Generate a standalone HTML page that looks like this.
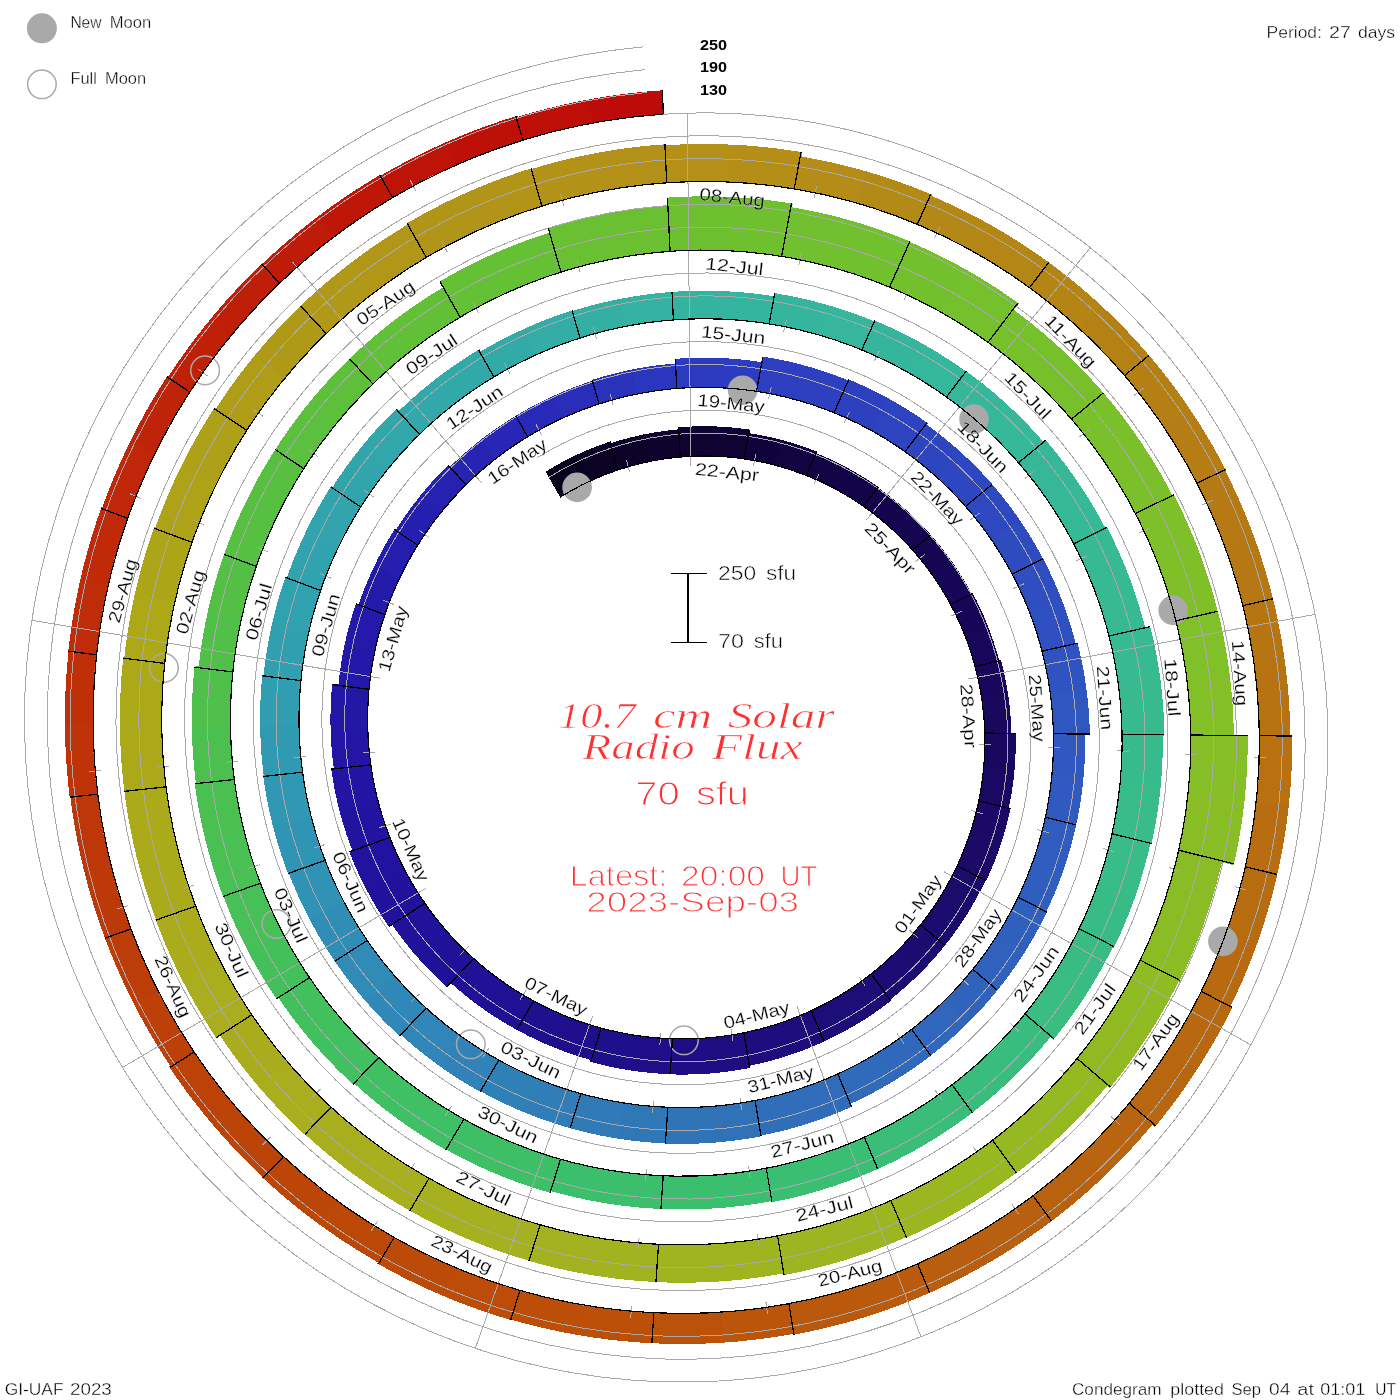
<!DOCTYPE html>
<html lang="en"><head><meta charset="utf-8"><title>10.7 cm Solar Radio Flux Condegram</title>
<style>html,body{margin:0;padding:0;background:#fff}body{width:1400px;height:1400px;overflow:hidden}svg{display:block}</style>
</head><body>
<svg width="1400" height="1400" viewBox="0 0 1400 1400" role="img" aria-label="10.7 cm Solar Radio Flux condegram">
<rect width="1400" height="1400" fill="#fff"/>
<g shape-rendering="crispEdges" stroke="none">
<path fill="#09031e" d="M560.26 497.5 L565.83 494.1 L571.48 490.84 L577.21 487.71 L583.03 484.72 L588.92 481.87 L577.42 454.52 L570.87 457.66 L564.4 460.95 L558.02 464.4 L551.73 468 L545.54 471.75 Z"/>
<path fill="#0a0323" d="M588.35 482.13 L594.31 479.41 L600.34 476.83 L606.44 474.39 L612.59 472.11 L618.81 469.96 L610.64 441.45 L603.73 443.79 L596.89 446.31 L590.12 448.98 L583.41 451.82 L576.79 454.81 Z"/>
<path fill="#0c0328" d="M618.22 470.16 L624.34 468.2 L630.52 466.38 L636.75 464.71 L643.02 463.19 L649.34 461.81 L644.81 434.23 L637.84 435.72 L630.92 437.38 L624.05 439.19 L617.22 441.17 L610.45 443.31 Z"/>
<path fill="#0d032c" d="M648.71 461.94 L655.06 460.7 L661.44 459.61 L667.85 458.67 L674.28 457.88 L680.74 457.24 L679.45 429.32 L672.33 430 L665.23 430.84 L658.16 431.85 L651.12 433.03 L644.12 434.37 Z"/>
<path fill="#0e0331" d="M680.11 457.3 L686.59 456.8 L693.08 456.46 L699.59 456.27 L706.1 456.23 L712.62 456.35 L714.72 426.41 L707.49 426.25 L700.26 426.26 L693.04 426.45 L685.84 426.8 L678.65 427.32 Z"/>
<path fill="#0f0336" d="M711.98 456.33 L718.5 456.59 L725.02 457.01 L731.53 457.58 L738.04 458.3 L744.53 459.18 L750.09 429.69 L742.9 428.69 L735.69 427.86 L728.47 427.2 L721.24 426.71 L714.01 426.39 Z"/>
<path fill="#10033b" d="M743.89 459.09 L750.37 460.11 L756.82 461.29 L763.26 462.62 L769.66 464.1 L776.04 465.74 L783.9 440.55 L776.93 438.74 L769.92 437.09 L762.88 435.61 L755.81 434.29 L748.72 433.15 Z"/>
<path fill="#110440" d="M775.41 465.57 L781.76 467.35 L788.06 469.28 L794.32 471.35 L800.54 473.58 L806.71 475.96 L817.45 451.86 L810.7 449.23 L803.9 446.77 L797.06 444.47 L790.16 442.34 L783.22 440.37 Z"/>
<path fill="#120445" d="M806.11 475.72 L812.23 478.23 L818.29 480.89 L824.3 483.7 L830.24 486.65 L836.12 489.74 L848.71 468.52 L842.32 465.14 L835.86 461.91 L829.34 458.83 L822.75 455.92 L816.09 453.16 Z"/>
<path fill="#13044a" d="M835.54 489.43 L841.36 492.65 L847.1 496.02 L852.76 499.52 L858.35 503.15 L863.85 506.93 L878.82 487.31 L872.85 483.19 L866.78 479.21 L860.63 475.39 L854.4 471.71 L848.08 468.19 Z"/>
<path fill="#14044e" d="M863.32 506.55 L868.74 510.44 L874.07 514.47 L879.32 518.62 L884.46 522.9 L889.51 527.31 L906.18 510.06 L900.72 505.26 L895.15 500.6 L889.47 496.08 L883.69 491.69 L877.82 487.45 Z"/>
<path fill="#150551" d="M889.02 526.87 L893.98 531.39 L898.83 536.03 L903.58 540.79 L908.21 545.66 L912.74 550.64 L931.29 535.45 L926.4 530.02 L921.39 524.72 L916.26 519.55 L911.01 514.5 L905.65 509.58 Z"/>
<path fill="#150553" d="M912.3 550.15 L916.72 555.24 L921.02 560.43 L925.2 565.73 L929.25 571.13 L933.18 576.64 L953.37 563.7 L949.13 557.72 L944.75 551.85 L940.24 546.09 L935.59 540.44 L930.82 534.91 Z"/>
<path fill="#160655" d="M932.8 576.09 L936.62 581.68 L940.3 587.37 L943.85 593.14 L947.26 599.01 L950.54 604.96 L972.1 594.45 L968.57 587.99 L964.88 581.62 L961.06 575.35 L957.08 569.18 L952.96 563.11 Z"/>
<path fill="#170657" d="M950.23 604.37 L953.38 610.39 L956.39 616.49 L959.26 622.67 L961.98 628.92 L964.55 635.23 L988.27 626.92 L985.49 620.04 L982.55 613.24 L979.45 606.51 L976.2 599.87 L972.79 593.31 Z"/>
<path fill="#17075a" d="M964.31 634.61 L966.75 640.99 L969.04 647.43 L971.18 653.92 L973.17 660.48 L975 667.08 L999.52 661.57 L997.55 654.39 L995.41 647.26 L993.1 640.19 L990.64 633.18 L988 626.24 Z"/>
<path fill="#18075c" d="M974.82 666.43 L976.52 673.07 L978.05 679.77 L979.43 686.5 L980.64 693.26 L981.7 700.06 L1008.51 697.25 L1007.38 689.82 L1006.07 682.41 L1004.59 675.05 L1002.94 667.73 L1001.12 660.46 Z"/>
<path fill="#18085e" d="M981.6 699.4 L982.51 706.22 L983.26 713.08 L983.85 719.95 L984.27 726.85 L984.53 733.75 L1011.49 734.07 L1011.23 726.53 L1010.79 718.99 L1010.17 711.48 L1009.38 703.99 L1008.41 696.52 Z"/>
<path fill="#190860" d="M984.51 733.08 L984.62 739.99 L984.57 746.92 L984.35 753.84 L983.97 760.77 L983.42 767.69 L1014.36 771.68 L1014.99 764.02 L1015.44 756.36 L1015.71 748.69 L1015.8 741.03 L1015.7 733.37 Z"/>
<path fill="#1a0963" d="M983.48 767.01 L982.79 773.93 L981.92 780.83 L980.9 787.71 L979.71 794.58 L978.35 801.42 L1008.62 808.97 L1010.14 801.41 L1011.49 793.82 L1012.65 786.21 L1013.63 778.58 L1014.43 770.93 Z"/>
<path fill="#1a0966" d="M978.49 800.75 L976.99 807.56 L975.33 814.34 L973.5 821.09 L971.51 827.8 L969.36 834.46 L1000.22 846.11 L1002.64 838.71 L1004.88 831.26 L1006.94 823.77 L1008.82 816.23 L1010.51 808.66 Z"/>
<path fill="#1b0a68" d="M969.58 833.81 L967.28 840.44 L964.83 847.01 L962.22 853.52 L959.45 859.98 L956.53 866.38 L985.83 881.53 L989.1 874.44 L992.2 867.27 L995.13 860.04 L997.89 852.74 L1000.46 845.39 Z"/>
<path fill="#1b0b6b" d="M956.82 865.76 L953.76 872.09 L950.55 878.36 L947.18 884.56 L943.67 890.68 L940.01 896.72 L966.75 914.77 L970.83 908.09 L974.75 901.32 L978.5 894.46 L982.09 887.52 L985.51 880.51 Z"/>
<path fill="#1c0b6e" d="M940.37 896.13 L936.58 902.1 L932.64 907.97 L928.56 913.76 L924.34 919.45 L919.98 925.05 L944.45 946.08 L949.3 939.9 L954 933.6 L958.54 927.21 L962.93 920.71 L967.15 914.11 Z"/>
<path fill="#1c0c70" d="M920.42 924.51 L915.94 930.01 L911.32 935.42 L906.58 940.71 L901.7 945.9 L896.7 950.97 L918.56 974.7 L924.12 969.1 L929.54 963.38 L934.81 957.53 L939.95 951.56 L944.93 945.48 Z"/>
<path fill="#1c0c73" d="M897.2 950.48 L892.09 955.45 L886.85 960.3 L881.5 965.03 L876.04 969.64 L870.46 974.11 L889.41 1000.22 L895.61 995.28 L901.68 990.21 L907.62 984.99 L913.43 979.64 L919.11 974.16 Z"/>
<path fill="#1d0d76" d="M871.01 973.68 L865.33 978.04 L859.54 982.27 L853.65 986.36 L847.66 990.31 L841.58 994.13 L858.08 1023.52 L864.86 1019.31 L871.54 1014.93 L878.1 1010.41 L884.55 1005.73 L890.88 1000.91 Z"/>
<path fill="#1d0d79" d="M842.18 993.76 L836.01 997.45 L829.74 1000.99 L823.39 1004.38 L816.95 1007.63 L810.44 1010.72 L823.42 1041.83 L830.67 1038.42 L837.83 1034.84 L844.91 1031.09 L851.88 1027.18 L858.75 1023.11 Z"/>
<path fill="#1d0d7c" d="M811.08 1010.42 L804.49 1013.38 L797.83 1016.18 L791.1 1018.82 L784.3 1021.31 L777.44 1023.63 L786.73 1056.08 L794.36 1053.52 L801.92 1050.79 L809.41 1047.88 L816.82 1044.79 L824.15 1041.54 Z"/>
<path fill="#1d0d7f" d="M778.12 1023.41 L771.2 1025.59 L764.23 1027.61 L757.21 1029.46 L750.14 1031.14 L743.02 1032.66 L748.49 1065.96 L756.39 1064.31 L764.25 1062.46 L772.05 1060.44 L779.8 1058.22 L787.49 1055.83 Z"/>
<path fill="#1e0e82" d="M743.72 1032.52 L736.57 1033.88 L729.39 1035.08 L722.17 1036.11 L714.92 1036.96 L707.65 1037.65 L709.31 1073.53 L717.43 1072.8 L725.53 1071.87 L733.6 1070.76 L741.63 1069.45 L749.62 1067.95 Z"/>
<path fill="#1e0e85" d="M708.36 1037.59 L701.07 1038.12 L693.76 1038.47 L686.44 1038.65 L679.11 1038.66 L671.78 1038.49 L669.27 1074.32 L677.45 1074.54 L685.63 1074.56 L693.8 1074.39 L701.96 1074.03 L710.11 1073.47 Z"/>
<path fill="#1e0e87" d="M672.5 1038.51 L665.17 1038.19 L657.84 1037.69 L650.51 1037.02 L643.2 1036.17 L635.91 1035.15 L629.29 1070.26 L637.42 1071.43 L645.57 1072.4 L653.73 1073.18 L661.9 1073.77 L670.08 1074.16 Z"/>
<path fill="#1e0f8a" d="M636.63 1035.25 L629.35 1034.07 L622.1 1032.72 L614.88 1031.19 L607.68 1029.5 L600.53 1027.62 L589.88 1061.73 L597.84 1063.84 L605.85 1065.77 L613.9 1067.5 L621.98 1069.04 L630.09 1070.38 Z"/>
<path fill="#1f0f8d" d="M601.23 1027.82 L594.11 1025.79 L587.04 1023.59 L580.01 1021.23 L573.04 1018.69 L566.12 1015.99 L552.37 1046.86 L560.03 1049.87 L567.74 1052.71 L575.52 1055.36 L583.35 1057.82 L591.23 1060.09 Z"/>
<path fill="#1f1090" d="M566.8 1016.27 L559.94 1013.41 L553.14 1010.4 L546.41 1007.22 L539.75 1003.88 L533.17 1000.38 L515.93 1029.44 L523.21 1033.34 L530.57 1037.06 L538.01 1040.61 L545.53 1043.98 L553.12 1047.16 Z"/>
<path fill="#201093" d="M533.81 1000.73 L527.3 997.09 L520.87 993.29 L514.53 989.33 L508.28 985.22 L502.13 980.96 L481.63 1007.82 L488.43 1012.56 L495.33 1017.13 L502.34 1021.53 L509.44 1025.77 L516.64 1029.83 Z"/>
<path fill="#201196" d="M502.73 981.39 L496.66 976.99 L490.69 972.45 L484.83 967.77 L479.08 962.94 L473.44 957.98 L449.96 982.27 L456.19 987.79 L462.54 993.15 L469.01 998.36 L475.59 1003.41 L482.29 1008.29 Z"/>
<path fill="#201199" d="M473.98 958.47 L468.45 953.38 L463.03 948.16 L457.73 942.8 L452.55 937.32 L447.51 931.71 L416.95 956.74 L422.59 963.07 L428.39 969.26 L434.32 975.3 L440.39 981.2 L446.6 986.95 Z"/>
<path fill="#21129c" d="M448 932.26 L443.07 926.54 L438.27 920.7 L433.62 914.74 L429.1 908.67 L424.72 902.48 L391.46 923.8 L396.35 930.77 L401.4 937.61 L406.61 944.33 L411.98 950.91 L417.49 957.37 Z"/>
<path fill="#21129e" d="M425.14 903.09 L420.9 896.81 L416.8 890.43 L412.85 883.94 L409.05 877.36 L405.4 870.68 L366.46 889.67 L370.57 897.26 L374.85 904.75 L379.3 912.13 L383.93 919.4 L388.72 926.55 Z"/>
<path fill="#2113a0" d="M405.75 871.34 L402.25 864.58 L398.91 857.74 L395.73 850.81 L392.71 843.8 L389.85 836.72 L348.97 851.05 L352.18 859.1 L355.57 867.07 L359.15 874.94 L362.91 882.73 L366.86 890.42 Z"/>
<path fill="#2214a1" d="M390.13 837.42 L387.42 830.27 L384.89 823.06 L382.52 815.78 L380.33 808.44 L378.31 801.04 L339.24 809.81 L341.48 818.13 L343.92 826.39 L346.54 834.58 L349.36 842.71 L352.37 850.75 Z"/>
<path fill="#2215a3" d="M378.5 801.77 L376.64 794.33 L374.95 786.83 L373.45 779.3 L372.12 771.73 L370.96 764.12 L331.14 768.29 L332.4 776.85 L333.87 785.36 L335.53 793.83 L337.39 802.26 L339.45 810.63 Z"/>
<path fill="#2316a4" d="M371.07 764.86 L370.08 757.22 L369.27 749.56 L368.65 741.87 L368.21 734.16 L367.95 726.44 L330.5 726 L330.76 734.61 L331.23 743.2 L331.89 751.78 L332.76 760.33 L333.84 768.86 Z"/>
<path fill="#2317a6" d="M367.97 727.2 L367.87 719.47 L367.96 711.73 L368.24 703.99 L368.69 696.25 L369.34 688.52 L332.2 683.73 L331.45 692.35 L330.91 700.97 L330.58 709.59 L330.44 718.22 L330.52 726.84 Z"/>
<path fill="#2318a7" d="M369.26 689.28 L370.07 681.56 L371.07 673.85 L372.24 666.17 L373.6 658.51 L375.14 650.87 L344.92 643.33 L343.2 651.68 L341.69 660.07 L340.38 668.48 L339.27 676.91 L338.36 685.37 Z"/>
<path fill="#2419a9" d="M374.98 651.62 L376.69 644.02 L378.58 636.45 L380.65 628.92 L382.9 621.44 L385.33 614.01 L356.18 603.01 L353.5 611.14 L351.01 619.32 L348.72 627.55 L346.63 635.83 L344.74 644.15 Z"/>
<path fill="#241aaa" d="M385.08 614.74 L387.67 607.36 L390.44 600.03 L393.38 592.77 L396.49 585.58 L399.78 578.45 L374.58 565.42 L370.99 573.15 L367.59 580.95 L364.37 588.83 L361.35 596.77 L358.52 604.78 Z"/>
<path fill="#251dad" d="M399.45 579.15 L402.89 572.09 L406.51 565.11 L410.29 558.21 L414.23 551.4 L418.34 544.68 L394.82 528.81 L390.35 536.09 L386.04 543.48 L381.92 550.95 L377.98 558.52 L374.22 566.17 Z"/>
<path fill="#251faf" d="M417.93 545.33 L422.19 538.7 L426.6 532.16 L431.18 525.73 L435.9 519.4 L440.79 513.17 L420.37 495.63 L415.08 502.34 L409.95 509.17 L404.99 516.11 L400.2 523.17 L395.58 530.33 Z"/>
<path fill="#2621b1" d="M440.3 513.78 L445.32 507.66 L450.48 501.66 L455.79 495.77 L461.25 490.01 L466.84 484.38 L448.6 464.58 L442.54 470.65 L436.63 476.86 L430.88 483.21 L425.28 489.68 L419.84 496.28 Z"/>
<path fill="#2724b4" d="M466.29 484.93 L472 479.41 L477.85 474.03 L483.83 468.78 L489.94 463.68 L496.17 458.71 L481.86 439 L475.16 444.31 L468.6 449.77 L462.17 455.38 L455.88 461.14 L449.73 467.05 Z"/>
<path fill="#2726b6" d="M495.56 459.19 L501.9 454.36 L508.36 449.68 L514.94 445.14 L521.62 440.77 L528.41 436.54 L516.48 415.3 L509.19 419.81 L502.01 424.49 L494.95 429.34 L488.01 434.34 L481.19 439.51 Z"/>
<path fill="#2829b8" d="M527.74 436.95 L534.63 432.87 L541.62 428.96 L548.7 425.21 L555.88 421.62 L563.14 418.2 L553.76 395.72 L545.96 399.36 L538.26 403.19 L530.66 407.2 L523.16 411.38 L515.76 415.73 Z"/>
<path fill="#292dba" d="M562.43 418.53 L569.77 415.27 L577.19 412.18 L584.69 409.27 L592.26 406.53 L599.91 403.97 L593.2 380.55 L585 383.27 L576.88 386.19 L568.83 389.29 L560.87 392.59 L552.99 396.07 Z"/>
<path fill="#2a32bc" d="M599.15 404.21 L606.85 401.82 L614.61 399.6 L622.43 397.57 L630.3 395.73 L638.22 394.07 L634.12 369.12 L625.62 370.88 L617.16 372.85 L608.76 375.01 L600.41 377.37 L592.13 379.93 Z"/>
<path fill="#2b36be" d="M637.44 394.22 L645.39 392.73 L653.39 391.43 L661.42 390.32 L669.48 389.4 L677.57 388.67 L676.4 363.41 L667.71 364.18 L659.05 365.15 L650.43 366.32 L641.84 367.7 L633.29 369.28 Z"/>
<path fill="#2c3ac0" d="M676.77 388.73 L684.88 388.17 L693 387.81 L701.13 387.63 L709.28 387.65 L717.42 387.87 L719.52 358.01 L710.66 357.75 L701.81 357.71 L692.96 357.87 L684.13 358.25 L675.32 358.83 Z"/>
<path fill="#2c3cc0" d="M716.62 387.84 L724.77 388.23 L732.91 388.81 L741.04 389.59 L749.15 390.56 L757.25 391.72 L762.8 362.31 L754 361.02 L745.18 359.94 L736.35 359.08 L727.5 358.42 L718.65 357.97 Z"/>
<path fill="#2d3ec0" d="M756.46 391.6 L764.53 392.94 L772.58 394.47 L780.59 396.19 L788.57 398.11 L796.5 400.21 L807.12 366.22 L798.38 363.87 L789.59 361.73 L780.75 359.8 L771.88 358.09 L762.98 356.59 Z"/>
<path fill="#2d40c0" d="M795.73 400 L803.62 402.27 L811.46 404.74 L819.25 407.39 L826.98 410.23 L834.64 413.25 L849.14 380.72 L840.7 377.36 L832.19 374.2 L823.61 371.25 L814.97 368.51 L806.27 365.98 Z"/>
<path fill="#2d41c0" d="M833.9 412.95 L841.5 416.14 L849.03 419.51 L856.48 423.06 L863.86 426.79 L871.15 430.7 L889.84 399.18 L881.8 394.84 L873.67 390.69 L865.44 386.74 L857.13 382.99 L848.73 379.44 Z"/>
<path fill="#2d43c0" d="M870.43 430.31 L877.64 434.38 L884.76 438.61 L891.77 443.03 L898.69 447.6 L905.5 452.35 L927.73 423.22 L920.22 417.95 L912.6 412.87 L904.86 407.97 L897.01 403.27 L889.06 398.75 Z"/>
<path fill="#2e45c0" d="M904.83 451.88 L911.54 456.77 L918.14 461.83 L924.62 467.04 L930.98 472.41 L937.21 477.94 L961.48 452.82 L954.65 446.72 L947.67 440.8 L940.56 435.04 L933.32 429.46 L925.96 424.06 Z"/>
<path fill="#2e47c0" d="M936.61 477.39 L942.73 483.05 L948.71 488.86 L954.56 494.81 L960.28 500.91 L965.85 507.14 L992.87 485.01 L986.77 478.14 L980.51 471.42 L974.09 464.86 L967.53 458.46 L960.82 452.21 Z"/>
<path fill="#2e48c0" d="M965.31 506.53 L970.74 512.88 L976.03 519.37 L981.17 525.99 L986.16 532.73 L990.98 539.6 L1020.33 520.79 L1015.05 513.24 L1009.59 505.81 L1003.97 498.53 L998.17 491.38 L992.22 484.38 Z"/>
<path fill="#2e4bc0" d="M990.51 538.92 L995.19 545.89 L999.71 552.97 L1004.06 560.17 L1008.24 567.47 L1012.25 574.88 L1043.58 559.6 L1039.2 551.46 L1034.63 543.43 L1029.87 535.51 L1024.94 527.72 L1019.82 520.04 Z"/>
<path fill="#2f4ec0" d="M1011.87 574.15 L1015.72 581.64 L1019.39 589.23 L1022.89 596.91 L1026.21 604.67 L1029.34 612.52 L1062.23 600.99 L1058.81 592.36 L1055.2 583.83 L1051.38 575.39 L1047.37 567.04 L1043.16 558.8 Z"/>
<path fill="#2f50c0" d="M1029.04 611.75 L1032 619.67 L1034.78 627.66 L1037.37 635.72 L1039.77 643.85 L1041.98 652.04 L1075.99 644.4 L1073.59 635.41 L1070.98 626.48 L1068.16 617.63 L1065.14 608.84 L1061.9 600.14 Z"/>
<path fill="#2f53c0" d="M1041.77 651.23 L1043.8 659.47 L1045.64 667.77 L1047.28 676.1 L1048.73 684.48 L1049.97 692.9 L1086.46 689.08 L1085.11 679.79 L1083.55 670.55 L1081.76 661.35 L1079.76 652.21 L1077.55 643.12 Z"/>
<path fill="#3056c0" d="M1049.86 692.08 L1050.92 700.53 L1051.79 709.01 L1052.45 717.51 L1052.92 726.03 L1053.17 734.57 L1089.86 735 L1089.6 725.6 L1089.11 716.2 L1088.41 706.83 L1087.48 697.48 L1086.34 688.17 Z"/>
<path fill="#3058c0" d="M1053.16 733.73 L1053.23 742.28 L1053.11 750.83 L1052.78 759.38 L1052.24 767.93 L1051.51 776.47 L1083.24 780.56 L1084.06 771.27 L1084.67 761.96 L1085.05 752.65 L1085.21 743.34 L1085.15 734.04 Z"/>
<path fill="#305abf" d="M1051.59 775.63 L1050.67 784.16 L1049.54 792.67 L1048.22 801.15 L1046.69 809.61 L1044.96 818.04 L1076 825.79 L1077.91 816.62 L1079.59 807.42 L1081.06 798.19 L1082.3 788.93 L1083.33 779.65 Z"/>
<path fill="#305cbf" d="M1045.14 817.21 L1043.23 825.61 L1041.11 833.96 L1038.8 842.26 L1036.29 850.51 L1033.59 858.71 L1063.52 870.01 L1066.48 861.1 L1069.24 852.12 L1071.77 843.1 L1074.09 834.02 L1076.2 824.89 Z"/>
<path fill="#305ebe" d="M1033.86 857.91 L1030.98 866.05 L1027.9 874.12 L1024.63 882.13 L1021.16 890.06 L1017.51 897.92 L1045.93 912.61 L1049.92 904.08 L1053.71 895.46 L1057.29 886.76 L1060.66 877.98 L1063.82 869.13 Z"/>
<path fill="#3060bd" d="M1017.87 897.15 L1014.05 904.93 L1010.04 912.62 L1005.85 920.22 L1001.47 927.72 L996.91 935.12 L1024 953.4 L1028.98 945.35 L1033.77 937.19 L1038.36 928.93 L1042.75 920.56 L1046.94 912.09 Z"/>
<path fill="#3062bd" d="M997.37 934.4 L992.65 941.71 L987.75 948.9 L982.69 955.99 L977.45 962.95 L972.04 969.8 L996.83 991.1 L1002.73 983.66 L1008.45 976.09 L1013.99 968.39 L1019.34 960.56 L1024.5 952.62 Z"/>
<path fill="#3064bc" d="M972.58 969.13 L967.03 975.87 L961.31 982.47 L955.44 988.94 L949.4 995.27 L943.22 1001.46 L965.36 1025.5 L972.11 1018.77 L978.69 1011.9 L985.11 1004.87 L991.35 997.69 L997.41 990.38 Z"/>
<path fill="#3066bb" d="M943.83 1000.86 L937.51 1006.93 L931.04 1012.84 L924.43 1018.6 L917.68 1024.21 L910.8 1029.66 L930 1056.1 L937.51 1050.19 L944.87 1044.1 L952.08 1037.85 L959.13 1031.43 L966.03 1024.85 Z"/>
<path fill="#3068bb" d="M911.48 1029.13 L904.47 1034.44 L897.33 1039.58 L890.07 1044.55 L882.69 1049.35 L875.19 1053.98 L891.23 1082.54 L899.41 1077.53 L907.45 1072.32 L915.37 1066.93 L923.15 1061.35 L930.79 1055.59 Z"/>
<path fill="#306aba" d="M875.93 1053.54 L868.33 1058.01 L860.62 1062.3 L852.81 1066.41 L844.89 1070.33 L836.88 1074.07 L849.49 1104.3 L858.22 1100.26 L866.84 1096 L875.36 1091.55 L883.76 1086.9 L892.04 1082.06 Z"/>
<path fill="#306cb9" d="M837.67 1073.72 L829.57 1077.28 L821.39 1080.66 L813.12 1083.85 L804.77 1086.84 L796.35 1089.63 L806.23 1124.12 L815.47 1121.09 L824.63 1117.83 L833.7 1114.37 L842.68 1110.69 L851.56 1106.8 Z"/>
<path fill="#306eb9" d="M797.18 1089.36 L788.69 1091.98 L780.14 1094.39 L771.53 1096.6 L762.86 1098.6 L754.14 1100.4 L759.95 1135.81 L769.51 1133.87 L779.01 1131.69 L788.46 1129.29 L797.83 1126.67 L807.14 1123.84 Z"/>
<path fill="#3071b8" d="M755 1100.24 L746.24 1101.85 L737.43 1103.26 L728.59 1104.46 L719.72 1105.44 L710.82 1106.22 L712.52 1142.79 L722.29 1141.96 L732.02 1140.9 L741.73 1139.61 L751.39 1138.09 L761.01 1136.35 Z"/>
<path fill="#3074b8" d="M711.7 1106.16 L702.78 1106.74 L693.84 1107.12 L684.89 1107.28 L675.93 1107.23 L666.97 1106.97 L664.41 1143.49 L674.24 1143.8 L684.07 1143.88 L693.88 1143.73 L703.69 1143.34 L713.48 1142.72 Z"/>
<path fill="#3077b8" d="M667.85 1107.01 L658.9 1106.55 L649.95 1105.89 L641.01 1105.01 L632.09 1103.91 L623.19 1102.61 L616.43 1138.43 L626.18 1139.89 L635.96 1141.11 L645.76 1142.1 L655.57 1142.86 L665.39 1143.38 Z"/>
<path fill="#307ab8" d="M624.06 1102.74 L615.19 1101.25 L606.34 1099.54 L597.54 1097.62 L588.78 1095.49 L580.06 1093.15 L569.19 1127.95 L578.74 1130.54 L588.33 1132.89 L597.98 1135.02 L607.67 1136.92 L617.39 1138.58 Z"/>
<path fill="#307db8" d="M580.91 1093.39 L572.25 1090.86 L563.63 1088.13 L555.08 1085.19 L546.6 1082.05 L538.19 1078.7 L523.35 1112 L532.56 1115.69 L541.85 1119.16 L551.21 1122.4 L560.63 1125.42 L570.13 1128.21 Z"/>
<path fill="#3080b8" d="M539.01 1079.04 L530.66 1075.51 L522.4 1071.78 L514.22 1067.86 L506.13 1063.74 L498.14 1059.42 L479.54 1090.77 L488.28 1095.52 L497.13 1100.06 L506.08 1104.38 L515.12 1108.49 L524.25 1112.37 Z"/>
<path fill="#3082b8" d="M498.92 1059.85 L491.02 1055.36 L483.22 1050.69 L475.52 1045.82 L467.94 1040.77 L460.48 1035.54 L438 1065 L446.16 1070.76 L454.46 1076.32 L462.88 1081.68 L471.43 1086.83 L480.08 1091.77 Z"/>
<path fill="#3086b8" d="M461.21 1036.06 L453.85 1030.66 L446.63 1025.09 L439.53 1019.35 L432.56 1013.43 L425.74 1007.35 L399.98 1034 L407.45 1040.69 L415.07 1047.2 L422.83 1053.51 L430.74 1059.64 L438.79 1065.58 Z"/>
<path fill="#3088b8" d="M426.4 1007.95 L419.7 1001.72 L413.15 995.32 L406.74 988.77 L400.49 982.06 L394.4 975.21 L364.37 999.8 L371.05 1007.37 L377.91 1014.77 L384.94 1022 L392.14 1029.05 L399.49 1035.93 Z"/>
<path fill="#308cb7" d="M394.99 975.89 L389.04 968.89 L383.26 961.76 L377.64 954.48 L372.19 947.07 L366.92 939.52 L334.23 960.47 L340.01 968.78 L345.99 976.95 L352.15 984.98 L358.49 992.84 L365.02 1000.55 Z"/>
<path fill="#308eb6" d="M367.43 940.27 L362.32 932.61 L357.38 924.82 L352.63 916.92 L348.07 908.9 L343.69 900.76 L308.77 917.79 L313.55 926.75 L318.55 935.58 L323.75 944.29 L329.16 952.87 L334.76 961.31 Z"/>
<path fill="#3092b5" d="M344.12 901.57 L339.91 893.34 L335.91 885 L332.09 876.57 L328.48 868.05 L325.07 859.43 L288.4 872.29 L292.13 881.77 L296.08 891.16 L300.24 900.44 L304.63 909.61 L309.23 918.67 Z"/>
<path fill="#3094b4" d="M325.4 860.28 L322.17 851.59 L319.15 842.82 L316.33 833.98 L313.72 825.06 L311.33 816.08 L272.56 824.78 L275.17 834.68 L278.02 844.51 L281.09 854.26 L284.4 863.93 L287.93 873.52 Z"/>
<path fill="#3098b3" d="M311.55 816.96 L309.35 807.93 L307.36 798.83 L305.59 789.69 L304.03 780.5 L302.69 771.28 L263.17 775.42 L264.62 785.59 L266.31 795.71 L268.24 805.78 L270.4 815.8 L272.8 825.76 Z"/>
<path fill="#309ab2" d="M302.81 772.18 L301.67 762.92 L300.75 753.63 L300.04 744.31 L299.56 734.98 L299.3 725.63 L260.1 725.16 L260.36 735.44 L260.87 745.71 L261.61 755.96 L262.6 766.18 L263.83 776.36 Z"/>
<path fill="#309eb1" d="M299.32 726.54 L299.26 717.18 L299.42 707.82 L299.81 698.45 L300.42 689.09 L301.25 679.74 L262.37 674.73 L261.43 685 L260.74 695.29 L260.28 705.58 L260.08 715.88 L260.12 726.17 Z"/>
<path fill="#30a0b0" d="M301.16 680.66 L302.19 671.32 L303.44 662.01 L304.92 652.72 L306.62 643.47 L308.54 634.25 L271.76 625.07 L269.63 635.17 L267.75 645.3 L266.11 655.47 L264.71 665.67 L263.55 675.9 Z"/>
<path fill="#30a1af" d="M308.34 635.15 L310.46 625.97 L312.79 616.84 L315.34 607.76 L318.11 598.73 L321.1 589.77 L285.64 576.39 L282.34 586.19 L279.29 596.07 L276.47 606.01 L273.88 616.01 L271.54 626.06 Z"/>
<path fill="#31a3ae" d="M320.8 590.65 L323.98 581.75 L327.37 572.92 L330.97 564.17 L334.78 555.5 L338.8 546.92 L306.56 530.24 L302.15 539.59 L297.97 549.04 L294.02 558.58 L290.3 568.2 L286.8 577.91 Z"/>
<path fill="#31a4ad" d="M338.4 547.75 L342.6 539.25 L347.01 530.85 L351.62 522.55 L356.43 514.36 L361.44 506.28 L331.34 485.97 L325.87 494.77 L320.6 503.7 L315.55 512.74 L310.72 521.89 L306.12 531.15 Z"/>
<path fill="#31a5ac" d="M360.94 507.07 L366.12 499.09 L371.49 491.23 L377.05 483.5 L382.8 475.9 L388.72 468.43 L362.38 445.78 L355.92 453.88 L349.66 462.13 L343.6 470.52 L337.74 479.04 L332.1 487.7 Z"/>
<path fill="#31a6ab" d="M388.14 469.15 L394.23 461.81 L400.49 454.6 L406.94 447.55 L413.55 440.64 L420.32 433.89 L396.79 408.34 L389.41 415.66 L382.21 423.14 L375.2 430.79 L368.37 438.6 L361.74 446.57 Z"/>
<path fill="#32a8aa" d="M419.65 434.55 L426.58 427.94 L433.66 421.49 L440.9 415.21 L448.3 409.1 L455.84 403.16 L437.37 377.74 L429.23 384.12 L421.25 390.69 L413.44 397.45 L405.79 404.38 L398.31 411.49 Z"/>
<path fill="#32a9a9" d="M455.09 403.74 L462.76 397.96 L470.57 392.36 L478.52 386.95 L486.59 381.72 L494.8 376.69 L479.41 349.29 L470.56 354.7 L461.85 360.32 L453.27 366.13 L444.84 372.15 L436.57 378.36 Z"/>
<path fill="#32aaa8" d="M493.99 377.17 L502.3 372.31 L510.74 367.65 L519.28 363.18 L527.94 358.91 L536.7 354.85 L525.57 328.18 L516.18 332.51 L506.9 337.06 L497.73 341.83 L488.69 346.81 L479.77 352.01 Z"/>
<path fill="#33ada6" d="M535.84 355.24 L544.69 351.36 L553.64 347.7 L562.67 344.24 L571.8 341 L581 337.97 L573.04 310.19 L563.18 313.41 L553.4 316.87 L543.72 320.55 L534.13 324.46 L524.64 328.59 Z"/>
<path fill="#33afa4" d="M580.09 338.26 L589.36 335.43 L598.7 332.82 L608.11 330.43 L617.58 328.27 L627.1 326.32 L622.52 298.4 L612.33 300.46 L602.21 302.76 L592.15 305.3 L582.15 308.07 L572.24 311.08 Z"/>
<path fill="#34b2a2" d="M626.16 326.5 L635.73 324.77 L645.34 323.25 L654.99 321.97 L664.67 320.91 L674.39 320.09 L673.08 291.83 L662.69 292.69 L652.34 293.8 L642.02 295.15 L631.75 296.75 L621.52 298.59 Z"/>
<path fill="#34b4a0" d="M673.43 320.16 L683.17 319.54 L692.92 319.16 L702.68 319 L712.45 319.08 L722.23 319.39 L724.21 291.16 L713.76 290.81 L703.32 290.71 L692.89 290.86 L682.46 291.26 L672.06 291.9 Z"/>
<path fill="#34b59f" d="M721.27 319.35 L731.04 319.87 L740.8 320.62 L750.55 321.6 L760.27 322.82 L769.97 324.26 L775.22 296.46 L764.85 294.9 L754.46 293.58 L744.05 292.51 L733.62 291.69 L723.18 291.12 Z"/>
<path fill="#35b59e" d="M769.02 324.11 L778.7 325.77 L788.33 327.65 L797.93 329.77 L807.48 332.11 L816.97 334.68 L826.35 304.66 L816.14 301.87 L805.87 299.33 L795.55 297.03 L785.19 294.98 L774.78 293.18 Z"/>
<path fill="#35b69d" d="M816.04 334.42 L825.49 337.2 L834.87 340.2 L844.18 343.43 L853.42 346.87 L862.58 350.54 L875.38 321.81 L865.54 317.84 L855.61 314.11 L845.59 310.63 L835.51 307.38 L825.35 304.37 Z"/>
<path fill="#35b69c" d="M861.69 350.17 L870.77 354.04 L879.77 358.12 L888.67 362.42 L897.47 366.94 L906.17 371.66 L922.71 343.78 L913.35 338.68 L903.87 333.79 L894.28 329.14 L884.59 324.72 L874.81 320.54 Z"/>
<path fill="#35b79b" d="M905.32 371.19 L913.93 376.1 L922.41 381.21 L930.78 386.53 L939.03 392.06 L947.14 397.77 L966.8 372.01 L958.07 365.83 L949.2 359.86 L940.19 354.11 L931.06 348.58 L921.8 343.27 Z"/>
<path fill="#36b79a" d="M946.35 397.21 L954.35 403.1 L962.21 409.19 L969.92 415.46 L977.49 421.92 L984.91 428.57 L1007.7 404.98 L999.71 397.8 L991.56 390.82 L983.26 384.04 L974.8 377.46 L966.18 371.09 Z"/>
<path fill="#36b899" d="M984.19 427.91 L991.47 434.71 L998.59 441.69 L1005.55 448.84 L1012.34 456.16 L1018.95 463.64 L1044.32 442.86 L1037.21 434.78 L1029.9 426.88 L1022.42 419.16 L1014.76 411.62 L1006.92 404.27 Z"/>
<path fill="#36b898" d="M1018.31 462.9 L1024.77 470.53 L1031.05 478.31 L1037.15 486.25 L1043.06 494.33 L1048.78 502.56 L1078.77 483.34 L1072.58 474.41 L1066.19 465.63 L1059.6 457.01 L1052.8 448.56 L1045.81 440.27 Z"/>
<path fill="#36b996" d="M1048.23 501.74 L1053.77 510.09 L1059.12 518.58 L1064.27 527.19 L1069.22 535.93 L1073.96 544.8 L1105.98 529.19 L1100.86 519.57 L1095.51 510.09 L1089.95 500.73 L1084.17 491.52 L1078.17 482.46 Z"/>
<path fill="#37b994" d="M1073.5 543.92 L1078.06 552.89 L1082.4 561.96 L1086.52 571.15 L1090.43 580.43 L1094.12 589.81 L1129.42 577.43 L1125.43 567.22 L1121.2 557.11 L1116.73 547.11 L1112.03 537.22 L1107.09 527.45 Z"/>
<path fill="#37ba92" d="M1093.77 588.89 L1097.26 598.35 L1100.53 607.9 L1103.57 617.52 L1106.38 627.23 L1108.96 637 L1145.46 628.81 L1142.68 618.17 L1139.64 607.61 L1136.35 597.12 L1132.82 586.73 L1129.04 576.43 Z"/>
<path fill="#37ba90" d="M1108.72 636.04 L1111.09 645.87 L1113.24 655.77 L1115.14 665.71 L1116.81 675.71 L1118.25 685.74 L1160.61 681.3 L1159.06 670.26 L1157.25 659.26 L1155.18 648.32 L1152.85 637.43 L1150.26 626.61 Z"/>
<path fill="#37bb8e" d="M1118.12 684.76 L1119.34 694.83 L1120.32 704.93 L1121.06 715.06 L1121.56 725.22 L1121.82 735.38 L1164.41 735.89 L1164.15 724.71 L1163.63 713.55 L1162.84 702.41 L1161.79 691.29 L1160.47 680.22 Z"/>
<path fill="#38bb8c" d="M1121.8 734.38 L1121.85 744.56 L1121.65 754.74 L1121.2 764.92 L1120.52 775.09 L1119.59 785.25 L1160.25 790.49 L1161.29 779.36 L1162.06 768.22 L1162.57 757.08 L1162.82 745.92 L1162.8 734.78 Z"/>
<path fill="#38bc8a" d="M1119.7 784.25 L1118.55 794.39 L1117.17 804.51 L1115.54 814.6 L1113.67 824.65 L1111.57 834.66 L1151.34 844.59 L1153.67 833.63 L1155.74 822.63 L1157.55 811.58 L1159.09 800.5 L1160.36 789.4 Z"/>
<path fill="#38bc88" d="M1111.78 833.68 L1109.46 843.65 L1106.9 853.57 L1104.11 863.43 L1101.08 873.22 L1097.81 882.95 L1135.1 897.02 L1138.68 886.41 L1142.02 875.71 L1145.09 864.95 L1147.91 854.13 L1150.47 843.24 Z"/>
<path fill="#38bc85" d="M1098.14 882 L1094.67 891.66 L1090.96 901.24 L1087.03 910.74 L1082.87 920.14 L1078.49 929.45 L1113.88 947.76 L1118.69 937.6 L1123.26 927.34 L1127.57 916.98 L1131.64 906.53 L1135.46 895.99 Z"/>
<path fill="#38bc83" d="M1078.93 928.54 L1074.34 937.76 L1069.53 946.87 L1064.51 955.88 L1059.27 964.76 L1053.82 973.52 L1085.8 995.11 L1091.76 985.58 L1097.49 975.92 L1102.98 966.13 L1108.23 956.22 L1113.25 946.19 Z"/>
<path fill="#39bd80" d="M1054.36 972.67 L1048.72 981.32 L1042.87 989.83 L1036.81 998.21 L1030.56 1006.45 L1024.11 1014.55 L1053.37 1039.7 L1060.41 1030.91 L1067.24 1021.95 L1073.85 1012.84 L1080.24 1003.58 L1086.4 994.18 Z"/>
<path fill="#39bd7e" d="M1024.75 1013.76 L1018.12 1021.72 L1011.3 1029.52 L1004.29 1037.16 L997.1 1044.64 L989.73 1051.95 L1013.24 1077.48 L1021.21 1069.6 L1028.99 1061.54 L1036.57 1053.31 L1043.95 1044.9 L1051.12 1036.32 Z"/>
<path fill="#39bd7c" d="M990.46 1051.24 L982.93 1058.4 L975.23 1065.38 L967.36 1072.17 L959.33 1078.79 L951.13 1085.21 L971.52 1113.29 L980.38 1106.37 L989.06 1099.25 L997.57 1091.93 L1005.89 1084.42 L1014.03 1076.71 Z"/>
<path fill="#39bd79" d="M951.94 1084.59 L943.61 1090.84 L935.13 1096.89 L926.49 1102.75 L917.72 1108.4 L908.81 1113.84 L925.8 1144.1 L935.43 1138.24 L944.9 1132.16 L954.23 1125.86 L963.4 1119.35 L972.4 1112.62 Z"/>
<path fill="#39bd77" d="M909.69 1113.31 L900.66 1118.57 L891.5 1123.61 L882.23 1128.44 L872.83 1133.04 L863.32 1137.43 L876.68 1169.45 L886.95 1164.74 L897.1 1159.79 L907.11 1154.6 L917 1149.18 L926.75 1143.53 Z"/>
<path fill="#3abe74" d="M864.26 1137.01 L854.65 1141.19 L844.94 1145.14 L835.14 1148.87 L825.24 1152.36 L815.26 1155.62 L824.82 1189.02 L835.6 1185.52 L846.28 1181.77 L856.86 1177.77 L867.34 1173.53 L877.71 1169.03 Z"/>
<path fill="#3abe72" d="M816.24 1155.31 L806.18 1158.36 L796.05 1161.17 L785.85 1163.74 L775.58 1166.06 L765.26 1168.15 L770.89 1202.43 L782.02 1200.2 L793.1 1197.71 L804.1 1194.96 L815.03 1191.95 L825.88 1188.69 Z"/>
<path fill="#3abe70" d="M766.27 1167.95 L755.9 1169.82 L745.48 1171.43 L735.02 1172.8 L724.53 1173.93 L714 1174.8 L715.56 1208.32 L726.88 1207.4 L738.17 1206.21 L749.42 1204.76 L760.63 1203.04 L771.79 1201.06 Z"/>
<path fill="#3bbe6e" d="M715.04 1174.72 L704.49 1175.37 L693.92 1175.77 L683.34 1175.92 L672.76 1175.81 L662.17 1175.45 L659.82 1208.93 L671.2 1209.33 L682.59 1209.46 L693.96 1209.33 L705.32 1208.92 L716.67 1208.24 Z"/>
<path fill="#3cbf6c" d="M663.21 1175.5 L652.63 1174.92 L642.06 1174.08 L631.5 1172.99 L620.97 1171.66 L610.47 1170.07 L604.25 1203.04 L615.54 1204.77 L626.85 1206.23 L638.2 1207.42 L649.56 1208.33 L660.94 1208.98 Z"/>
<path fill="#3cbf6a" d="M611.5 1170.23 L601.02 1168.42 L590.59 1166.36 L580.21 1164.04 L569.87 1161.49 L559.59 1158.68 L549.59 1190.71 L560.63 1193.74 L571.73 1196.51 L582.89 1199.02 L594.1 1201.26 L605.35 1203.22 Z"/>
<path fill="#3dbf68" d="M560.6 1158.97 L550.38 1155.94 L540.23 1152.67 L530.15 1149.16 L520.16 1145.4 L510.25 1141.41 L495.82 1173.81 L506.5 1178.13 L517.28 1182.2 L528.14 1186.01 L539.08 1189.56 L550.1 1192.84 Z"/>
<path fill="#3ebf66" d="M511.22 1141.81 L501.39 1137.61 L491.66 1133.17 L482.04 1128.49 L472.52 1123.59 L463.11 1118.46 L445.02 1148.96 L455.15 1154.51 L465.41 1159.82 L475.78 1164.88 L486.27 1169.69 L496.86 1174.24 Z"/>
<path fill="#3fc064" d="M464.03 1118.97 L454.73 1113.64 L445.56 1108.09 L436.52 1102.31 L427.61 1096.32 L418.84 1090.11 L397.07 1118.64 L406.52 1125.35 L416.13 1131.84 L425.88 1138.09 L435.77 1144.1 L445.79 1149.88 Z"/>
<path fill="#3fc062" d="M419.69 1090.73 L411.05 1084.34 L402.56 1077.73 L394.23 1070.93 L386.05 1063.92 L378.04 1056.72 L353.1 1082.53 L361.74 1090.31 L370.55 1097.89 L379.53 1105.25 L388.68 1112.39 L397.99 1119.31 Z"/>
<path fill="#40c060" d="M378.82 1057.43 L370.96 1050.06 L363.27 1042.49 L355.76 1034.74 L348.43 1026.81 L341.29 1018.71 L312.38 1042.39 L320.09 1051.17 L328.01 1059.77 L336.12 1068.17 L344.42 1076.37 L352.91 1084.37 Z"/>
<path fill="#42c05d" d="M341.98 1019.51 L335.01 1011.25 L328.24 1002.82 L321.66 994.22 L315.29 985.47 L309.12 976.57 L277.66 996.73 L284.31 1006.38 L291.19 1015.86 L298.29 1025.17 L305.6 1034.3 L313.13 1043.26 Z"/>
<path fill="#44c05a" d="M309.72 977.44 L303.74 968.4 L297.97 959.22 L292.42 949.89 L287.09 940.43 L281.99 930.84 L246.4 948.19 L251.93 958.62 L257.7 968.91 L263.71 979.05 L269.96 989.04 L276.44 998.88 Z"/>
<path fill="#46c057" d="M282.48 931.79 L277.57 922.09 L272.9 912.27 L268.46 902.33 L264.25 892.29 L260.29 882.15 L222.93 895.24 L227.22 906.27 L231.77 917.19 L236.57 927.99 L241.63 938.67 L246.94 949.22 Z"/>
<path fill="#48c054" d="M260.66 883.15 L256.91 872.91 L253.4 862.59 L250.14 852.18 L247.12 841.68 L244.35 831.12 L205.35 839.87 L208.34 851.36 L211.6 862.77 L215.13 874.09 L218.92 885.32 L222.98 896.46 Z"/>
<path fill="#4ac051" d="M244.61 832.16 L242.06 821.53 L239.77 810.83 L237.73 800.08 L235.94 789.28 L234.41 778.44 L194.67 782.6 L196.31 794.39 L198.22 806.13 L200.42 817.82 L202.89 829.45 L205.63 841 Z"/>
<path fill="#4cc04e" d="M234.55 779.5 L233.26 768.62 L232.22 757.7 L231.44 746.76 L230.92 735.79 L230.66 724.81 L191.84 724.35 L192.1 736.25 L192.64 748.14 L193.46 760 L194.57 771.84 L195.95 783.64 Z"/>
<path fill="#4ec04b" d="M230.67 725.89 L230.65 714.9 L230.88 703.9 L231.38 692.91 L232.14 681.93 L233.16 670.96 L194.66 666 L193.53 677.88 L192.69 689.78 L192.13 701.69 L191.85 713.61 L191.85 725.52 Z"/>
<path fill="#50c048" d="M233.05 672.04 L234.31 661.09 L235.82 650.17 L237.6 639.28 L239.64 628.43 L241.93 617.63 L208.3 609.23 L205.81 620.84 L203.61 632.49 L201.68 644.19 L200.03 655.92 L198.66 667.69 Z"/>
<path fill="#53c045" d="M241.69 618.68 L244.22 607.93 L247 597.23 L250.04 586.59 L253.33 576.02 L256.87 565.53 L224.44 553.29 L220.62 564.55 L217.07 575.9 L213.78 587.32 L210.78 598.82 L208.04 610.37 Z"/>
<path fill="#56c042" d="M256.52 566.55 L260.28 556.13 L264.3 545.8 L268.57 535.56 L273.07 525.42 L277.83 515.38 L247.04 499.46 L241.92 510.23 L237.06 521.12 L232.46 532.11 L228.12 543.2 L224.06 554.39 Z"/>
<path fill="#58c040" d="M277.35 516.36 L282.32 506.42 L287.52 496.6 L292.96 486.9 L298.63 477.32 L304.53 467.88 L275.8 448.49 L269.45 458.62 L263.34 468.89 L257.48 479.3 L251.87 489.84 L246.52 500.51 Z"/>
<path fill="#5bc03d" d="M303.94 468.8 L310.05 459.48 L316.38 450.3 L322.92 441.27 L329.69 432.4 L336.66 423.68 L310.43 401.13 L302.93 410.48 L295.65 420 L288.61 429.68 L281.8 439.52 L275.23 449.52 Z"/>
<path fill="#5ec03a" d="M335.97 424.53 L343.13 415.96 L350.5 407.55 L358.08 399.32 L365.85 391.27 L373.81 383.4 L350.38 357.96 L341.81 366.4 L333.46 375.03 L325.32 383.85 L317.39 392.85 L309.69 402.04 Z"/>
<path fill="#60c038" d="M373.02 384.16 L381.15 376.46 L389.47 368.95 L397.97 361.64 L406.65 354.53 L415.5 347.62 L395.17 319.63 L385.67 327.03 L376.35 334.65 L367.21 342.49 L358.27 350.53 L349.53 358.78 Z"/>
<path fill="#62c036" d="M414.62 348.28 L423.62 341.56 L432.78 335.05 L442.1 328.76 L451.56 322.68 L461.18 316.83 L444.24 286.68 L433.92 292.94 L423.75 299.44 L413.74 306.18 L403.9 313.15 L394.23 320.35 Z"/>
<path fill="#64c035" d="M460.23 317.4 L469.97 311.75 L479.85 306.33 L489.87 301.15 L500 296.2 L510.26 291.5 L494.34 253.35 L483.18 258.44 L472.15 263.8 L461.26 269.41 L450.51 275.28 L439.9 281.4 Z"/>
<path fill="#66c034" d="M509.25 291.95 L519.61 287.46 L530.08 283.21 L540.66 279.22 L551.33 275.47 L562.09 271.98 L550.71 232.24 L539 236.02 L527.4 240.07 L515.9 244.39 L504.51 248.98 L493.24 253.84 Z"/>
<path fill="#68c032" d="M561.03 272.31 L571.87 269.05 L582.79 266.04 L593.79 263.29 L604.85 260.81 L615.98 258.58 L608.6 213.61 L596.41 216.02 L584.28 218.72 L572.23 221.71 L560.26 224.98 L548.38 228.53 Z"/>
<path fill="#6ac031" d="M614.89 258.79 L626.06 256.8 L637.29 255.08 L648.56 253.62 L659.87 252.43 L671.21 251.51 L669.1 205.99 L656.68 206.97 L644.29 208.25 L631.95 209.82 L619.65 211.68 L607.4 213.84 Z"/>
<path fill="#6cc030" d="M670.1 251.59 L681.46 250.91 L692.84 250.51 L704.23 250.37 L715.63 250.5 L727.03 250.91 L730.81 197 L718.13 196.52 L705.45 196.34 L692.78 196.47 L680.11 196.89 L667.47 197.62 Z"/>
<path fill="#6ec02f" d="M725.91 250.85 L737.31 251.5 L748.69 252.42 L760.05 253.61 L771.39 255.07 L782.69 256.8 L792.71 203.7 L780.14 201.75 L767.53 200.09 L754.9 198.74 L742.24 197.69 L729.57 196.94 Z"/>
<path fill="#70c02f" d="M781.59 256.62 L792.86 258.59 L804.09 260.83 L815.26 263.34 L826.38 266.12 L837.44 269.16 L852.46 221.07 L840.26 217.69 L827.98 214.6 L815.65 211.8 L803.25 209.3 L790.81 207.1 Z"/>
<path fill="#71c02e" d="M836.36 268.85 L847.35 272.12 L858.27 275.66 L869.11 279.46 L879.86 283.52 L890.52 287.84 L911.02 241.82 L899.26 237.03 L887.4 232.53 L875.45 228.3 L863.4 224.37 L851.27 220.73 Z"/>
<path fill="#73c02d" d="M889.48 287.4 L900.04 291.94 L910.51 296.74 L920.86 301.79 L931.09 307.08 L941.2 312.62 L966.57 269.85 L955.44 263.72 L944.17 257.86 L932.77 252.28 L921.25 246.96 L909.61 241.93 Z"/>
<path fill="#75c02d" d="M940.22 312.06 L950.21 317.82 L960.07 323.81 L969.79 330.04 L979.36 336.51 L988.79 343.2 L1018.95 303.67 L1008.58 296.27 L998.05 289.12 L987.35 282.24 L976.49 275.6 L965.49 269.24 Z"/>
<path fill="#76c02c" d="M987.87 342.53 L997.15 349.43 L1006.27 356.55 L1015.23 363.88 L1024.01 371.43 L1032.61 379.19 L1061.52 349.27 L1052.2 340.83 L1042.68 332.62 L1032.98 324.64 L1023.09 316.9 L1013.03 309.4 Z"/>
<path fill="#78c02b" d="M1031.78 378.42 L1040.22 386.37 L1048.47 394.52 L1056.53 402.87 L1064.4 411.41 L1072.06 420.14 L1104.25 393.78 L1095.95 384.29 L1087.43 375.01 L1078.7 365.94 L1069.76 357.08 L1060.61 348.44 Z"/>
<path fill="#7ac02b" d="M1071.32 419.28 L1078.8 428.18 L1086.07 437.25 L1093.13 446.51 L1099.96 455.93 L1106.58 465.51 L1141.61 443.07 L1134.45 432.65 L1127.05 422.42 L1119.41 412.37 L1111.54 402.51 L1103.44 392.84 Z"/>
<path fill="#7bc02a" d="M1105.94 464.57 L1112.35 474.3 L1118.54 484.18 L1124.48 494.22 L1130.2 504.4 L1135.67 514.72 L1173.07 496.49 L1167.15 485.29 L1160.98 474.24 L1154.54 463.34 L1147.85 452.61 L1140.92 442.04 Z"/>
<path fill="#7dc029" d="M1135.14 513.7 L1140.39 524.13 L1145.4 534.7 L1150.16 545.38 L1154.66 556.19 L1158.91 567.1 L1199.61 552.83 L1195.01 540.95 L1190.13 529.2 L1184.98 517.57 L1179.56 506.07 L1173.87 494.71 Z"/>
<path fill="#7fc029" d="M1158.5 566.02 L1162.52 577.03 L1166.27 588.13 L1169.76 599.32 L1172.99 610.6 L1175.95 621.96 L1218.03 612.52 L1214.83 600.16 L1211.35 587.89 L1207.57 575.71 L1203.51 563.63 L1199.17 551.66 Z"/>
<path fill="#80c028" d="M1175.67 620.85 L1178.38 632.27 L1180.83 643.77 L1183 655.32 L1184.9 666.93 L1186.52 678.58 L1229.65 674.06 L1227.9 661.38 L1225.86 648.76 L1223.52 636.19 L1220.88 623.68 L1217.95 611.25 Z"/>
<path fill="#83bf27" d="M1186.38 677.44 L1187.75 689.13 L1188.85 700.86 L1189.67 712.62 L1190.21 724.4 L1190.46 736.2 L1233.82 736.71 L1233.56 723.89 L1233 711.08 L1232.13 698.29 L1230.96 685.53 L1229.49 672.82 Z"/>
<path fill="#85be26" d="M1190.45 735.04 L1190.46 746.84 L1190.18 758.65 L1189.63 770.45 L1188.8 782.25 L1187.68 794.02 L1244.45 801.34 L1245.72 788.22 L1246.69 775.07 L1247.33 761.91 L1247.67 748.75 L1247.69 735.59 Z"/>
<path fill="#88bd25" d="M1187.8 792.87 L1186.43 804.63 L1184.79 816.35 L1182.86 828.04 L1180.66 839.69 L1178.17 851.28 L1233.71 865.14 L1236.51 852.23 L1238.99 839.25 L1241.17 826.23 L1243.04 813.16 L1244.59 800.06 Z"/>
<path fill="#8abd25" d="M1178.43 850.15 L1175.7 861.7 L1172.69 873.18 L1169.41 884.6 L1165.86 895.94 L1162.04 907.19 L1204.17 923.1 L1208.36 910.84 L1212.26 898.48 L1215.85 886.05 L1219.15 873.53 L1222.15 860.95 Z"/>
<path fill="#8cbc24" d="M1162.43 906.09 L1158.36 917.27 L1154.03 928.36 L1149.44 939.34 L1144.58 950.22 L1139.46 960.99 L1179.47 981.68 L1185.06 969.96 L1190.38 958.11 L1195.41 946.15 L1200.15 934.08 L1204.6 921.9 Z"/>
<path fill="#8fbb23" d="M1139.98 959.94 L1134.63 970.6 L1129.03 981.13 L1123.17 991.53 L1117.07 1001.8 L1110.72 1011.92 L1147.36 1036.65 L1154.28 1025.65 L1160.94 1014.49 L1167.33 1003.18 L1173.44 991.73 L1179.28 980.15 Z"/>
<path fill="#91ba22" d="M1111.35 1010.94 L1104.79 1020.93 L1097.98 1030.76 L1090.94 1040.44 L1083.67 1049.95 L1076.17 1059.3 L1109.69 1088.11 L1117.86 1077.96 L1125.79 1067.63 L1133.46 1057.12 L1140.89 1046.43 L1148.05 1035.58 Z"/>
<path fill="#94b921" d="M1076.91 1058.39 L1069.21 1067.57 L1061.29 1076.57 L1053.15 1085.39 L1044.8 1094.01 L1036.25 1102.44 L1063.92 1132.48 L1073.18 1123.39 L1082.22 1114.08 L1091.03 1104.57 L1099.61 1094.85 L1107.95 1084.94 Z"/>
<path fill="#96b921" d="M1037.1 1101.63 L1028.36 1109.87 L1019.42 1117.91 L1010.29 1125.75 L1000.97 1133.36 L991.47 1140.76 L1015.47 1173.8 L1025.75 1165.83 L1035.83 1157.62 L1045.71 1149.17 L1055.38 1140.5 L1064.84 1131.6 Z"/>
<path fill="#98b820" d="M992.41 1140.04 L982.75 1147.24 L972.92 1154.2 L962.91 1160.94 L952.75 1167.44 L942.43 1173.69 L962.28 1209.04 L973.43 1202.3 L984.42 1195.3 L995.23 1188.05 L1005.86 1180.54 L1016.31 1172.79 Z"/>
<path fill="#9ab720" d="M943.45 1173.09 L932.99 1179.13 L922.39 1184.92 L911.64 1190.46 L900.77 1195.75 L889.76 1200.78 L905.37 1238.19 L917.26 1232.78 L929.01 1227.09 L940.62 1221.13 L952.08 1214.89 L963.38 1208.39 Z"/>
<path fill="#9bb620" d="M890.84 1200.3 L879.73 1205.09 L868.5 1209.63 L857.15 1213.89 L845.71 1217.89 L834.16 1221.62 L845.17 1260.04 L857.62 1256.04 L869.97 1251.75 L882.21 1247.16 L894.33 1242.3 L906.32 1237.14 Z"/>
<path fill="#9db520" d="M835.3 1221.26 L823.67 1224.74 L811.96 1227.95 L800.17 1230.88 L788.31 1233.52 L776.38 1235.89 L782.85 1275.33 L795.71 1272.8 L808.51 1269.96 L821.22 1266.83 L833.85 1263.39 L846.39 1259.66 Z"/>
<path fill="#9fb520" d="M777.55 1235.67 L765.57 1237.78 L753.53 1239.61 L741.45 1241.15 L729.33 1242.41 L717.18 1243.38 L718.95 1281.51 L732.01 1280.49 L745.03 1279.16 L758.01 1277.52 L770.94 1275.58 L783.82 1273.33 Z"/>
<path fill="#a0b420" d="M718.37 1243.29 L706.2 1244 L694 1244.42 L681.79 1244.55 L669.58 1244.39 L657.37 1243.94 L654.69 1282.01 L667.81 1282.52 L680.93 1282.71 L694.05 1282.59 L707.15 1282.16 L720.23 1281.42 Z"/>
<path fill="#a2b320" d="M658.56 1243.99 L646.36 1243.28 L634.17 1242.28 L622 1240.98 L609.85 1239.4 L597.74 1237.53 L590.69 1274.96 L603.68 1276.99 L616.72 1278.71 L629.79 1280.12 L642.88 1281.22 L655.99 1282 Z"/>
<path fill="#a3b220" d="M598.93 1237.72 L586.86 1235.59 L574.84 1233.17 L562.87 1230.47 L550.96 1227.48 L539.13 1224.21 L527.77 1260.57 L540.47 1264.1 L553.25 1267.33 L566.1 1270.25 L579 1272.87 L591.96 1275.18 Z"/>
<path fill="#a5b120" d="M540.28 1224.54 L528.51 1221.01 L516.83 1217.21 L505.22 1213.12 L493.72 1208.76 L482.31 1204.12 L466.89 1238.74 L479.12 1243.74 L491.46 1248.44 L503.9 1252.84 L516.44 1256.94 L529.07 1260.75 Z"/>
<path fill="#a7b120" d="M483.43 1204.59 L472.12 1199.7 L460.92 1194.55 L449.85 1189.13 L438.9 1183.45 L428.09 1177.5 L408.74 1210.1 L420.34 1216.5 L432.08 1222.61 L443.95 1228.44 L455.96 1233.99 L468.08 1239.25 Z"/>
<path fill="#a8b020" d="M429.14 1178.1 L418.45 1171.92 L407.9 1165.49 L397.51 1158.8 L387.27 1151.87 L377.19 1144.69 L354.2 1174.82 L364.99 1182.54 L375.97 1189.99 L387.11 1197.18 L398.41 1204.1 L409.87 1210.74 Z"/>
<path fill="#a8af1f" d="M378.17 1145.4 L368.25 1138.01 L358.49 1130.37 L348.92 1122.51 L339.54 1114.41 L330.34 1106.09 L304 1133.35 L313.85 1142.29 L323.91 1150.99 L334.16 1159.44 L344.61 1167.64 L355.25 1175.59 Z"/>
<path fill="#a9ae1e" d="M331.23 1106.92 L322.21 1098.4 L313.39 1089.66 L304.78 1080.72 L296.37 1071.56 L288.18 1062.21 L258.5 1086.52 L267.28 1096.57 L276.28 1106.41 L285.52 1116.02 L294.97 1125.41 L304.64 1134.57 Z"/>
<path fill="#a9ad1d" d="M288.98 1063.13 L280.99 1053.6 L273.22 1043.88 L265.69 1033.97 L258.38 1023.87 L251.32 1013.61 L219.02 1034.3 L226.58 1045.33 L234.4 1056.17 L242.48 1066.82 L250.79 1077.27 L259.35 1087.51 Z"/>
<path fill="#aaad1d" d="M252 1014.62 L245.16 1004.2 L238.56 993.61 L232.21 982.87 L226.11 971.97 L220.28 960.93 L181.95 979.61 L188.24 991.56 L194.82 1003.35 L201.66 1014.97 L208.78 1026.43 L216.16 1037.71 Z"/>
<path fill="#aaac1c" d="M220.84 962.01 L215.24 950.84 L209.9 939.53 L204.83 928.1 L200.03 916.54 L195.5 904.86 L155.27 918.97 L160.14 931.59 L165.31 944.1 L170.77 956.47 L176.52 968.7 L182.56 980.78 Z"/>
<path fill="#aaab1b" d="M195.93 906.01 L191.66 894.23 L187.66 882.35 L183.94 870.38 L180.51 858.31 L177.36 846.16 L136.21 855.39 L139.59 868.52 L143.28 881.56 L147.27 894.5 L151.57 907.33 L156.17 920.06 Z"/>
<path fill="#abaa1a" d="M177.66 847.35 L174.77 835.13 L172.17 822.83 L169.87 810.48 L167.86 798.06 L166.14 785.6 L124.19 790 L126.03 803.46 L128.18 816.86 L130.65 830.21 L133.43 843.48 L136.53 856.69 Z"/>
<path fill="#aba919" d="M166.29 786.82 L164.84 774.32 L163.69 761.77 L162.83 749.2 L162.27 736.61 L162.01 724 L119.88 723.5 L120.14 737.11 L120.72 750.7 L121.62 764.27 L122.85 777.81 L124.4 791.31 Z"/>
<path fill="#aca919" d="M162.02 725.23 L162.04 712.61 L162.35 699.99 L162.96 687.38 L163.87 674.77 L165.08 662.19 L123.28 656.8 L121.96 670.38 L120.96 683.98 L120.28 697.59 L119.92 711.21 L119.89 724.83 Z"/>
<path fill="#aca818" d="M164.94 663.42 L166.42 650.86 L168.2 638.33 L170.28 625.84 L172.65 613.39 L175.32 601 L135.47 591.06 L132.58 604.4 L130 617.79 L127.75 631.24 L125.81 644.73 L124.2 658.26 Z"/>
<path fill="#ada518" d="M175.05 602.22 L177.98 589.88 L181.21 577.61 L184.73 565.42 L188.55 553.31 L192.65 541.28 L154.22 526.78 L149.79 539.72 L145.67 552.76 L141.85 565.88 L138.36 579.09 L135.18 592.36 Z"/>
<path fill="#ada218" d="M192.23 542.46 L196.59 530.52 L201.23 518.68 L206.16 506.95 L211.36 495.34 L216.85 483.84 L181.55 465.59 L175.65 477.93 L170.04 490.4 L164.73 502.99 L159.72 515.7 L155.02 528.51 Z"/>
<path fill="#aea018" d="M216.3 484.97 L222.03 473.59 L228.03 462.34 L234.3 451.24 L240.83 440.28 L247.63 429.48 L214.69 407.25 L207.38 418.84 L200.34 430.6 L193.59 442.52 L187.13 454.58 L180.96 466.8 Z"/>
<path fill="#af9d18" d="M246.95 430.53 L253.98 419.87 L261.26 409.37 L268.8 399.04 L276.58 388.9 L284.6 378.93 L255.77 354.15 L247.16 364.81 L238.82 375.66 L230.74 386.7 L222.93 397.93 L215.39 409.33 Z"/>
<path fill="#af9a18" d="M283.8 379.9 L292.04 370.1 L300.52 360.5 L309.22 351.1 L318.15 341.9 L327.3 332.91 L301.53 304.95 L291.73 314.56 L282.16 324.39 L272.83 334.44 L263.75 344.71 L254.91 355.18 Z"/>
<path fill="#b09818" d="M326.39 333.78 L335.73 324.99 L345.28 316.42 L355.04 308.07 L365 299.95 L375.16 292.07 L352.82 261.3 L341.94 269.73 L331.27 278.4 L320.81 287.32 L310.58 296.48 L300.56 305.88 Z"/>
<path fill="#b19618" d="M374.15 292.83 L384.48 285.16 L394.99 277.74 L405.68 270.57 L416.54 263.64 L427.56 256.98 L408.94 223.83 L397.14 230.95 L385.51 238.34 L374.06 246 L362.8 253.93 L351.74 262.12 Z"/>
<path fill="#b19518" d="M426.47 257.62 L437.65 251.19 L448.97 245.02 L460.45 239.12 L472.07 233.5 L483.82 228.14 L468.6 191.68 L455.99 197.41 L443.52 203.43 L431.2 209.74 L419.04 216.34 L407.05 223.22 Z"/>
<path fill="#b29418" d="M482.66 228.66 L494.53 223.55 L506.53 218.73 L518.64 214.2 L530.86 209.95 L543.18 205.99 L532.3 168.01 L519.08 172.24 L505.97 176.78 L492.97 181.62 L480.1 186.78 L467.36 192.23 Z"/>
<path fill="#b39218" d="M541.97 206.36 L554.38 202.66 L566.88 199.26 L579.47 196.15 L592.13 193.34 L604.86 190.84 L598.59 152.6 L584.95 155.27 L571.39 158.26 L557.91 161.57 L544.51 165.2 L531.21 169.14 Z"/>
<path fill="#b39118" d="M603.61 191.07 L616.4 188.83 L629.24 186.9 L642.13 185.27 L655.06 183.95 L668.03 182.94 L666.24 144.23 L652.35 145.3 L638.5 146.7 L624.7 148.42 L610.94 150.48 L597.25 152.85 Z"/>
<path fill="#b49018" d="M666.76 183.02 L679.75 182.28 L692.76 181.86 L705.78 181.74 L718.81 181.92 L731.84 182.42 L734.48 144.76 L720.56 144.21 L706.63 143.99 L692.71 144.1 L678.81 144.54 L664.92 145.31 Z"/>
<path fill="#b48e17" d="M730.56 182.36 L743.58 183.14 L756.58 184.23 L769.56 185.62 L782.51 187.33 L795.42 189.34 L802.41 152.24 L788.62 150.07 L774.79 148.23 L760.92 146.72 L747.02 145.54 L733.11 144.7 Z"/>
<path fill="#b48c17" d="M794.15 189.13 L807.02 191.42 L819.84 194.02 L832.6 196.92 L845.29 200.12 L857.91 203.63 L867.84 171.82 L854.47 168.08 L841.01 164.67 L827.49 161.58 L813.9 158.81 L800.25 156.36 Z"/>
<path fill="#b48a16" d="M856.67 203.27 L869.22 207.05 L881.68 211.13 L894.04 215.5 L906.3 220.17 L918.45 225.13 L932.02 194.68 L919.14 189.41 L906.14 184.45 L893.04 179.79 L879.83 175.46 L866.54 171.44 Z"/>
<path fill="#b48816" d="M917.27 224.63 L929.32 229.85 L941.24 235.36 L953.04 241.15 L964.71 247.22 L976.23 253.58 L992.57 226.03 L980.39 219.3 L968.06 212.86 L955.59 206.72 L942.98 200.88 L930.24 195.34 Z"/>
<path fill="#b48615" d="M975.11 252.94 L986.49 259.54 L997.73 266.41 L1008.8 273.55 L1019.7 280.96 L1030.43 288.62 L1049.86 263.16 L1038.52 255.04 L1027 247.2 L1015.3 239.63 L1003.42 232.35 L991.39 225.36 Z"/>
<path fill="#b48415" d="M1029.39 287.86 L1039.96 295.76 L1050.34 303.91 L1060.53 312.3 L1070.52 320.94 L1080.31 329.82 L1102.57 306.79 L1092.23 297.38 L1081.67 288.24 L1070.9 279.34 L1059.93 270.71 L1048.76 262.35 Z"/>
<path fill="#b48214" d="M1079.36 328.94 L1088.96 338.03 L1098.35 347.35 L1107.52 356.9 L1116.46 366.66 L1125.17 376.64 L1149.95 356.35 L1140.75 345.78 L1131.31 335.45 L1121.62 325.34 L1111.71 315.48 L1101.56 305.85 Z"/>
<path fill="#b48014" d="M1124.33 375.65 L1132.83 385.82 L1141.09 396.19 L1149.1 406.76 L1156.87 417.53 L1164.38 428.47 L1191.32 411.21 L1183.39 399.63 L1175.19 388.24 L1166.73 377.06 L1158.01 366.08 L1149.03 355.32 Z"/>
<path fill="#b57d13" d="M1163.65 427.39 L1170.93 438.5 L1177.95 449.79 L1184.7 461.24 L1191.17 472.86 L1197.38 484.63 L1226.14 470.62 L1219.59 458.16 L1212.76 445.88 L1205.64 433.76 L1198.23 421.82 L1190.55 410.07 Z"/>
<path fill="#b57a13" d="M1196.78 483.47 L1202.73 495.38 L1208.4 507.43 L1213.79 519.62 L1218.88 531.94 L1223.69 544.38 L1253.09 534.08 L1248.03 520.94 L1242.67 507.93 L1237 495.06 L1231.02 482.33 L1224.75 469.76 Z"/>
<path fill="#b67812" d="M1223.23 543.16 L1227.77 555.71 L1232.01 568.36 L1235.95 581.12 L1239.59 593.98 L1242.93 606.93 L1273.33 600.1 L1269.82 586.44 L1265.99 572.86 L1261.85 559.39 L1257.38 546.03 L1252.61 532.78 Z"/>
<path fill="#b77511" d="M1242.61 605.65 L1245.67 618.67 L1248.42 631.76 L1250.86 644.93 L1252.99 658.15 L1254.8 671.42 L1285.78 668.17 L1283.89 654.16 L1281.66 640.21 L1279.1 626.32 L1276.21 612.5 L1273 598.76 Z"/>
<path fill="#b77211" d="M1254.64 670.12 L1256.16 683.44 L1257.38 696.79 L1258.27 710.18 L1258.85 723.59 L1259.11 737.01 L1290.26 737.38 L1290 723.22 L1289.41 709.07 L1288.48 694.94 L1287.21 680.85 L1285.61 666.8 Z"/>
<path fill="#b87010" d="M1259.1 735.69 L1259.07 749.13 L1258.72 762.56 L1258.06 775.99 L1257.07 789.41 L1255.77 802.8 L1288.67 807.04 L1290.07 792.87 L1291.12 778.67 L1291.85 764.45 L1292.23 750.23 L1292.27 736.01 Z"/>
<path fill="#b86e10" d="M1255.91 801.49 L1254.32 814.86 L1252.41 828.19 L1250.18 841.48 L1247.64 854.72 L1244.78 867.91 L1276.97 875.94 L1280.01 861.99 L1282.71 847.98 L1285.09 833.92 L1287.12 819.81 L1288.82 805.66 Z"/>
<path fill="#b86c10" d="M1245.07 866.62 L1241.93 879.74 L1238.48 892.79 L1234.72 905.76 L1230.65 918.65 L1226.27 931.44 L1257.3 943.15 L1261.95 929.62 L1266.28 915.99 L1270.27 902.27 L1273.94 888.46 L1277.28 874.58 Z"/>
<path fill="#b86a10" d="M1226.71 930.19 L1222.06 942.89 L1217.1 955.48 L1211.84 967.95 L1206.29 980.3 L1200.44 992.52 L1229.91 1007.76 L1236.11 994.84 L1242 981.77 L1247.58 968.58 L1252.84 955.26 L1257.77 941.83 Z"/>
<path fill="#b86810" d="M1201.03 991.33 L1194.92 1003.43 L1188.52 1015.39 L1181.83 1027.19 L1174.87 1038.84 L1167.63 1050.33 L1196.8 1070.01 L1204.5 1057.83 L1211.91 1045.47 L1219.02 1032.95 L1225.83 1020.26 L1232.33 1007.43 Z"/>
<path fill="#b86610" d="M1168.35 1049.21 L1160.86 1060.54 L1153.1 1071.7 L1145.07 1082.67 L1136.78 1093.45 L1128.23 1104.04 L1154.92 1126.99 L1164.01 1115.76 L1172.82 1104.32 L1181.35 1092.68 L1189.6 1080.85 L1197.57 1068.83 Z"/>
<path fill="#b86410" d="M1129.08 1103.01 L1120.3 1113.42 L1111.28 1123.63 L1102.01 1133.61 L1092.5 1143.39 L1082.76 1152.93 L1104.28 1176.29 L1114.57 1166.23 L1124.62 1155.93 L1134.41 1145.4 L1143.94 1134.64 L1153.22 1123.66 Z"/>
<path fill="#b86210" d="M1083.73 1152.01 L1073.78 1161.35 L1063.61 1170.45 L1053.22 1179.32 L1042.62 1187.94 L1031.81 1196.31 L1050.48 1222.01 L1061.89 1213.19 L1073.08 1204.1 L1084.06 1194.76 L1094.8 1185.16 L1105.3 1175.32 Z"/>
<path fill="#b86010" d="M1032.88 1195.5 L1021.89 1203.64 L1010.71 1211.52 L999.33 1219.13 L987.78 1226.48 L976.05 1233.55 L991.56 1261.18 L1003.95 1253.73 L1016.15 1245.99 L1028.15 1237.97 L1039.96 1229.67 L1051.56 1221.09 Z"/>
<path fill="#b95d0e" d="M977.2 1232.87 L965.32 1239.69 L953.27 1246.23 L941.06 1252.49 L928.7 1258.46 L916.2 1264.13 L928.41 1293.38 L941.6 1287.4 L954.64 1281.12 L967.52 1274.54 L980.24 1267.65 L992.79 1260.46 Z"/>
<path fill="#b95a0d" d="M917.43 1263.59 L904.81 1269 L892.05 1274.11 L879.17 1278.92 L866.18 1283.42 L853.07 1287.61 L861.8 1318.08 L875.62 1313.67 L889.33 1308.93 L902.92 1303.87 L916.38 1298.5 L929.71 1292.81 Z"/>
<path fill="#ba580c" d="M854.36 1287.21 L841.16 1291.13 L827.87 1294.73 L814.49 1298.02 L801.03 1300.99 L787.5 1303.64 L792.63 1334.91 L806.9 1332.12 L821.1 1329.01 L835.21 1325.56 L849.24 1321.77 L863.16 1317.66 Z"/>
<path fill="#bb550a" d="M788.83 1303.39 L775.23 1305.75 L761.58 1307.79 L747.88 1309.5 L734.14 1310.89 L720.36 1311.95 L721.79 1342.73 L736.29 1341.63 L750.77 1340.18 L765.2 1338.39 L779.57 1336.25 L793.89 1333.78 Z"/>
<path fill="#bb5209" d="M721.71 1311.86 L707.91 1312.63 L694.08 1313.07 L680.24 1313.18 L666.4 1312.96 L652.56 1312.42 L650.41 1343.15 L664.98 1343.74 L679.55 1343.98 L694.12 1343.88 L708.67 1343.43 L723.21 1342.64 Z"/>
<path fill="#bc5008" d="M653.92 1312.49 L640.09 1311.64 L626.28 1310.47 L612.49 1308.97 L598.74 1307.14 L585.02 1304.99 L579.31 1335.27 L593.75 1337.55 L608.22 1339.49 L622.73 1341.08 L637.27 1342.32 L651.83 1343.23 Z"/>
<path fill="#bc4e08" d="M586.37 1305.22 L572.7 1302.77 L559.08 1299.99 L545.54 1296.9 L532.06 1293.48 L518.66 1289.74 L509.47 1319.15 L523.57 1323.1 L537.75 1326.71 L552.01 1329.98 L566.34 1332.91 L580.73 1335.51 Z"/>
<path fill="#bc4c08" d="M519.97 1290.12 L506.65 1286.09 L493.42 1281.74 L480.3 1277.08 L467.28 1272.11 L454.38 1266.83 L441.68 1295.32 L455.26 1300.9 L468.97 1306.15 L482.79 1311.07 L496.71 1315.66 L510.74 1319.91 Z"/>
<path fill="#bc4a08" d="M455.64 1267.36 L442.85 1261.8 L430.19 1255.93 L417.66 1249.77 L405.28 1243.3 L393.06 1236.54 L377.14 1263.37 L390.01 1270.5 L403.04 1277.32 L416.22 1283.83 L429.55 1290.01 L443.01 1295.88 Z"/>
<path fill="#bc4808" d="M394.25 1237.22 L382.17 1230.2 L370.25 1222.89 L358.5 1215.29 L346.93 1207.42 L335.55 1199.26 L317.39 1223.06 L329.34 1231.64 L341.49 1239.92 L353.83 1247.92 L366.34 1255.61 L379.04 1263 Z"/>
<path fill="#bc4608" d="M336.65 1200.08 L325.44 1191.68 L314.43 1183.01 L303.62 1174.09 L293.02 1164.9 L282.64 1155.46 L261.84 1176.99 L272.74 1186.92 L283.87 1196.58 L295.21 1205.97 L306.78 1215.08 L318.55 1223.91 Z"/>
<path fill="#bc4408" d="M283.65 1156.4 L273.46 1146.74 L263.51 1136.83 L253.79 1126.69 L244.31 1116.31 L235.07 1105.71 L212.42 1124.26 L222.1 1135.4 L232.04 1146.3 L242.23 1156.95 L252.67 1167.36 L263.35 1177.51 Z"/>
<path fill="#bc4208" d="M235.97 1106.76 L226.96 1095.95 L218.2 1084.94 L209.71 1073.71 L201.48 1062.28 L193.52 1050.65 L168.86 1066.45 L177.2 1078.66 L185.83 1090.66 L194.73 1102.45 L203.91 1114.02 L213.36 1125.37 Z"/>
<path fill="#bc4008" d="M194.29 1051.8 L186.58 1039.99 L179.15 1028.01 L172 1015.84 L165.14 1003.51 L158.57 991.01 L133.51 1003.22 L140.38 1016.31 L147.55 1029.23 L155.02 1041.97 L162.79 1054.53 L170.86 1066.89 Z"/>
<path fill="#bd3d08" d="M159.2 992.24 L152.9 979.59 L146.89 966.8 L141.19 953.86 L135.8 940.78 L130.72 927.57 L104.41 936.8 L109.72 950.62 L115.36 964.32 L121.31 977.87 L127.59 991.27 L134.17 1004.51 Z"/>
<path fill="#bd3a08" d="M131.2 928.87 L126.4 915.55 L121.92 902.12 L117.75 888.58 L113.9 874.93 L110.38 861.19 L83.18 867.3 L86.86 881.68 L90.87 895.97 L95.22 910.15 L99.91 924.21 L104.92 938.16 Z"/>
<path fill="#be3708" d="M110.71 862.54 L107.48 848.73 L104.58 834.84 L102.01 820.87 L99.77 806.84 L97.86 792.76 L70.14 795.66 L72.12 810.41 L74.46 825.09 L77.14 839.71 L80.16 854.25 L83.53 868.71 Z"/>
<path fill="#be3308" d="M98.03 794.14 L96.43 780.01 L95.16 765.85 L94.22 751.65 L93.63 737.42 L93.37 723.18 L64.88 722.84 L65.14 737.76 L65.76 752.66 L66.72 767.54 L68.04 782.38 L69.71 797.18 Z"/>
<path fill="#bf3008" d="M93.38 724.58 L93.42 710.33 L93.81 696.08 L94.53 681.84 L95.59 667.61 L96.99 653.41 L68.74 649.77 L67.26 664.64 L66.14 679.54 L65.37 694.46 L64.95 709.38 L64.89 724.31 Z"/>
<path fill="#bf2d08" d="M96.84 654.8 L98.54 640.62 L100.58 626.49 L102.96 612.39 L105.67 598.36 L108.72 584.38 L80.82 577.42 L77.62 592.06 L74.76 606.76 L72.26 621.53 L70.11 636.34 L68.31 651.19 Z"/>
<path fill="#c02a08" d="M108.4 585.75 L111.75 571.84 L115.42 558 L119.43 544.25 L123.76 530.6 L128.42 517.04 L101.52 506.89 L96.63 521.08 L92.08 535.39 L87.87 549.79 L84.01 564.28 L80.49 578.85 Z"/>
<path fill="#c02708" d="M127.95 518.37 L132.9 504.91 L138.17 491.57 L143.75 478.35 L149.66 465.26 L155.87 452.31 L131.14 439.52 L124.63 453.06 L118.45 466.75 L112.59 480.57 L107.07 494.52 L101.88 508.6 Z"/>
<path fill="#c02408" d="M155.25 453.57 L161.74 440.75 L168.53 428.09 L175.63 415.58 L183.03 403.24 L190.72 391.07 L167.65 375.5 L159.59 388.22 L151.85 401.12 L144.41 414.2 L137.29 427.44 L130.49 440.84 Z"/>
<path fill="#bf2108" d="M189.96 392.26 L197.91 380.26 L206.15 368.44 L214.67 356.82 L223.47 345.4 L232.54 334.18 L212.33 316.81 L202.85 328.51 L193.65 340.42 L184.75 352.55 L176.14 364.88 L167.83 377.4 Z"/>
<path fill="#bf1e08" d="M231.64 335.27 L240.95 324.25 L250.53 313.45 L260.36 302.87 L270.45 292.53 L280.78 282.42 L262.72 262.82 L251.93 273.36 L241.39 284.15 L231.12 295.18 L221.11 306.45 L211.38 317.95 Z"/>
<path fill="#be1b08" d="M279.76 283.4 L290.31 273.52 L301.1 263.88 L312.11 254.5 L323.36 245.38 L334.82 236.52 L319.45 215.35 L307.49 224.58 L295.76 234.09 L284.26 243.86 L273 253.9 L261.99 264.21 Z"/>
<path fill="#be1708" d="M333.69 237.38 L345.34 228.76 L357.2 220.43 L369.26 212.37 L381.51 204.6 L393.94 197.12 L381.14 174.31 L368.16 182.11 L355.38 190.2 L342.8 198.59 L330.42 207.27 L318.27 216.25 Z"/>
<path fill="#be1408" d="M392.72 197.84 L405.32 190.63 L418.09 183.71 L431.03 177.1 L444.13 170.79 L457.38 164.79 L447.66 141.49 L433.86 147.73 L420.21 154.29 L406.74 161.17 L393.43 168.36 L380.31 175.86 Z"/>
<path fill="#bd1108" d="M456.07 165.36 L469.45 159.65 L482.97 154.25 L496.62 149.17 L510.39 144.42 L524.28 139.99 L517.32 115.72 L502.86 120.32 L488.52 125.26 L474.31 130.54 L460.23 136.15 L446.3 142.09 Z"/>
<path fill="#bd0e08" d="M522.91 140.41 L536.89 136.28 L550.97 132.48 L565.15 129.01 L579.41 125.88 L593.74 123.09 L589.84 99.27 L574.94 102.17 L560.11 105.41 L545.38 109 L530.74 112.94 L516.21 117.22 Z"/>
<path fill="#bc0b08" d="M592.34 123.35 L606.45 120.91 L620.62 118.8 L634.85 117.02 L649.12 115.57 L663.42 114.45 L662.25 90.34 L647.38 91.5 L632.55 92.99 L617.77 94.83 L603.04 97.02 L588.37 99.54 Z"/>
</g>
<g fill="none" stroke="#a9a9a9" stroke-width="1" shape-rendering="crispEdges">
<path d="M560.11 497.24 L570.86 490.84 L581.92 484.94 L593.26 479.55 L604.86 474.68 L616.7 470.36 L628.75 466.58 L640.98 463.36 L653.38 460.71 L665.9 458.63 L678.54 457.14 L691.25 456.24 L704.02 455.93 L716.81 456.21 L729.59 457.09 L742.35 458.57 L755.04 460.64 L767.65 463.31 L780.14 466.57 L792.49 470.41 L804.67 474.84 L816.65 479.83 L828.41 485.39 L839.92 491.5 L851.15 498.15 L862.08 505.33 L872.68 513.02 L882.93 521.22 L892.81 529.89 L902.28 539.04 L911.34 548.63 L919.96 558.66 L928.11 569.09 L935.79 579.91 L942.96 591.09 L949.62 602.62 L955.74 614.47 L961.32 626.61 L966.33 639.02 L970.77 651.67 L974.62 664.53 L977.88 677.59 L980.52 690.8 L982.55 704.15 L983.97 717.6 L984.75 731.13 L984.9 744.7 L984.43 758.29 L983.31 771.86 L981.57 785.39 L979.19 798.85 L976.18 812.2 L972.54 825.43 L968.29 838.49 L963.43 851.36 L957.96 864.02 L951.9 876.42 L945.26 888.56 L938.04 900.39 L930.27 911.89 L921.96 923.03 L913.13 933.8 L903.78 944.15 L893.95 954.08 L883.65 963.56 L872.9 972.56 L861.73 981.07 L850.15 989.06 L838.19 996.51 L825.88 1003.42 L813.23 1009.75 L800.29 1015.49 L787.07 1020.64 L773.6 1025.17 L759.91 1029.08 L746.04 1032.35 L732 1034.97 L717.83 1036.94 L703.56 1038.25 L689.23 1038.9 L674.85 1038.88 L660.47 1038.19 L646.11 1036.83 L631.81 1034.8 L617.59 1032.1 L603.5 1028.73 L589.55 1024.71 L575.78 1020.03 L562.22 1014.71 L548.91 1008.75 L535.86 1002.17 L523.11 994.98 L510.7 987.19 L498.64 978.82 L486.96 969.88 L475.69 960.39 L464.86 950.37 L454.5 939.84 L444.61 928.83 L435.24 917.34 L426.4 905.41 L418.11 893.07 L410.39 880.33 L403.26 867.23 L396.74 853.78 L390.84 840.03 L385.58 825.99 L380.97 811.7 L377.03 797.19 L373.76 782.49 L371.17 767.63 L369.28 752.64 L368.08 737.56 L367.59 722.41 L367.8 707.24 L368.72 692.06 L370.35 676.92 L372.68 661.85 L375.72 646.89 L379.45 632.05 L383.89 617.39 L389 602.92 L394.79 588.69 L401.25 574.72 L408.37 561.04 L416.12 547.69 L424.5 534.7 L433.49 522.09 L443.07 509.89 L453.22 498.14 L463.93 486.85 L475.17 476.06 L486.91 465.79 L499.14 456.06 L511.83 446.89 L524.95 438.32 L538.47 430.35 L552.37 423.01 L566.62 416.31 L581.19 410.28 L596.05 404.92 L611.16 400.25 L626.5 396.29 L642.02 393.03 L657.71 390.51 L673.52 388.71 L689.41 387.64 L705.37 387.32 L721.35 387.74 L737.31 388.91 L753.22 390.82 L769.05 393.47 L784.77 396.86 L800.33 400.99 L815.71 405.84 L830.86 411.41 L845.76 417.69 L860.38 424.67 L874.67 432.33 L888.62 440.66 L902.17 449.64 L915.32 459.26 L928.02 469.49 L940.25 480.32 L951.98 491.73 L963.19 503.68 L973.84 516.16 L983.91 529.14 L993.38 542.6 L1002.22 556.5 L1010.42 570.82 L1017.96 585.53 L1024.81 600.59 L1030.97 615.98 L1036.41 631.65 L1041.12 647.59 L1045.09 663.76 L1048.3 680.11 L1050.76 696.62 L1052.45 713.25 L1053.36 729.96 L1053.49 746.72 L1052.85 763.49 L1051.42 780.24 L1049.21 796.93 L1046.22 813.51 L1042.46 829.97 L1037.93 846.25 L1032.64 862.33 L1026.6 878.17 L1019.81 893.73 L1012.31 908.98 L1004.08 923.88 L995.17 938.41 L985.57 952.52 L975.31 966.19 L964.41 979.39 L952.89 992.08 L940.78 1004.24 L928.1 1015.84 L914.87 1026.85 L901.13 1037.25 L886.9 1047.01 L872.2 1056.11 L857.09 1064.53 L841.57 1072.24 L825.69 1079.24 L809.48 1085.49 L792.97 1091 L776.21 1095.73 L759.22 1099.69 L742.03 1102.85 L724.7 1105.22 L707.25 1106.78 L689.73 1107.52 L672.16 1107.45 L654.6 1106.56 L637.07 1104.85 L619.62 1102.33 L602.28 1098.99 L585.09 1094.84 L568.09 1089.89 L551.31 1084.14 L534.8 1077.62 L518.59 1070.32 L502.72 1062.26 L487.22 1053.47 L472.12 1043.94 L457.46 1033.72 L443.28 1022.81 L429.6 1011.23 L416.46 999.01 L403.89 986.18 L391.9 972.76 L380.55 958.78 L369.84 944.27 L359.8 929.25 L350.46 913.77 L341.85 897.84 L333.97 881.51 L326.85 864.81 L320.5 847.77 L314.95 830.44 L310.21 812.84 L306.29 795.02 L303.19 777.01 L300.94 758.85 L299.52 740.58 L298.96 722.25 L299.26 703.88 L300.41 685.53 L302.41 667.22 L305.27 649 L308.98 630.92 L313.53 613 L318.92 595.29 L325.13 577.83 L332.16 560.66 L339.99 543.81 L348.6 527.32 L357.99 511.23 L368.12 495.57 L378.99 480.38 L390.57 465.7 L402.83 451.56 L415.76 437.98 L429.32 425 L443.49 412.65 L458.23 400.96 L473.52 389.96 L489.33 379.66 L505.62 370.1 L522.36 361.3 L539.51 353.27 L557.04 346.05 L574.9 339.64 L593.07 334.06 L611.5 329.32 L630.16 325.45 L648.99 322.44 L667.98 320.31 L687.06 319.06 L706.2 318.7 L725.37 319.24 L744.51 320.66 L763.59 322.98 L782.56 326.19 L801.38 330.28 L820.02 335.25 L838.43 341.09 L856.57 347.79 L874.4 355.33 L891.88 363.7 L908.98 372.89 L925.64 382.88 L941.85 393.65 L957.55 405.17 L972.73 417.42 L987.33 430.39 L1001.33 444.03 L1014.69 458.33 L1027.39 473.26 L1039.4 488.77 L1050.69 504.85 L1061.22 521.46 L1070.99 538.55 L1079.96 556.11 L1088.11 574.09 L1095.43 592.44 L1101.89 611.14 L1107.49 630.15 L1112.2 649.41 L1116.01 668.9 L1118.91 688.57 L1120.9 708.37 L1121.96 728.27 L1122.1 748.22 L1121.31 768.18 L1119.59 788.1 L1116.94 807.95 L1113.37 827.67 L1108.88 847.23 L1103.47 866.58 L1097.17 885.69 L1089.97 904.5 L1081.9 922.97 L1072.96 941.08 L1063.18 958.76 L1052.58 976 L1041.17 992.74 L1028.98 1008.95 L1016.04 1024.6 L1002.37 1039.64 L987.99 1054.05 L972.94 1067.79 L957.25 1080.82 L940.96 1093.13 L924.09 1104.68 L906.67 1115.45 L888.76 1125.41 L870.38 1134.53 L851.58 1142.79 L832.39 1150.19 L812.85 1156.68 L793.01 1162.27 L772.91 1166.94 L752.59 1170.66 L732.09 1173.45 L711.46 1175.27 L690.75 1176.14 L670 1176.04 L649.25 1174.98 L628.54 1172.95 L607.93 1169.95 L587.46 1166 L567.18 1161.09 L547.12 1155.23 L527.33 1148.44 L507.86 1140.73 L488.74 1132.11 L470.03 1122.6 L451.76 1112.22 L433.97 1100.99 L416.71 1088.93 L400 1076.06 L383.89 1062.42 L368.42 1048.02 L353.62 1032.91 L339.52 1017.1 L326.16 1000.64 L313.57 983.55 L301.77 965.88 L290.79 947.66 L280.66 928.92 L271.4 909.71 L263.04 890.08 L255.59 870.05 L249.08 849.67 L243.51 828.99 L238.91 808.05 L235.28 786.9 L232.64 765.57 L230.99 744.13 L230.34 722.6 L230.69 701.05 L232.04 679.51 L234.4 658.03 L237.76 636.67 L242.12 615.46 L247.46 594.45 L253.78 573.69 L261.07 553.23 L269.31 533.1 L278.48 513.36 L288.58 494.04 L299.58 475.2 L311.45 456.87 L324.18 439.09 L337.73 421.9 L352.09 405.35 L367.22 389.46 L383.08 374.28 L399.66 359.84 L416.9 346.17 L434.79 333.31 L453.27 321.27 L472.31 310.1 L491.87 299.81 L511.91 290.44 L532.39 282 L553.26 274.51 L574.48 267.99 L596 262.47 L617.78 257.94 L639.76 254.43 L661.92 251.95 L684.18 250.49 L706.52 250.07 L728.87 250.7 L751.19 252.36 L773.44 255.06 L795.55 258.8 L817.5 263.57 L839.22 269.36 L860.67 276.16 L881.8 283.96 L902.57 292.75 L922.93 302.5 L942.83 313.2 L962.24 324.82 L981.1 337.35 L999.38 350.76 L1017.03 365.02 L1034.02 380.09 L1050.31 395.96 L1065.86 412.59 L1080.63 429.94 L1094.59 447.98 L1107.71 466.67 L1119.96 485.96 L1131.32 505.83 L1141.74 526.22 L1151.22 547.1 L1159.72 568.42 L1167.23 590.13 L1173.73 612.2 L1179.2 634.56 L1183.63 657.18 L1187 680 L1189.32 702.98 L1190.56 726.06 L1190.73 749.2 L1189.82 772.35 L1187.83 795.45 L1184.76 818.46 L1180.63 841.32 L1175.43 863.99 L1169.17 886.42 L1161.88 908.55 L1153.55 930.35 L1144.2 951.75 L1133.86 972.72 L1122.55 993.2 L1110.28 1013.16 L1097.09 1032.54 L1082.99 1051.31 L1068.02 1069.41 L1052.2 1086.82 L1035.58 1103.5 L1018.19 1119.39 L1000.05 1134.48 L981.21 1148.72 L961.71 1162.08 L941.6 1174.53 L920.9 1186.05 L899.67 1196.6 L877.95 1206.16 L855.78 1214.71 L833.22 1222.22 L810.31 1228.69 L787.11 1234.08 L763.65 1238.4 L740 1241.62 L716.19 1243.74 L692.29 1244.76 L668.35 1244.65 L644.41 1243.44 L620.53 1241.11 L596.77 1237.67 L573.16 1233.12 L549.77 1227.47 L526.64 1220.74 L503.83 1212.93 L481.39 1204.06 L459.36 1194.14 L437.8 1183.2 L416.75 1171.25 L396.25 1158.33 L376.36 1144.45 L357.12 1129.65 L338.57 1113.96 L320.75 1097.4 L303.71 1080.02 L287.48 1061.84 L272.09 1042.91 L257.59 1023.27 L244 1002.95 L231.37 982 L219.71 960.47 L209.05 938.4 L199.42 915.83 L190.85 892.82 L183.34 869.41 L176.93 845.65 L171.62 821.6 L167.44 797.3 L164.39 772.82 L162.47 748.19 L161.71 723.48 L162.09 698.73 L163.63 674.01 L166.32 649.36 L170.15 624.84 L175.13 600.5 L181.24 576.39 L188.47 552.58 L196.81 529.1 L206.24 506.02 L216.74 483.37 L228.3 461.22 L240.89 439.61 L254.48 418.59 L269.05 398.21 L284.56 378.51 L300.99 359.53 L318.3 341.32 L336.46 323.91 L355.43 307.36 L375.16 291.69 L395.62 276.94 L416.76 263.15 L438.54 250.34 L460.92 238.55 L483.84 227.81 L507.26 218.13 L531.12 209.54 L555.38 202.07 L579.99 195.72 L604.88 190.53 L630.02 186.49 L655.34 183.63 L680.79 181.94 L706.31 181.44 L731.85 182.12 L757.36 184 L782.77 187.06 L808.04 191.31 L833.11 196.73 L857.92 203.32 L882.42 211.06 L906.55 219.94 L930.27 229.95 L953.51 241.05 L976.24 253.24 L998.4 266.48 L1019.93 280.75 L1040.8 296.03 L1060.95 312.27 L1080.34 329.44 L1098.93 347.52 L1116.68 366.46 L1133.54 386.22 L1149.48 406.76 L1164.45 428.05 L1178.44 450.02 L1191.4 472.64 L1203.3 495.87 L1214.12 519.64 L1223.83 543.91 L1232.41 568.63 L1239.84 593.74 L1246.1 619.2 L1251.17 644.94 L1255.04 670.91 L1257.7 697.06 L1259.14 723.33 L1259.36 749.66 L1258.36 776 L1256.13 802.28 L1252.67 828.46 L1248 854.47 L1242.11 880.25 L1235.03 905.76 L1226.76 930.93 L1217.32 955.72 L1206.73 980.06 L1195.01 1003.9 L1182.18 1027.19 L1168.27 1049.88 L1153.3 1071.92 L1137.32 1093.25 L1120.34 1113.84 L1102.4 1133.64 L1083.55 1152.59 L1063.82 1170.66 L1043.26 1187.81 L1021.89 1204 L999.78 1219.2 L976.97 1233.36 L953.5 1246.45 L929.43 1258.45 L904.8 1269.33 L879.67 1279.06 L854.09 1287.61 L828.12 1294.97 L801.82 1301.13 L775.23 1306.05 L748.42 1309.74 L721.44 1312.18 L694.35 1313.36 L667.22 1313.29 L640.09 1311.94 L613.04 1309.34 L586.11 1305.48 L559.36 1300.36 L532.86 1294 L506.66 1286.41 L480.82 1277.6 L455.4 1267.59 L430.45 1256.39 L406.02 1244.04 L382.18 1230.55 L358.97 1215.96 L336.44 1200.29 L314.65 1183.57 L293.64 1165.85 L273.46 1147.15 L254.15 1127.51 L235.76 1106.98 L218.34 1085.6 L201.91 1063.41 L186.52 1040.46 L172.2 1016.8 L158.99 992.48 L146.91 967.55 L135.99 942.07 L126.27 916.08 L117.75 889.64 L110.47 862.82 L104.44 835.66 L99.67 808.22 L96.18 780.58 L93.99 752.77 L93.08 724.87 L93.47 696.94 L95.17 669.02 L98.16 641.2 L102.45 613.52 L108.03 586.05 L114.88 558.84 L123 531.96 L132.37 505.46 L142.96 479.41 L154.77 453.85 L167.77 428.86 L181.92 404.47 L197.21 380.75 L213.6 357.74 L231.06 335.51 L249.54 314.09 L269.02 293.53 L289.45 273.89 L310.79 255.21 L333 237.52 L356.02 220.87 L379.81 205.3 L404.32 190.84 L429.5 177.52 L455.29 165.38 L481.64 154.44 L508.49 144.74 L535.79 136.28 L563.47 129.1 L591.48 123.21 L619.76 118.62 L648.24 115.35"/>
<path d="M548.75 477.37 L560.44 470.47 L572.45 464.11 L584.77 458.3 L597.37 453.06 L610.22 448.41 L623.3 444.35 L636.57 440.9 L650.02 438.07 L663.6 435.87 L677.29 434.29 L691.07 433.35 L704.9 433.06 L718.75 433.41 L732.6 434.4 L746.4 436.05 L760.14 438.33 L773.78 441.26 L787.29 444.83 L800.64 449.03 L813.81 453.86 L826.76 459.3 L839.46 465.35 L851.89 471.99 L864.01 479.22 L875.81 487.02 L887.25 495.37 L898.3 504.26 L908.95 513.67 L919.16 523.59 L928.92 533.98 L938.2 544.84 L946.98 556.13 L955.23 567.84 L962.95 579.95 L970.1 592.42 L976.68 605.23 L982.66 618.35 L988.04 631.76 L992.79 645.43 L996.9 659.32 L1000.38 673.42 L1003.19 687.69 L1005.35 702.09 L1006.83 716.6 L1007.63 731.19 L1007.76 745.83 L1007.2 760.48 L1005.96 775.11 L1004.04 789.69 L1001.44 804.19 L998.16 818.57 L994.21 832.81 L989.59 846.87 L984.31 860.72 L978.38 874.34 L971.82 887.68 L964.63 900.73 L956.83 913.45 L948.43 925.81 L939.46 937.78 L929.92 949.34 L919.83 960.47 L909.22 971.12 L898.11 981.29 L886.52 990.95 L874.48 1000.07 L862 1008.63 L849.12 1016.62 L835.86 1024 L822.25 1030.78 L808.32 1036.92 L794.09 1042.42 L779.61 1047.25 L764.89 1051.41 L749.96 1054.89 L734.88 1057.67 L719.65 1059.75 L704.32 1061.13 L688.92 1061.78 L673.48 1061.72 L658.04 1060.94 L642.62 1059.44 L627.27 1057.23 L612.02 1054.29 L596.9 1050.64 L581.94 1046.29 L567.17 1041.23 L552.64 1035.49 L538.37 1029.07 L524.39 1021.97 L510.73 1014.23 L497.43 1005.84 L484.52 996.83 L472.02 987.22 L459.97 977.01 L448.38 966.25 L437.29 954.93 L426.73 943.1 L416.71 930.77 L407.26 917.96 L398.41 904.71 L390.17 891.05 L382.56 876.99 L375.61 862.57 L369.33 847.83 L363.73 832.78 L358.83 817.47 L354.64 801.93 L351.17 786.18 L348.44 770.26 L346.45 754.22 L345.2 738.07 L344.71 721.86 L344.97 705.62 L345.99 689.39 L347.77 673.19 L350.3 657.08 L353.58 641.07 L357.62 625.22 L362.39 609.55 L367.89 594.09 L374.12 578.88 L381.06 563.96 L388.69 549.36 L397.01 535.11 L405.99 521.24 L415.63 507.78 L425.89 494.77 L436.77 482.24 L448.23 470.2 L460.26 458.7 L472.83 447.75 L485.91 437.39 L499.48 427.63 L513.51 418.5 L527.97 410.02 L542.83 402.21 L558.06 395.09 L573.62 388.68 L589.49 383 L605.63 378.05 L622 373.85 L638.58 370.41 L655.32 367.75 L672.19 365.86 L689.15 364.76 L706.17 364.45 L723.21 364.93 L740.23 366.21 L757.19 368.28 L774.07 371.14 L790.82 374.79 L807.4 379.22 L823.78 384.43 L839.92 390.4 L855.79 397.12 L871.35 404.59 L886.57 412.78 L901.4 421.68 L915.83 431.28 L929.82 441.55 L943.33 452.48 L956.33 464.04 L968.8 476.21 L980.71 488.96 L992.02 502.27 L1002.72 516.12 L1012.78 530.46 L1022.16 545.28 L1030.87 560.54 L1038.86 576.2 L1046.12 592.25 L1052.64 608.63 L1058.4 625.33 L1063.38 642.3 L1067.57 659.5 L1070.96 676.9 L1073.54 694.47 L1075.3 712.16 L1076.24 729.94 L1076.35 747.76 L1075.63 765.6 L1074.08 783.4 L1071.7 801.14 L1068.49 818.77 L1064.46 836.25 L1059.62 853.55 L1053.96 870.63 L1047.51 887.45 L1040.28 903.97 L1032.27 920.16 L1023.51 935.98 L1014 951.4 L1003.78 966.37 L992.86 980.88 L981.26 994.87 L969 1008.33 L956.12 1021.22 L942.63 1033.52 L928.56 1045.19 L913.95 1056.2 L898.83 1066.54 L883.21 1076.17 L867.15 1085.08 L850.67 1093.24 L833.8 1100.64 L816.59 1107.25 L799.06 1113.06 L781.26 1118.05 L763.23 1122.22 L745 1125.54 L726.61 1128.02 L708.1 1129.64 L689.51 1130.4 L670.88 1130.3 L652.25 1129.32 L633.67 1127.48 L615.16 1124.77 L596.79 1121.2 L578.57 1116.77 L560.56 1111.5 L542.79 1105.38 L525.3 1098.43 L508.13 1090.67 L491.32 1082.11 L474.91 1072.76 L458.93 1062.64 L443.42 1051.78 L428.41 1040.2 L413.94 1027.91 L400.04 1014.95 L386.74 1001.34 L374.07 987.1 L362.07 972.28 L350.75 956.89 L340.15 940.97 L330.29 924.56 L321.19 907.68 L312.87 890.38 L305.36 872.69 L298.68 854.65 L292.83 836.29 L287.84 817.66 L283.72 798.79 L280.47 779.73 L278.11 760.51 L276.65 741.18 L276.09 721.78 L276.43 702.35 L277.67 682.94 L279.82 663.58 L282.87 644.31 L286.82 625.19 L291.67 606.25 L297.39 587.53 L303.99 569.08 L311.44 550.93 L319.75 533.13 L328.88 515.71 L338.83 498.71 L349.57 482.18 L361.08 466.15 L373.34 450.65 L386.32 435.71 L400 421.39 L414.35 407.69 L429.34 394.67 L444.93 382.34 L461.11 370.74 L477.82 359.88 L495.04 349.81 L512.73 340.54 L530.86 332.09 L549.38 324.48 L568.26 317.74 L587.45 311.87 L606.92 306.9 L626.62 302.84 L646.52 299.69 L666.56 297.47 L686.71 296.18 L706.91 295.83 L727.14 296.42 L747.34 297.95 L767.47 300.43 L787.49 303.84 L807.35 308.19 L827.01 313.46 L846.42 319.65 L865.55 326.74 L884.35 334.72 L902.78 343.58 L920.8 353.3 L938.36 363.86 L955.44 375.24 L971.98 387.41 L987.96 400.35 L1003.34 414.04 L1018.09 428.45 L1032.16 443.55 L1045.53 459.3 L1058.16 475.67 L1070.04 492.64 L1081.12 510.16 L1091.39 528.19 L1100.82 546.71 L1109.39 565.66 L1117.08 585.02 L1123.86 604.73 L1129.73 624.77 L1134.66 645.07 L1138.65 665.61 L1141.68 686.33 L1143.75 707.2 L1144.85 728.16 L1144.97 749.18 L1144.11 770.2 L1142.27 791.18 L1139.45 812.07 L1135.66 832.84 L1130.9 853.43 L1125.19 873.8 L1118.52 893.91 L1110.92 913.7 L1102.4 933.14 L1092.97 952.19 L1082.65 970.79 L1071.47 988.92 L1059.44 1006.52 L1046.59 1023.57 L1032.95 1040.02 L1018.54 1055.83 L1003.39 1070.97 L987.54 1085.41 L971.02 1099.11 L953.85 1112.04 L936.09 1124.17 L917.76 1135.47 L898.9 1145.92 L879.56 1155.49 L859.77 1164.16 L839.58 1171.91 L819.02 1178.72 L798.15 1184.57 L777.01 1189.45 L755.63 1193.34 L734.08 1196.24 L712.39 1198.14 L690.61 1199.02 L668.8 1198.89 L646.98 1197.75 L625.23 1195.59 L603.57 1192.41 L582.06 1188.23 L560.74 1183.05 L539.67 1176.87 L518.88 1169.71 L498.43 1161.58 L478.36 1152.5 L458.71 1142.49 L439.53 1131.56 L420.85 1119.74 L402.73 1107.05 L385.2 1093.51 L368.29 1079.16 L352.06 1064.02 L336.53 1048.13 L321.75 1031.51 L307.73 1014.21 L294.53 996.25 L282.16 977.68 L270.65 958.53 L260.04 938.84 L250.34 918.67 L241.59 898.04 L233.79 877.01 L226.98 855.61 L221.16 833.89 L216.35 811.91 L212.57 789.7 L209.82 767.32 L208.11 744.81 L207.46 722.22 L207.85 699.6 L209.3 677 L211.8 654.47 L215.35 632.06 L219.94 609.81 L225.57 587.78 L232.22 566.01 L239.89 544.55 L248.56 523.45 L258.2 502.76 L268.82 482.51 L280.37 462.76 L292.84 443.55 L306.21 424.92 L320.45 406.91 L335.52 389.57 L351.4 372.93 L368.05 357.03 L385.44 341.91 L403.54 327.6 L422.3 314.13 L441.68 301.54 L461.65 289.85 L482.17 279.09 L503.18 269.28 L524.65 260.46 L546.53 252.64 L568.78 245.83 L591.33 240.06 L614.16 235.35 L637.2 231.69 L660.41 229.11 L683.74 227.61 L707.14 227.2 L730.56 227.87 L753.94 229.64 L777.24 232.5 L800.4 236.44 L823.38 241.45 L846.12 247.54 L868.58 254.69 L890.7 262.88 L912.44 272.1 L933.75 282.33 L954.58 293.56 L974.88 305.75 L994.62 318.89 L1013.74 332.94 L1032.21 347.89 L1049.98 363.69 L1067.01 380.32 L1083.27 397.74 L1098.71 415.92 L1113.3 434.81 L1127.02 454.38 L1139.82 474.59 L1151.68 495.39 L1162.57 516.74 L1172.46 538.6 L1181.34 560.92 L1189.17 583.64 L1195.95 606.73 L1201.65 630.13 L1206.26 653.8 L1209.77 677.68 L1212.17 701.72 L1213.44 725.86 L1213.59 750.07 L1212.62 774.28 L1210.52 798.44 L1207.29 822.5 L1202.94 846.41 L1197.48 870.11 L1190.92 893.56 L1183.26 916.69 L1174.53 939.47 L1164.74 961.84 L1153.91 983.75 L1142.06 1005.15 L1129.22 1026 L1115.4 1046.25 L1100.65 1065.86 L1084.98 1084.77 L1068.44 1102.95 L1051.05 1120.36 L1032.85 1136.96 L1013.88 1152.71 L994.18 1167.57 L973.79 1181.52 L952.76 1194.51 L931.12 1206.52 L908.92 1217.53 L886.22 1227.49 L863.06 1236.4 L839.48 1244.23 L815.54 1250.96 L791.29 1256.58 L766.78 1261.07 L742.07 1264.41 L717.21 1266.6 L692.24 1267.64 L667.24 1267.51 L642.24 1266.22 L617.3 1263.76 L592.48 1260.15 L567.84 1255.38 L543.42 1249.46 L519.28 1242.4 L495.47 1234.23 L472.04 1224.94 L449.05 1214.57 L426.55 1203.13 L404.59 1190.64 L383.2 1177.13 L362.45 1162.63 L342.38 1147.16 L323.03 1130.76 L304.45 1113.46 L286.68 1095.3 L269.75 1076.32 L253.71 1056.55 L238.6 1036.03 L224.44 1014.82 L211.27 992.95 L199.12 970.47 L188.02 947.43 L178 923.87 L169.07 899.86 L161.27 875.43 L154.6 850.64 L149.08 825.54 L144.74 800.19 L141.58 774.65 L139.6 748.96 L138.83 723.18 L139.25 697.37 L140.88 671.59 L143.7 645.88 L147.72 620.32 L152.93 594.94 L159.32 569.81 L166.89 544.98 L175.6 520.51 L185.45 496.45 L196.43 472.85 L208.49 449.76 L221.63 427.25 L235.82 405.34 L251.03 384.11 L267.22 363.58 L284.36 343.81 L302.42 324.84 L321.36 306.72 L341.14 289.48 L361.72 273.17 L383.05 257.82 L405.1 243.46 L427.81 230.13 L451.14 217.87 L475.03 206.69 L499.44 196.62 L524.31 187.69 L549.6 179.93 L575.24 173.34 L601.18 167.95 L627.37 163.76 L653.75 160.8 L680.26 159.06 L706.85 158.56 L733.45 159.3 L760.02 161.27 L786.49 164.48 L812.8 168.93 L838.9 174.59 L864.74 181.48 L890.24 189.56 L915.37 198.83 L940.06 209.26 L964.26 220.85 L987.91 233.55 L1010.97 247.36 L1033.38 262.24 L1055.09 278.16 L1076.06 295.08 L1096.24 312.98 L1115.57 331.81 L1134.03 351.54 L1151.57 372.13 L1168.14 393.52 L1183.71 415.69 L1198.25 438.57 L1211.72 462.13 L1224.09 486.31 L1235.33 511.06 L1245.42 536.32 L1254.33 562.05 L1262.04 588.19 L1268.53 614.69 L1273.79 641.48 L1277.79 668.51 L1280.54 695.72 L1282.02 723.05 L1282.23 750.44 L1281.17 777.84 L1278.82 805.18 L1275.21 832.41 L1270.33 859.46 L1264.19 886.28 L1256.8 912.81 L1248.18 938.99 L1238.34 964.76 L1227.31 990.07 L1215.1 1014.86 L1201.74 1039.07 L1187.25 1062.66 L1171.67 1085.56 L1155.03 1107.74 L1137.36 1129.13 L1118.7 1149.7 L1099.08 1169.4 L1078.55 1188.18 L1057.16 1205.99 L1034.93 1222.81 L1011.93 1238.59 L988.2 1253.29 L963.8 1266.89 L938.76 1279.34 L913.15 1290.63 L887.02 1300.72 L860.43 1309.6 L833.43 1317.23 L806.09 1323.61 L778.45 1328.71 L750.58 1332.52 L722.54 1335.04 L694.39 1336.25 L666.19 1336.15 L638.01 1334.73 L609.89 1332.01 L581.91 1327.97 L554.13 1322.64 L526.6 1316.01 L499.38 1308.1 L472.54 1298.93 L446.13 1288.51 L420.22 1276.86 L394.85 1264.01 L370.09 1249.98 L345.99 1234.81 L322.6 1218.51 L299.97 1201.13 L278.16 1182.71 L257.21 1163.27 L237.18 1142.86 L218.1 1121.52 L200.01 1099.3 L182.97 1076.25 L167 1052.4 L152.15 1027.83 L138.44 1002.56 L125.92 976.66 L114.6 950.19 L104.52 923.2 L95.7 895.75 L88.16 867.89 L81.91 839.69 L76.98 811.2 L73.38 782.49 L71.12 753.63 L70.2 724.66 L70.63 695.66 L72.41 666.69 L75.53 637.81 L80 609.08 L85.81 580.57 L92.94 552.34 L101.38 524.44 L111.12 496.95 L122.14 469.92 L134.41 443.41 L147.92 417.47 L162.63 392.17 L178.51 367.57 L195.53 343.71 L213.65 320.65 L232.85 298.43 L253.08 277.12 L274.29 256.76 L296.44 237.39 L319.49 219.05 L343.38 201.8 L368.07 185.66 L393.51 170.67 L419.64 156.87 L446.4 144.3 L473.74 132.97 L501.6 122.92 L529.92 114.16 L558.63 106.73 L587.69 100.64 L617.02 95.9 L646.56 92.53"/>
<path d="M537.39 457.51 L550.02 450.1 L562.99 443.27 L576.29 437.05 L589.88 431.44 L603.75 426.46 L617.85 422.13 L632.16 418.45 L646.66 415.44 L661.3 413.1 L676.05 411.44 L690.89 410.47 L705.79 410.19 L720.7 410.61 L735.6 411.72 L750.46 413.53 L765.24 416.03 L779.91 419.22 L794.44 423.09 L808.8 427.65 L822.95 432.88 L836.86 438.77 L850.51 445.31 L863.85 452.49 L876.87 460.29 L889.53 468.71 L901.81 477.72 L913.67 487.31 L925.09 497.45 L936.04 508.13 L946.5 519.33 L956.44 531.02 L965.84 543.18 L974.68 555.78 L982.93 568.8 L990.58 582.21 L997.61 595.98 L1004 610.09 L1009.74 624.5 L1014.8 639.19 L1019.19 654.11 L1022.88 669.25 L1025.86 684.57 L1028.14 700.03 L1029.69 715.6 L1030.52 731.26 L1030.61 746.96 L1029.98 762.67 L1028.62 778.35 L1026.52 793.98 L1023.69 809.52 L1020.14 824.94 L1015.87 840.19 L1010.88 855.25 L1005.19 870.09 L998.81 884.66 L991.74 898.95 L984.01 912.91 L975.62 926.51 L966.59 939.73 L956.95 952.53 L946.7 964.89 L935.88 976.78 L924.5 988.17 L912.58 999.03 L900.15 1009.34 L887.23 1019.07 L873.86 1028.2 L860.05 1036.72 L845.85 1044.59 L831.27 1051.81 L816.35 1058.35 L801.12 1064.19 L785.61 1069.33 L769.86 1073.75 L753.89 1077.43 L737.75 1080.37 L721.47 1082.56 L705.07 1084 L688.61 1084.66 L672.11 1084.57 L655.6 1083.7 L639.13 1082.06 L622.74 1079.65 L606.44 1076.48 L590.29 1072.55 L574.32 1067.87 L558.57 1062.44 L543.05 1056.27 L527.83 1049.38 L512.91 1041.77 L498.35 1033.47 L484.17 1024.49 L470.41 1014.84 L457.08 1004.55 L444.24 993.64 L431.9 982.12 L420.09 970.02 L408.84 957.37 L398.18 944.19 L388.13 930.51 L378.71 916.36 L369.95 901.77 L361.87 886.76 L354.48 871.37 L347.81 855.63 L341.87 839.58 L336.68 823.24 L332.25 806.66 L328.59 789.87 L325.71 772.9 L323.62 755.79 L322.32 738.58 L321.83 721.31 L322.15 704 L323.27 686.71 L325.19 669.46 L327.92 652.3 L331.45 635.26 L335.78 618.38 L340.89 601.7 L346.78 585.26 L353.44 569.08 L360.86 553.21 L369.01 537.68 L377.9 522.52 L387.49 507.78 L397.77 493.48 L408.72 479.65 L420.32 466.33 L432.54 453.55 L445.36 441.33 L458.75 429.71 L472.68 418.71 L487.14 408.36 L502.08 398.68 L517.47 389.69 L533.29 381.41 L549.49 373.87 L566.05 367.09 L582.93 361.07 L600.1 355.84 L617.51 351.41 L635.13 347.79 L652.93 344.99 L670.86 343.02 L688.88 341.88 L706.97 341.58 L725.07 342.13 L743.15 343.51 L761.17 345.74 L779.08 348.82 L796.86 352.72 L814.47 357.46 L831.85 363.02 L848.98 369.38 L865.81 376.55 L882.32 384.5 L898.46 393.23 L914.19 402.71 L929.49 412.92 L944.31 423.85 L958.63 435.47 L972.41 447.76 L985.62 460.69 L998.23 474.24 L1010.21 488.39 L1021.53 503.09 L1032.17 518.32 L1042.11 534.05 L1051.31 550.25 L1059.76 566.88 L1067.43 583.91 L1074.32 601.29 L1080.39 619.01 L1085.64 637 L1090.06 655.25 L1093.62 673.7 L1096.32 692.32 L1098.16 711.07 L1099.13 729.92 L1099.21 748.8 L1098.42 767.7 L1096.75 786.56 L1094.19 805.35 L1090.76 824.02 L1086.47 842.53 L1081.3 860.85 L1075.29 878.93 L1068.43 896.73 L1060.74 914.22 L1052.23 931.35 L1042.93 948.08 L1032.84 964.39 L1021.99 980.23 L1010.41 995.56 L998.11 1010.36 L985.11 1024.59 L971.45 1038.21 L957.16 1051.2 L942.26 1063.52 L926.78 1075.15 L910.76 1086.06 L894.22 1096.23 L877.21 1105.63 L859.77 1114.24 L841.91 1122.03 L823.7 1129 L805.15 1135.11 L786.32 1140.37 L767.24 1144.75 L747.96 1148.23 L728.51 1150.83 L708.94 1152.51 L689.28 1153.29 L669.59 1153.14 L649.9 1152.09 L630.26 1150.11 L610.71 1147.22 L591.29 1143.42 L572.05 1138.71 L553.03 1133.1 L534.26 1126.61 L515.79 1119.25 L497.67 1111.02 L479.92 1101.95 L462.6 1092.05 L445.74 1081.34 L429.37 1069.85 L413.54 1057.59 L398.27 1044.59 L383.61 1030.88 L369.59 1016.49 L356.24 1001.44 L343.59 985.77 L331.66 969.51 L320.49 952.69 L310.11 935.35 L300.53 917.53 L291.78 899.26 L283.88 880.57 L276.85 861.52 L270.71 842.14 L265.47 822.48 L261.15 802.56 L257.75 782.45 L255.29 762.17 L253.77 741.78 L253.21 721.31 L253.59 700.82 L254.94 680.35 L257.23 659.93 L260.48 639.62 L264.67 619.46 L269.8 599.5 L275.86 579.77 L282.84 560.33 L290.73 541.2 L299.51 522.45 L309.16 504.1 L319.67 486.2 L331.01 468.79 L343.17 451.91 L356.11 435.59 L369.81 419.87 L384.24 404.79 L399.38 390.39 L415.19 376.68 L431.64 363.72 L448.69 351.51 L466.31 340.11 L484.46 329.52 L503.11 319.78 L522.21 310.9 L541.73 302.92 L561.62 295.84 L581.84 289.69 L602.34 284.48 L623.09 280.23 L644.04 276.94 L665.14 274.63 L686.35 273.3 L707.63 272.96 L728.91 273.61 L750.17 275.25 L771.36 277.88 L792.42 281.5 L813.31 286.1 L833.99 291.67 L854.41 298.2 L874.53 305.69 L894.3 314.11 L913.67 323.46 L932.62 333.7 L951.08 344.83 L969.03 356.82 L986.41 369.65 L1003.2 383.28 L1019.36 397.7 L1034.85 412.87 L1049.62 428.76 L1063.66 445.34 L1076.93 462.58 L1089.39 480.43 L1101.02 498.86 L1111.8 517.83 L1121.69 537.31 L1130.67 557.24 L1138.72 577.6 L1145.83 598.33 L1151.97 619.39 L1157.13 640.73 L1161.3 662.32 L1164.46 684.1 L1166.6 706.03 L1167.73 728.05 L1167.83 750.13 L1166.9 772.21 L1164.94 794.25 L1161.96 816.2 L1157.95 838.01 L1152.93 859.63 L1146.9 881.02 L1139.88 902.13 L1131.87 922.9 L1122.9 943.31 L1112.97 963.3 L1102.12 982.82 L1090.35 1001.84 L1077.7 1020.31 L1064.2 1038.19 L1049.85 1055.44 L1034.71 1072.02 L1018.79 1087.9 L1002.14 1103.03 L984.78 1117.39 L966.75 1130.94 L948.09 1143.65 L928.84 1155.49 L909.05 1166.43 L888.74 1176.45 L867.96 1185.53 L846.77 1193.63 L825.19 1200.75 L803.29 1206.87 L781.1 1211.96 L758.68 1216.02 L736.07 1219.04 L713.32 1221 L690.48 1221.91 L667.6 1221.75 L644.72 1220.52 L621.91 1218.23 L599.2 1214.88 L576.65 1210.47 L554.31 1205.01 L532.22 1198.51 L510.44 1190.98 L489.01 1182.43 L467.97 1172.89 L447.39 1162.38 L427.29 1150.9 L407.73 1138.49 L388.75 1125.17 L370.39 1110.96 L352.69 1095.9 L335.7 1080.02 L319.44 1063.35 L303.97 1045.92 L289.31 1027.77 L275.49 1008.94 L262.55 989.47 L250.52 969.4 L239.42 948.77 L229.29 927.62 L220.14 906 L211.99 883.96 L204.88 861.55 L198.81 838.8 L193.8 815.77 L189.86 792.51 L187 769.07 L185.24 745.49 L184.58 721.84 L185.01 698.16 L186.55 674.5 L189.19 650.91 L192.93 627.45 L197.76 604.17 L203.68 581.11 L210.67 558.33 L218.71 535.88 L227.81 513.8 L237.93 492.15 L249.05 470.98 L261.16 450.32 L274.24 430.23 L288.24 410.75 L303.16 391.92 L318.94 373.79 L335.57 356.4 L353.01 339.78 L371.22 323.98 L390.17 309.03 L409.81 294.96 L430.1 281.8 L451 269.6 L472.47 258.36 L494.46 248.13 L516.92 238.92 L539.81 230.76 L563.08 223.67 L586.67 217.66 L610.54 212.75 L634.64 208.95 L658.91 206.28 L683.3 204.73 L707.77 204.32 L732.24 205.05 L756.68 206.92 L781.04 209.93 L805.25 214.07 L829.26 219.34 L853.02 225.72 L876.49 233.22 L899.6 241.8 L922.31 251.46 L944.57 262.17 L966.32 273.92 L987.53 286.68 L1008.14 300.42 L1028.11 315.13 L1047.38 330.76 L1065.93 347.29 L1083.71 364.68 L1100.68 382.89 L1116.79 401.89 L1132.02 421.64 L1146.32 442.1 L1159.68 463.21 L1172.04 484.95 L1183.4 507.26 L1193.71 530.1 L1202.96 553.41 L1211.12 577.15 L1218.17 601.27 L1224.1 625.71 L1228.89 650.42 L1232.54 675.36 L1235.01 700.46 L1236.32 725.67 L1236.46 750.94 L1235.42 776.21 L1233.2 801.43 L1229.81 826.54 L1225.25 851.49 L1219.53 876.23 L1212.66 900.69 L1204.65 924.83 L1195.52 948.59 L1185.28 971.93 L1173.96 994.78 L1161.58 1017.11 L1148.15 1038.85 L1133.72 1059.97 L1118.31 1080.41 L1101.95 1100.13 L1084.67 1119.08 L1066.51 1137.23 L1047.51 1154.53 L1027.71 1170.94 L1007.15 1186.43 L985.87 1200.95 L963.92 1214.49 L941.34 1227 L918.18 1238.45 L894.49 1248.83 L870.33 1258.1 L845.73 1266.24 L820.77 1273.24 L795.48 1279.08 L769.92 1283.73 L744.15 1287.2 L718.22 1289.46 L692.19 1290.52 L666.12 1290.37 L640.06 1289 L614.07 1286.42 L588.2 1282.63 L562.52 1277.63 L537.07 1271.44 L511.91 1264.07 L487.1 1255.53 L462.7 1245.83 L438.75 1235 L415.31 1223.06 L392.42 1210.02 L370.15 1195.93 L348.54 1180.8 L327.64 1164.66 L307.5 1147.56 L288.15 1129.52 L269.65 1110.59 L252.03 1090.79 L235.34 1070.18 L219.61 1048.8 L204.88 1026.69 L191.18 1003.9 L178.54 980.47 L167 956.46 L156.58 931.92 L147.3 906.9 L139.19 881.45 L132.26 855.63 L126.54 829.49 L122.04 803.09 L118.77 776.48 L116.73 749.73 L115.95 722.89 L116.41 696.02 L118.12 669.17 L121.08 642.41 L125.29 615.8 L130.74 589.38 L137.41 563.22 L145.3 537.38 L154.39 511.92 L164.67 486.88 L176.11 462.32 L188.69 438.31 L202.38 414.88 L217.16 392.09 L233.01 370 L249.87 348.65 L267.73 328.1 L286.54 308.37 L306.26 289.53 L326.86 271.61 L348.28 254.65 L370.49 238.69 L393.44 223.77 L417.08 209.92 L441.36 197.18 L466.22 185.57 L491.62 175.11 L517.5 165.85 L543.81 157.79 L570.49 150.95 L597.48 145.36 L624.72 141.03 L652.16 137.97 L679.73 136.18 L707.38 135.68 L735.05 136.47 L762.68 138.54 L790.2 141.9 L817.56 146.54 L844.7 152.46 L871.55 159.63 L898.07 168.06 L924.19 177.71 L949.85 188.58 L975 200.64 L999.58 213.87 L1023.54 228.24 L1046.83 243.72 L1069.39 260.29 L1091.17 277.9 L1112.13 296.51 L1132.22 316.1 L1151.39 336.63 L1169.6 358.03 L1186.8 380.28 L1202.97 403.33 L1218.06 427.12 L1232.05 451.61 L1244.88 476.75 L1256.55 502.47 L1267.01 528.74 L1276.25 555.48 L1284.24 582.65 L1290.97 610.18 L1296.41 638.02 L1300.55 666.1 L1303.39 694.37 L1304.91 722.77 L1305.1 751.23 L1303.97 779.69 L1301.52 808.09 L1297.75 836.37 L1292.66 864.46 L1286.26 892.32 L1278.57 919.86 L1269.6 947.05 L1259.37 973.81 L1247.89 1000.08 L1235.19 1025.81 L1221.3 1050.95 L1206.24 1075.43 L1190.04 1099.21 L1172.75 1122.22 L1154.38 1144.43 L1134.99 1165.77 L1114.61 1186.21 L1093.28 1205.69 L1071.06 1224.17 L1047.97 1241.61 L1024.08 1257.98 L999.44 1273.23 L974.09 1287.32 L948.1 1300.24 L921.51 1311.93 L894.38 1322.39 L866.77 1331.59 L838.74 1339.49 L810.36 1346.09 L781.67 1351.37 L752.74 1355.3 L723.64 1357.89 L694.43 1359.13 L665.17 1359.01 L635.92 1357.52 L606.75 1354.67 L577.72 1350.47 L548.89 1344.91 L520.33 1338.02 L492.1 1329.79 L464.25 1320.26 L436.87 1309.43 L409.99 1297.33 L383.68 1283.98 L358 1269.41 L333.01 1253.65 L308.76 1236.74 L285.3 1218.69 L262.69 1199.56 L240.97 1179.39 L220.2 1158.21 L200.43 1136.06 L181.69 1113.01 L164.03 1089.09 L147.48 1064.35 L132.09 1038.85 L117.9 1012.64 L104.93 985.78 L93.21 958.32 L82.77 930.32 L73.64 901.85 L65.84 872.96 L59.39 843.72 L54.29 814.18 L50.58 784.41 L48.25 754.49 L47.32 724.46 L47.78 694.39 L49.64 664.36 L52.9 634.42 L57.55 604.65 L63.59 575.1 L71 545.84 L79.77 516.93 L89.88 488.44 L101.32 460.43 L114.06 432.96 L128.07 406.09 L143.33 379.88 L159.8 354.39 L177.45 329.67 L196.25 305.79 L216.16 282.78 L237.13 260.71 L259.12 239.62 L282.09 219.56 L305.98 200.58 L330.75 182.72 L356.34 166.01 L382.7 150.5 L409.78 136.22 L437.51 123.21 L465.84 111.49 L494.71 101.09 L524.05 92.04 L553.8 84.36 L583.9 78.07 L614.29 73.18 L644.89 69.71"/>
<path d="M526.03 437.65 L539.59 429.73 L553.52 422.44 L567.8 415.8 L582.39 409.82 L597.27 404.51 L612.4 399.9 L627.75 395.99 L643.3 392.8 L658.99 390.33 L674.81 388.59 L690.71 387.59 L706.67 387.33 L722.65 387.81 L738.61 389.03 L754.52 391.01 L770.34 393.72 L786.04 397.17 L801.59 401.36 L816.95 406.27 L832.09 411.9 L846.97 418.23 L861.55 425.27 L875.82 432.98 L889.73 441.37 L903.26 450.4 L916.37 460.07 L929.04 470.35 L941.23 481.23 L952.92 492.68 L964.07 504.68 L974.68 517.2 L984.7 530.22 L994.12 543.71 L1002.92 557.65 L1011.06 572 L1018.54 586.74 L1025.34 601.83 L1031.44 617.24 L1036.82 632.94 L1041.47 648.9 L1045.38 665.08 L1048.53 681.45 L1050.93 697.97 L1052.55 714.6 L1053.4 731.32 L1053.47 748.09 L1052.76 764.86 L1051.27 781.6 L1048.99 798.28 L1045.94 814.86 L1042.12 831.3 L1037.53 847.57 L1032.17 863.63 L1026.07 879.45 L1019.23 894.98 L1011.66 910.21 L1003.38 925.08 L994.41 939.57 L984.76 953.65 L974.44 967.29 L963.49 980.44 L951.93 993.09 L939.77 1005.21 L927.04 1016.76 L913.77 1027.72 L899.99 1038.07 L885.72 1047.78 L870.99 1056.82 L855.84 1065.18 L840.29 1072.84 L824.38 1079.78 L808.15 1085.97 L791.62 1091.41 L774.83 1096.08 L757.82 1099.98 L740.63 1103.08 L723.28 1105.38 L705.83 1106.87 L688.3 1107.55 L670.73 1107.41 L653.17 1106.45 L635.64 1104.68 L618.2 1102.08 L600.87 1098.68 L583.69 1094.46 L566.71 1089.45 L549.96 1083.64 L533.47 1077.05 L517.29 1069.69 L501.44 1061.57 L485.97 1052.72 L470.91 1043.14 L456.29 1032.85 L442.15 1021.89 L428.51 1010.26 L415.41 997.99 L402.89 985.11 L390.96 971.64 L379.65 957.62 L368.99 943.06 L359.01 928.01 L349.73 912.48 L341.18 896.52 L333.36 880.16 L326.3 863.43 L320.02 846.37 L314.54 829.01 L309.86 811.39 L306 793.55 L302.98 775.53 L300.79 757.36 L299.45 739.09 L298.96 720.75 L299.32 702.39 L300.54 684.03 L302.61 665.73 L305.54 647.53 L309.32 629.45 L313.94 611.55 L319.39 593.86 L325.67 576.42 L332.77 559.27 L340.66 542.45 L349.34 525.99 L358.79 509.94 L368.98 494.32 L379.91 479.17 L391.54 464.53 L403.86 450.43 L416.84 436.9 L430.45 423.97 L444.67 411.67 L459.46 400.04 L474.79 389.09 L490.64 378.85 L506.97 369.36 L523.74 360.62 L540.92 352.66 L558.48 345.49 L576.37 339.15 L594.56 333.64 L613.01 328.97 L631.68 325.17 L650.54 322.23 L669.53 320.17 L688.62 319 L707.76 318.71 L726.93 319.32 L746.07 320.82 L765.14 323.21 L784.1 326.49 L802.91 330.65 L821.53 335.69 L839.92 341.6 L858.04 348.37 L875.84 355.98 L893.29 364.42 L910.35 373.68 L926.98 383.73 L943.15 394.56 L958.81 406.14 L973.94 418.45 L988.49 431.47 L1002.44 445.17 L1015.75 459.52 L1028.4 474.5 L1040.35 490.06 L1051.57 506.18 L1062.05 522.83 L1071.75 539.97 L1080.66 557.56 L1088.74 575.57 L1095.99 593.95 L1102.38 612.68 L1107.9 631.71 L1112.54 650.99 L1116.28 670.5 L1119.11 690.18 L1121.02 709.99 L1122.01 729.89 L1122.07 749.85 L1121.21 769.8 L1119.41 789.72 L1116.69 809.56 L1113.04 829.27 L1108.47 848.82 L1102.99 868.15 L1096.61 887.23 L1089.34 906.02 L1081.2 924.46 L1072.2 942.53 L1062.35 960.19 L1051.68 977.38 L1040.21 994.08 L1027.96 1010.25 L1014.95 1025.84 L1001.22 1040.84 L986.79 1055.19 L971.69 1068.87 L955.95 1081.85 L939.6 1094.1 L922.69 1105.59 L905.23 1116.29 L887.28 1126.18 L868.86 1135.23 L850.03 1143.43 L830.81 1150.75 L811.24 1157.17 L791.38 1162.69 L771.26 1167.27 L750.92 1170.93 L730.41 1173.63 L709.78 1175.38 L689.06 1176.17 L668.3 1175.99 L647.56 1174.85 L626.86 1172.74 L606.26 1169.66 L585.8 1165.63 L565.53 1160.64 L545.5 1154.71 L525.73 1147.85 L506.29 1140.06 L487.2 1131.37 L468.53 1121.79 L450.29 1111.34 L432.54 1100.04 L415.32 1087.91 L398.67 1074.98 L382.61 1061.27 L367.19 1046.82 L352.45 1031.65 L338.41 1015.79 L325.11 999.27 L312.58 982.13 L300.84 964.42 L289.93 946.15 L279.87 927.37 L270.69 908.13 L262.4 888.46 L255.03 868.4 L248.59 848 L243.1 827.29 L238.58 806.33 L235.03 785.17 L232.47 763.83 L230.9 742.37 L230.33 720.85 L230.76 699.29 L232.2 677.76 L234.64 656.29 L238.08 634.93 L242.51 613.74 L247.94 592.75 L254.34 572.01 L261.7 551.57 L270.02 531.48 L279.27 511.77 L289.44 492.49 L300.51 473.69 L312.46 455.4 L325.25 437.67 L338.87 420.53 L353.29 404.03 L368.48 388.2 L384.41 373.08 L401.04 358.7 L418.34 345.09 L436.27 332.29 L454.8 320.33 L473.89 309.23 L493.49 299.01 L513.57 289.72 L534.08 281.35 L554.98 273.94 L576.22 267.51 L597.76 262.06 L619.56 257.62 L641.56 254.19 L663.73 251.79 L686 250.42 L708.34 250.08 L730.69 250.79 L753.01 252.54 L775.24 255.33 L797.35 259.15 L819.28 264 L840.98 269.88 L862.4 276.76 L883.51 284.64 L904.25 293.51 L924.57 303.33 L944.43 314.11 L963.8 325.81 L982.61 338.41 L1000.84 351.89 L1018.44 366.21 L1035.38 381.36 L1051.6 397.29 L1067.09 413.98 L1081.8 431.39 L1095.69 449.48 L1108.74 468.22 L1120.92 487.56 L1132.2 507.47 L1142.55 527.91 L1151.95 548.82 L1160.37 570.18 L1167.8 591.92 L1174.21 614.01 L1179.6 636.39 L1183.94 659.03 L1187.23 681.87 L1189.46 704.85 L1190.61 727.94 L1190.69 751.09 L1189.69 774.23 L1187.62 797.33 L1184.47 820.33 L1180.24 843.18 L1174.96 865.83 L1168.62 888.24 L1161.24 910.34 L1152.82 932.11 L1143.4 953.48 L1132.98 974.41 L1121.59 994.85 L1109.24 1014.76 L1095.97 1034.09 L1081.8 1052.81 L1066.76 1070.86 L1050.88 1088.21 L1034.19 1104.82 L1016.74 1120.65 L998.54 1135.67 L979.65 1149.84 L960.1 1163.13 L939.93 1175.51 L919.19 1186.94 L897.91 1197.41 L876.16 1206.89 L853.96 1215.36 L831.37 1222.79 L808.43 1229.17 L785.2 1234.47 L761.73 1238.7 L738.06 1241.84 L714.25 1243.87 L690.34 1244.79 L666.4 1244.6 L642.46 1243.29 L618.59 1240.87 L594.84 1237.34 L571.25 1232.7 L547.87 1226.97 L524.77 1220.14 L501.99 1212.24 L479.58 1203.29 L457.59 1193.29 L436.06 1182.26 L415.06 1170.24 L394.61 1157.24 L374.77 1143.28 L355.58 1128.41 L337.09 1112.64 L319.34 1096.02 L302.36 1078.57 L286.19 1060.33 L270.88 1041.34 L256.45 1021.64 L242.94 1001.27 L230.38 980.27 L218.8 958.69 L208.23 936.57 L198.68 913.97 L190.19 890.92 L182.78 867.48 L176.46 843.7 L171.24 819.63 L167.15 795.31 L164.19 770.81 L162.37 746.18 L161.7 721.46 L162.18 696.72 L163.81 672 L166.59 647.35 L170.52 622.85 L175.59 598.53 L181.79 574.44 L189.11 550.65 L197.54 527.21 L207.06 504.15 L217.65 481.55 L229.29 459.44 L241.96 437.88 L255.63 416.91 L270.28 396.58 L285.87 376.93 L302.37 358.01 L319.75 339.87 L337.98 322.53 L357.01 306.05 L376.8 290.45 L397.32 275.78 L418.51 262.07 L440.34 249.34 L462.77 237.64 L485.73 226.98 L509.18 217.39 L533.08 208.89 L557.37 201.51 L582.01 195.26 L606.92 190.16 L632.08 186.21 L657.41 183.44 L682.86 181.85 L708.39 181.45 L733.93 182.23 L759.43 184.21 L784.84 187.37 L810.09 191.71 L835.14 197.22 L859.92 203.91 L884.4 211.74 L908.5 220.72 L932.18 230.81 L955.39 242 L978.07 254.28 L1000.17 267.61 L1021.66 281.96 L1042.47 297.31 L1062.56 313.63 L1081.89 330.88 L1100.41 349.03 L1118.09 368.04 L1134.87 387.87 L1150.73 408.47 L1165.63 429.81 L1179.53 451.84 L1192.41 474.51 L1204.22 497.78 L1214.95 521.6 L1224.57 545.91 L1233.06 570.66 L1240.39 595.8 L1246.55 621.29 L1251.53 647.05 L1255.3 673.04 L1257.86 699.2 L1259.21 725.47 L1259.33 751.81 L1258.22 778.14 L1255.89 804.42 L1252.34 830.58 L1247.56 856.58 L1241.58 882.34 L1234.4 907.82 L1226.04 932.97 L1216.5 957.72 L1205.82 982.02 L1194.01 1005.82 L1181.09 1029.06 L1167.09 1051.7 L1152.04 1073.68 L1135.97 1094.96 L1118.91 1115.49 L1100.9 1135.21 L1081.98 1154.1 L1062.18 1172.1 L1041.54 1189.17 L1020.12 1205.28 L997.95 1220.39 L975.08 1234.46 L951.56 1247.47 L927.44 1259.38 L902.77 1270.16 L877.6 1279.8 L851.99 1288.26 L825.99 1295.52 L799.66 1301.57 L773.05 1306.4 L746.23 1309.99 L719.24 1312.32 L692.14 1313.4 L665.01 1313.22 L637.89 1311.78 L610.84 1309.07 L583.92 1305.11 L557.19 1299.89 L530.72 1293.43 L504.54 1285.73 L478.74 1276.83 L453.35 1266.72 L428.44 1255.43 L404.06 1242.98 L380.26 1229.41 L357.1 1214.72 L334.63 1198.97 L312.9 1182.17 L291.96 1164.36 L271.85 1145.58 L252.62 1125.87 L234.31 1105.27 L216.96 1083.82 L200.62 1061.57 L185.31 1038.56 L171.08 1014.84 L157.96 990.47 L145.97 965.5 L135.15 939.97 L125.53 913.94 L117.11 887.47 L109.93 860.61 L104 833.43 L99.34 805.98 L95.96 778.31 L93.86 750.5 L93.06 722.6 L93.56 694.66 L95.36 666.75 L98.46 638.94 L102.86 611.27 L108.54 583.82 L115.49 556.64 L123.71 529.79 L133.18 503.32 L143.88 477.31 L155.79 451.8 L168.88 426.85 L183.13 402.51 L198.51 378.84 L214.98 355.9 L232.53 333.73 L251.09 312.38 L270.65 291.9 L291.16 272.34 L312.57 253.73 L334.84 236.13 L357.93 219.56 L381.78 204.08 L406.35 189.71 L431.58 176.49 L457.41 164.45 L483.81 153.61 L510.7 144 L538.03 135.65 L565.74 128.57 L593.77 122.78 L622.07 118.3 L650.57 115.14 L679.21 113.31 L707.92 112.81 L736.65 113.64 L765.34 115.82 L793.92 119.32 L822.32 124.16 L850.49 130.32 L878.37 137.79 L905.9 146.55 L933.01 156.6 L959.64 167.9 L985.74 180.44 L1011.25 194.19 L1036.11 209.12 L1060.28 225.21 L1083.68 242.42 L1106.28 260.71 L1128.02 280.05 L1148.86 300.4 L1168.74 321.71 L1187.62 343.94 L1205.47 367.04 L1222.23 390.97 L1237.88 415.67 L1252.37 441.1 L1265.67 467.19 L1277.76 493.89 L1288.6 521.15 L1298.17 548.91 L1306.44 577.1 L1313.4 605.67 L1319.03 634.55 L1323.31 663.69 L1326.23 693.03 L1327.79 722.48 L1327.97 752.01 L1326.78 781.53 L1324.22 810.99 L1320.29 840.32 L1314.99 869.46 L1308.34 898.35 L1300.34 926.92 L1291.02 955.1 L1280.39 982.85 L1268.46 1010.09 L1255.28 1036.77 L1240.86 1062.83 L1225.22 1088.21 L1208.41 1112.85 L1190.46 1136.71 L1171.41 1159.72 L1151.28 1181.84 L1130.14 1203.01 L1108.01 1223.2 L1084.96 1242.35 L1061.01 1260.42 L1036.24 1277.37 L1010.68 1293.16 L984.39 1307.76 L957.43 1321.13 L929.86 1333.24 L901.74 1344.06 L873.11 1353.57 L844.06 1361.75 L814.63 1368.57 L784.89 1374.02 L754.91 1378.08 L724.74 1380.75 L694.47 1382.01 L664.14 1381.87 L633.83 1380.31 L603.6 1377.34 L573.52 1372.96 L543.65 1367.19 L514.06 1360.02 L484.81 1351.49 L455.97 1341.59 L427.6 1330.35 L399.76 1317.8 L372.51 1303.95 L345.91 1288.84 L320.03 1272.5 L294.92 1254.96 L270.63 1236.25 L247.21 1216.42 L224.73 1195.51 L203.23 1173.55 L182.76 1150.61 L163.36 1126.71 L145.08 1101.92 L127.96 1076.29 L112.04 1049.87 L97.35 1022.72 L83.94 994.89 L71.82 966.45 L61.03 937.45 L51.59 907.95 L43.53 878.03 L36.86 847.75 L31.61 817.16 L27.78 786.33 L25.38 755.34 L24.43 724.25 L24.93 693.12 L26.88 662.03 L30.27 631.04 L35.1 600.21 L41.37 569.62 L49.06 539.33 L58.16 509.41 L68.64 479.93 L80.5 450.94 L93.7 422.51 L108.22 394.7 L124.03 367.58 L141.09 341.21 L159.38 315.64 L178.85 290.93 L199.47 267.13 L221.18 244.3 L243.95 222.49 L267.73 201.74 L292.47 182.11 L318.11 163.64 L344.61 146.36 L371.89 130.33 L399.92 115.57 L428.62 102.12 L457.94 90.01 L487.82 79.27 L518.18 69.93 L548.97 62 L580.11 55.5 L611.55 50.46 L643.21 46.88"/>
<path d="M690.79 465.76 L687.31 113.03"/>
<path d="M866.29 520.09 L1090.36 247.64"/>
<path d="M968.46 679 L1315.23 614.32"/>
<path d="M943.73 871.56 L1250.94 1044.91"/>
<path d="M797.05 1006.56 L920.95 1336.83"/>
<path d="M592.68 1015.74 L475.31 1348.39"/>
<path d="M426.2 888.1 L122.46 1067.48"/>
<path d="M379.76 678.18 L31.78 620.35"/>
<path d="M481.68 482.97 L296.93 267.15"/>
<path d="M629.51 472.08 L626.62 460.43"/>
<path d="M690.75 461.76 L690.63 449.76"/>
<path d="M753.31 465.91 L755.97 454.21"/>
<path d="M813.79 484.57 L819.07 473.8"/>
<path d="M868.83 517 L876.45 507.73"/>
<path d="M915.32 561.66 L924.87 554.4"/>
<path d="M950.55 616.36 L961.52 611.5"/>
<path d="M972.39 678.26 L984.19 676.06"/>
<path d="M979.41 744.13 L991.4 744.71"/>
<path d="M970.96 810.42 L982.49 813.75"/>
<path d="M947.21 873.52 L957.66 879.42"/>
<path d="M909.21 929.92 L918.02 938.07"/>
<path d="M858.77 976.42 L865.47 986.38"/>
<path d="M798.45 1010.3 L802.67 1021.54"/>
<path d="M731.37 1029.5 L732.88 1041.41"/>
<path d="M661.07 1032.72 L659.79 1044.66"/>
<path d="M591.35 1019.51 L587.36 1030.83"/>
<path d="M526.03 990.32 L519.53 1000.41"/>
<path d="M468.74 946.48 L460.1 954.8"/>
<path d="M422.76 890.13 L412.42 896.24"/>
<path d="M390.76 824.16 L379.3 827.72"/>
<path d="M374.74 752.01 L362.76 752.83"/>
<path d="M375.81 677.52 L363.97 675.56"/>
<path d="M394.2 604.72 L383.13 600.08"/>
<path d="M429.17 537.61 L419.47 530.54"/>
<path d="M479.08 479.93 L471.27 470.82"/>
<path d="M541.43 435 L535.94 424.33"/>
<path d="M613.02 405.44 L610.13 393.79"/>
<path d="M690.08 393.12 L689.96 381.12"/>
<path d="M768.49 398.96 L771.14 387.26"/>
<path d="M843.99 422.92 L849.27 412.15"/>
<path d="M912.44 463.97 L920.06 454.71"/>
<path d="M969.98 520.13 L979.53 512.87"/>
<path d="M1013.31 588.55 L1024.29 583.68"/>
<path d="M1039.88 665.68 L1051.68 663.48"/>
<path d="M1047.98 747.45 L1059.97 748.03"/>
<path d="M1036.91 829.46 L1048.44 832.79"/>
<path d="M1007 907.26 L1017.45 913.16"/>
<path d="M959.6 976.54 L968.41 984.69"/>
<path d="M897.06 1033.4 L903.75 1043.36"/>
<path d="M822.56 1074.58 L826.78 1085.81"/>
<path d="M740.01 1097.61 L741.52 1109.51"/>
<path d="M653.77 1100.98 L652.5 1112.92"/>
<path d="M568.51 1084.25 L564.52 1095.57"/>
<path d="M488.87 1048.05 L482.38 1058.14"/>
<path d="M419.28 994.08 L410.63 1002.4"/>
<path d="M363.64 925.04 L353.31 931.15"/>
<path d="M325.19 844.5 L313.73 848.06"/>
<path d="M306.25 756.68 L294.27 757.5"/>
<path d="M308.09 666.27 L296.25 664.3"/>
<path d="M330.9 578.15 L319.83 573.51"/>
<path d="M373.7 497.16 L364.01 490.09"/>
<path d="M434.43 427.78 L426.63 418.67"/>
<path d="M510.02 373.95 L504.52 363.28"/>
<path d="M596.53 338.8 L593.64 327.15"/>
<path d="M689.4 324.47 L689.28 312.47"/>
<path d="M783.66 332.01 L786.31 320.3"/>
<path d="M874.2 361.27 L879.48 350.5"/>
<path d="M956.04 410.95 L963.67 401.68"/>
<path d="M1024.63 478.59 L1034.19 471.33"/>
<path d="M1076.08 560.74 L1087.05 555.87"/>
<path d="M1107.37 653.09 L1119.16 650.89"/>
<path d="M1116.55 750.76 L1128.54 751.34"/>
<path d="M1102.87 848.5 L1114.4 851.83"/>
<path d="M1066.79 941 L1077.24 946.89"/>
<path d="M1010 1023.15 L1018.81 1031.3"/>
<path d="M935.35 1090.38 L942.04 1100.34"/>
<path d="M846.68 1138.85 L850.89 1150.09"/>
<path d="M748.65 1165.71 L750.16 1177.62"/>
<path d="M646.48 1169.25 L645.2 1181.18"/>
<path d="M545.67 1148.99 L541.67 1160.31"/>
<path d="M451.72 1105.77 L445.22 1115.86"/>
<path d="M369.81 1041.68 L361.16 1050"/>
<path d="M304.53 959.95 L294.2 966.05"/>
<path d="M259.63 864.84 L248.16 868.39"/>
<path d="M237.75 761.35 L225.78 762.16"/>
<path d="M240.37 655.02 L228.53 653.05"/>
<path d="M267.6 551.58 L256.53 546.94"/>
<path d="M318.24 456.71 L308.54 449.64"/>
<path d="M389.79 375.63 L381.99 366.51"/>
<path d="M478.6 312.91 L473.11 302.24"/>
<path d="M580.04 272.16 L577.16 260.51"/>
<path d="M688.72 255.82 L688.6 243.82"/>
<path d="M798.83 265.05 L801.48 253.35"/>
<path d="M904.4 299.63 L909.68 288.85"/>
<path d="M999.65 357.93 L1007.27 348.66"/>
<path d="M1079.29 437.06 L1088.85 429.8"/>
<path d="M1138.84 532.92 L1149.81 528.06"/>
<path d="M1174.85 640.5 L1186.65 638.3"/>
<path d="M1185.12 754.08 L1197.11 754.66"/>
<path d="M1168.83 867.54 L1180.36 870.87"/>
<path d="M1126.58 974.73 L1137.03 980.63"/>
<path d="M1060.4 1069.77 L1069.21 1077.92"/>
<path d="M973.64 1147.36 L980.33 1157.32"/>
<path d="M870.79 1203.13 L875.01 1214.36"/>
<path d="M757.29 1233.82 L758.8 1245.72"/>
<path d="M639.18 1237.51 L637.9 1249.44"/>
<path d="M522.82 1213.73 L518.83 1225.04"/>
<path d="M414.56 1163.5 L408.06 1173.59"/>
<path d="M320.34 1089.28 L311.69 1097.6"/>
<path d="M245.42 994.86 L235.09 1000.96"/>
<path d="M194.06 885.17 L182.6 888.73"/>
<path d="M169.26 766.02 L157.29 766.83"/>
<path d="M172.65 643.76 L160.81 641.79"/>
<path d="M204.3 525.02 L193.23 520.37"/>
<path d="M262.77 416.26 L253.07 409.19"/>
<path d="M345.15 323.48 L337.34 314.36"/>
<path d="M447.19 251.87 L441.7 241.2"/>
<path d="M563.55 205.52 L560.67 193.87"/>
<path d="M688.05 187.18 L687.93 175.18"/>
<path d="M814 198.1 L816.66 186.4"/>
<path d="M934.61 237.98 L939.89 227.2"/>
<path d="M1043.26 304.91 L1050.88 295.64"/>
<path d="M1133.95 395.52 L1143.51 388.26"/>
<path d="M1201.61 505.11 L1212.58 500.25"/>
<path d="M1242.34 627.92 L1254.14 625.72"/>
<path d="M1253.69 757.39 L1265.68 757.97"/>
<path d="M1234.79 886.58 L1246.31 889.91"/>
<path d="M1186.37 1008.47 L1196.82 1014.37"/>
<path d="M1110.79 1116.38 L1119.6 1124.53"/>
<path d="M1011.92 1204.35 L1018.62 1214.31"/>
<path d="M894.91 1267.4 L899.12 1278.64"/>
<path d="M765.93 1301.92 L767.44 1313.82"/>
<path d="M631.88 1305.77 L630.61 1317.7"/>
<path d="M499.98 1278.47 L495.99 1289.78"/>
<path d="M377.4 1221.22 L370.91 1231.31"/>
<path d="M270.87 1136.88 L262.23 1145.2"/>
<path d="M186.31 1029.77 L175.98 1035.87"/>
<path d="M128.49 905.51 L117.03 909.06"/>
<path d="M100.77 770.68 L88.8 771.5"/>
<path d="M104.93 632.51 L93.09 630.54"/>
<path d="M141 498.45 L129.93 493.8"/>
<path d="M207.3 375.81 L197.61 368.74"/>
<path d="M300.5 271.33 L292.7 262.21"/>
<path d="M415.78 190.83 L410.28 180.16"/>
</g>
<circle cx="577.1" cy="487.4" r="14.8" fill="#a9a9a9"/>
<circle cx="742.6" cy="390.2" r="14.8" fill="#a9a9a9"/>
<circle cx="974" cy="419.1" r="14.8" fill="#a9a9a9"/>
<circle cx="1173.2" cy="610.4" r="14.8" fill="#a9a9a9"/>
<circle cx="1222.9" cy="941.4" r="14.8" fill="#a9a9a9"/>
<circle cx="683.9" cy="1040.3" r="14.3" fill="none" stroke="#a9a9a9" stroke-width="1.5"/>
<circle cx="470.8" cy="1044.3" r="14.3" fill="none" stroke="#a9a9a9" stroke-width="1.5"/>
<circle cx="276.4" cy="924" r="14.3" fill="none" stroke="#a9a9a9" stroke-width="1.5"/>
<circle cx="163.9" cy="667.9" r="14.3" fill="none" stroke="#a9a9a9" stroke-width="1.5"/>
<circle cx="205.1" cy="370.4" r="14.3" fill="none" stroke="#a9a9a9" stroke-width="1.5"/>
<g fill="none" stroke="#000" stroke-width="1.2" shape-rendering="crispEdges">
<path d="M560.11 497.24 L570.86 490.85 L581.91 484.95 L593.24 479.56 L604.83 474.7 L616.66 470.37 L628.7 466.59 L640.92 463.37 L653.31 460.72 L665.83 458.64 L678.45 457.15 L691.16 456.24 L703.91 455.93 L716.69 456.2 L729.47 457.08 L742.22 458.55 L754.9 460.62 L767.5 463.28 L779.99 466.53 L792.33 470.36 L804.51 474.77 L816.48 479.75 L828.24 485.3 L839.74 491.4 L850.97 498.03 L861.9 505.2 L872.5 512.88 L882.75 521.06 L892.62 529.72 L902.1 538.85 L911.16 548.43 L919.78 558.44 L927.94 568.86 L935.62 579.66 L942.8 590.83 L949.47 602.34 L955.6 614.17 L961.19 626.3 L966.21 638.69 L970.66 651.33 L974.53 664.18 L977.79 677.22 L980.46 690.42 L982.5 703.76 L983.93 717.2 L984.74 730.71 L984.91 744.27 L984.45 757.85 L983.36 771.41 L981.63 784.94 L979.28 798.39 L976.29 811.74 L972.68 824.96 L968.46 838.02 L963.62 850.89 L958.18 863.54 L952.14 875.95 L945.53 888.09 L938.34 899.92 L930.6 911.43 L922.31 922.58 L913.51 933.35 L904.19 943.72 L894.38 953.66 L884.11 963.15 L873.39 972.17 L862.24 980.7 L850.69 988.7 L838.75 996.18 L826.46 1003.1 L813.85 1009.46 L800.92 1015.23 L787.73 1020.4 L774.28 1024.96 L760.61 1028.89 L746.75 1032.19 L732.73 1034.85 L718.58 1036.85 L704.33 1038.2 L690 1038.88 L675.64 1038.9 L661.27 1038.25 L646.92 1036.92 L632.62 1034.93 L618.41 1032.27 L604.31 1028.95 L590.37 1024.96 L576.59 1020.33 L563.03 1015.05 L549.71 1009.14 L536.66 1002.6 L523.9 995.45 L511.47 987.7 L499.39 979.37 L487.7 970.47 L476.41 961.03 L465.56 951.05 L455.17 940.56 L445.26 929.58 L435.86 918.13 L426.99 906.24 L418.66 893.93 L410.91 881.23 L403.74 868.16 L397.18 854.75 L391.24 841.03 L385.94 827.02 L381.29 812.76 L377.29 798.27 L373.98 783.6 L371.34 768.76 L369.4 753.79 L368.15 738.72 L367.6 723.59 L367.76 708.42 L368.62 693.26 L370.19 678.12 L372.47 663.06 L375.45 648.09 L379.12 633.26 L383.5 618.59 L388.55 604.11 L394.28 589.87 L400.68 575.88 L407.74 562.19 L415.43 548.82 L423.75 535.81 L432.68 523.17 L442.21 510.95 L452.3 499.16 L462.95 487.84 L474.14 477.01 L485.83 466.69 L498.01 456.92 L510.64 447.71 L523.72 439.09 L537.2 431.07 L551.05 423.67 L565.26 416.92 L579.79 410.82 L594.61 405.4 L609.69 400.67 L625 396.64 L640.49 393.32 L656.15 390.72 L671.94 388.85 L687.82 387.72 L703.76 387.32 L719.73 387.66 L735.68 388.75 L751.59 390.59 L767.42 393.16 L783.14 396.47 L798.71 400.52 L814.09 405.29 L829.26 410.79 L844.18 416.99 L858.82 423.88 L873.14 431.47 L887.11 439.72 L900.71 448.62 L913.89 458.17 L926.64 468.33 L938.91 479.08 L950.69 490.42 L961.95 502.3 L972.65 514.72 L982.78 527.63 L992.32 541.03 L1001.23 554.87 L1009.5 569.13 L1017.11 583.78 L1024.04 598.8 L1030.28 614.14 L1035.8 629.77 L1040.59 645.67 L1044.65 661.8 L1047.95 678.12 L1050.5 694.6 L1052.28 711.2 L1053.29 727.89 L1053.52 744.64 L1052.97 761.4 L1051.64 778.14 L1049.53 794.83 L1046.64 811.42 L1042.98 827.88 L1038.55 844.18 L1033.36 860.27 L1027.42 876.13 L1020.74 891.72 L1013.33 907 L1005.21 921.94 L996.38 936.51 L986.88 950.67 L976.72 964.39 L965.91 977.65 L954.48 990.4 L942.46 1002.62 L929.86 1014.29 L916.71 1025.38 L903.05 1035.85 L888.89 1045.7 L874.27 1054.88 L859.22 1063.39 L843.77 1071.2 L827.95 1078.3 L811.8 1084.65 L795.34 1090.26 L778.62 1095.1 L761.67 1099.17 L744.53 1102.45 L727.23 1104.92 L709.8 1106.6 L692.3 1107.46 L674.75 1107.51 L657.2 1106.74 L639.67 1105.16 L622.22 1102.75 L604.87 1099.54 L587.67 1095.51 L570.65 1090.69 L553.85 1085.07 L537.31 1078.66 L521.06 1071.49 L505.14 1063.55 L489.59 1054.88 L474.44 1045.47 L459.72 1035.36 L445.47 1024.56 L431.72 1013.1 L418.5 1000.99 L405.84 988.26 L393.78 974.94 L382.32 961.06 L371.52 946.64 L361.38 931.71 L351.93 916.31 L343.2 900.46 L335.2 884.21 L327.96 867.58 L321.5 850.61 L315.82 833.33 L310.94 815.78 L306.89 798.01 L303.65 780.04 L301.26 761.92 L299.7 743.68 L299 725.36 L299.15 707.01 L300.15 688.67 L302.01 670.36 L304.72 652.14 L308.28 634.04 L312.68 616.1 L317.92 598.37 L323.98 580.87 L330.86 563.66 L338.55 546.76 L347.02 530.22 L356.26 514.06 L366.26 498.34 L376.99 483.07 L388.43 468.31 L400.57 454.07 L413.37 440.4 L426.8 427.32 L440.85 414.86 L455.48 403.06 L470.67 391.93 L486.37 381.51 L502.56 371.82 L519.21 362.88 L536.27 354.71 L553.72 347.34 L571.51 340.78 L589.61 335.05 L607.99 330.15 L626.59 326.12 L645.38 322.94 L664.33 320.65 L683.38 319.23 L702.5 318.7 L721.65 319.06 L740.79 320.31 L759.87 322.46 L778.85 325.49 L797.7 329.41 L816.36 334.2 L834.81 339.86 L852.99 346.39 L870.88 353.76 L888.42 361.96 L905.58 370.99 L922.32 380.81 L938.61 391.41 L954.41 402.77 L969.68 414.87 L984.39 427.69 L998.51 441.18 L1012 455.34 L1024.83 470.13 L1036.97 485.52 L1048.4 501.47 L1059.09 517.96 L1069.02 534.94 L1078.15 552.39 L1086.47 570.27 L1093.96 588.54 L1100.6 607.16 L1106.37 626.09 L1111.27 645.29 L1115.27 664.72 L1118.36 684.34 L1120.55 704.1 L1121.81 723.97 L1122.15 743.9 L1121.56 763.85 L1120.05 783.77 L1117.6 803.62 L1114.23 823.36 L1109.94 842.95 L1104.74 862.34 L1098.64 881.49 L1091.64 900.35 L1083.77 918.89 L1075.03 937.07 L1065.45 954.84 L1055.03 972.17 L1043.81 989.01 L1031.81 1005.34 L1019.04 1021.1 L1005.54 1036.27 L991.33 1050.82 L976.44 1064.7 L960.91 1077.9 L944.76 1090.37 L928.03 1102.09 L910.75 1113.03 L892.96 1123.17 L874.7 1132.48 L856 1140.94 L836.91 1148.53 L817.47 1155.24 L797.71 1161.04 L777.68 1165.92 L757.42 1169.87 L736.97 1172.87 L716.39 1174.92 L695.71 1176.02 L674.97 1176.15 L654.23 1175.32 L633.53 1173.52 L612.91 1170.76 L592.41 1167.04 L572.09 1162.37 L551.99 1156.75 L532.14 1150.19 L512.6 1142.71 L493.41 1134.32 L474.61 1125.03 L456.23 1114.87 L438.33 1103.85 L420.95 1092 L404.11 1079.35 L387.86 1065.9 L372.24 1051.7 L357.28 1036.77 L343.01 1021.15 L329.47 1004.86 L316.68 987.94 L304.69 970.42 L293.51 952.35 L283.17 933.75 L273.69 914.68 L265.1 895.16 L257.42 875.24 L250.67 854.96 L244.86 834.37 L240.01 813.51 L236.13 792.42 L233.23 771.15 L231.32 749.75 L230.41 728.25 L230.5 706.72 L231.59 685.18 L233.68 663.7 L236.77 642.32 L240.86 621.07 L245.94 600.02 L251.99 579.21 L259.02 558.67 L267 538.47 L275.92 518.63 L285.77 499.21 L296.51 480.25 L308.14 461.79 L320.63 443.87 L333.96 426.53 L348.09 409.81 L363 393.75 L378.65 378.38 L395.03 363.74 L412.08 349.87 L429.78 336.78 L448.08 324.52 L466.96 313.12 L486.37 302.59 L506.27 292.96 L526.61 284.27 L547.36 276.51 L568.47 269.73 L589.9 263.93 L611.59 259.12 L633.51 255.32 L655.61 252.55 L677.83 250.8 L700.13 250.09 L722.47 250.41 L744.79 251.78 L767.05 254.18 L789.19 257.62 L811.18 262.09 L832.95 267.58 L854.47 274.08 L875.69 281.59 L896.55 290.08 L917.02 299.55 L937.05 309.96 L956.59 321.31 L975.61 333.57 L994.05 346.71 L1011.88 360.71 L1029.06 375.54 L1045.54 391.17 L1061.3 407.56 L1076.3 424.69 L1090.5 442.51 L1103.87 460.99 L1116.37 480.1 L1127.99 499.78 L1138.69 520.01 L1148.45 540.73 L1157.25 561.91 L1165.05 583.49 L1171.86 605.44 L1177.64 627.7 L1182.38 650.23 L1186.08 672.98 L1188.72 695.9 L1190.29 718.94 L1190.79 742.05 L1190.21 765.18 L1188.56 788.29 L1185.83 811.32 L1182.03 834.22 L1177.17 856.94 L1171.24 879.43 L1164.28 901.65 L1156.28 923.54 L1147.26 945.05 L1137.24 966.15 L1126.23 986.77 L1114.27 1006.89 L1101.38 1026.44 L1087.57 1045.4 L1072.89 1063.71 L1057.35 1081.33 L1041 1098.24 L1023.86 1114.37 L1005.97 1129.71 L987.36 1144.22 L968.09 1157.86 L948.18 1170.6 L927.68 1182.41 L906.63 1193.27 L885.08 1203.15 L863.07 1212.03 L840.65 1219.88 L817.86 1226.68 L794.77 1232.43 L771.4 1237.1 L747.82 1240.68 L724.08 1243.16 L700.22 1244.54 L676.3 1244.81 L652.37 1243.97 L628.49 1242.01 L604.69 1238.94 L581.04 1234.77 L557.59 1229.49 L534.39 1223.12 L511.48 1215.68 L488.92 1207.17 L466.77 1197.61 L445.05 1187.02 L423.84 1175.42 L403.16 1162.84 L383.08 1149.29 L363.62 1134.81 L344.84 1119.43 L326.78 1103.18 L309.48 1086.09 L292.97 1068.19 L277.3 1049.53 L262.5 1030.14 L248.61 1010.06 L235.65 989.35 L223.65 968.02 L212.65 946.15 L202.67 923.76 L193.73 900.92 L185.85 877.66 L179.06 854.03 L173.37 830.1 L168.79 805.9 L165.34 781.49 L163.02 756.92 L161.85 732.25 L161.82 707.53 L162.95 682.81 L165.23 658.14 L168.65 633.59 L173.22 609.19 L178.92 585.01 L185.74 561.11 L193.68 537.52 L202.71 514.3 L212.82 491.51 L223.99 469.19 L236.2 447.39 L249.42 426.17 L263.63 405.56 L278.79 385.62 L294.88 366.38 L311.86 347.9 L329.7 330.21 L348.36 313.35 L367.8 297.36 L387.98 282.28 L408.86 268.14 L430.4 254.97 L452.55 242.81 L475.25 231.68 L498.48 221.61 L522.16 212.62 L546.27 204.73 L570.73 197.97 L595.51 192.34 L620.54 187.87 L645.78 184.57 L671.17 182.44 L696.65 181.49 L722.18 181.72 L747.69 183.15 L773.13 185.76 L798.44 189.55 L823.57 194.52 L848.47 200.66 L873.08 207.96 L897.34 216.4 L921.21 225.97 L944.63 236.65 L967.54 248.41 L989.91 261.24 L1011.67 275.11 L1032.79 289.99 L1053.21 305.85 L1072.89 322.65 L1091.79 340.37 L1109.85 358.97 L1127.05 378.4 L1143.34 398.63 L1158.69 419.61 L1173.06 441.3 L1186.42 463.66 L1198.73 486.64 L1209.98 510.18 L1220.12 534.24 L1229.15 558.78 L1237.03 583.72 L1243.75 609.03 L1249.29 634.65 L1253.64 660.52 L1256.78 686.59 L1258.71 712.8 L1259.42 739.09 L1258.91 765.41 L1257.17 791.71 L1254.21 817.91 L1250.03 843.98 L1244.64 869.85 L1238.05 895.46 L1230.26 920.75 L1221.3 945.69 L1211.19 970.2 L1199.93 994.23 L1187.56 1017.74 L1174.1 1040.66 L1159.57 1062.96 L1144.01 1084.57 L1127.44 1105.46 L1109.91 1125.57 L1091.45 1144.87 L1072.09 1163.3 L1051.88 1180.82 L1030.85 1197.4 L1009.06 1213 L986.55 1227.59 L963.36 1241.12 L939.55 1253.57 L915.17 1264.91 L890.26 1275.12 L864.88 1284.16 L839.09 1292.02 L812.93 1298.68 L786.48 1304.13 L759.77 1308.34 L732.88 1311.3 L705.85 1313.02 L678.74 1313.47 L651.63 1312.67 L624.55 1310.6 L597.58 1307.28 L570.77 1302.7 L544.17 1296.87 L517.86 1289.81 L491.87 1281.53 L466.28 1272.04 L441.14 1261.36 L416.49 1249.51 L392.41 1236.52 L368.93 1222.41 L346.12 1207.21 L324.01 1190.96 L302.67 1173.68 L282.14 1155.41 L262.46 1136.19 L243.68 1116.06 L225.84 1095.06 L208.99 1073.23 L193.15 1050.63 L178.36 1027.29 L164.67 1003.27 L152.09 978.62 L140.67 953.39 L130.42 927.63 L121.37 901.41 L113.55 874.76 L106.96 847.77 L101.64 820.47 L97.58 792.93 L94.81 765.2 L93.32 737.36 L93.14 709.45 L94.25 681.54 L96.66 653.69 L100.36 625.95 L105.36 598.4 L111.63 571.08 L119.17 544.07 L127.97 517.41 L138.01 491.16 L149.26 465.39 L161.71 440.15 L175.34 415.5 L190.1 391.48 L205.98 368.16 L222.94 345.58 L240.95 323.8 L259.96 302.85 L279.95 282.8 L300.86 263.69 L322.66 245.55 L345.29 228.43 L368.72 212.36 L392.89 197.4 L417.74 183.55 L443.24 170.87 L469.32 159.38 L495.92 149.1 L523 140.07 L550.49 132.29 L578.34 125.8 L606.48 120.6 L634.86 116.72 L663.41 114.15"/>
<path d="M618.13 469.88 L609.98 441.66" stroke-width="1.3"/>
<path d="M680.1 457 L678.65 427.32" stroke-width="1.3"/>
<path d="M743.95 458.8 L749.39 429.59" stroke-width="1.3"/>
<path d="M806.23 475.45 L816.79 451.59" stroke-width="1.3"/>
<path d="M863.5 506.31 L878.24 486.9" stroke-width="1.3"/>
<path d="M912.53 549.96 L930.82 534.91" stroke-width="1.3"/>
<path d="M950.5 604.24 L972.79 593.31" stroke-width="1.3"/>
<path d="M975.12 666.36 L1001.12 660.46" stroke-width="1.3"/>
<path d="M984.81 733.08 L1015.7 733.37" stroke-width="1.3"/>
<path d="M978.78 800.82 L1010.51 808.66" stroke-width="1.3"/>
<path d="M957.09 865.89 L986.16 880.84" stroke-width="1.3"/>
<path d="M920.64 924.7 L944.93 945.48" stroke-width="1.3"/>
<path d="M871.19 973.92 L890.88 1000.91" stroke-width="1.3"/>
<path d="M811.19 1010.7 L824.15 1041.54" stroke-width="1.3"/>
<path d="M743.77 1032.81 L749.62 1067.95" stroke-width="1.3"/>
<path d="M672.48 1038.81 L670.07 1074.35" stroke-width="1.3"/>
<path d="M601.14 1028.1 L590.66 1061.95" stroke-width="1.3"/>
<path d="M533.66 1000.99 L516.64 1029.83" stroke-width="1.3"/>
<path d="M473.78 958.68 L446.6 986.95" stroke-width="1.3"/>
<path d="M424.89 903.26 L388.72 926.55" stroke-width="1.3"/>
<path d="M389.84 837.52 L349.28 851.85" stroke-width="1.3"/>
<path d="M370.77 764.9 L331.26 769.13" stroke-width="1.3"/>
<path d="M368.97 689.24 L332.11 684.58" stroke-width="1.3"/>
<path d="M384.8 614.64 L355.91 603.81" stroke-width="1.3"/>
<path d="M417.68 545.17 L394.38 529.52" stroke-width="1.3"/>
<path d="M466.08 484.71 L448 465.17" stroke-width="1.3"/>
<path d="M527.6 436.69 L515.76 415.73" stroke-width="1.3"/>
<path d="M599.07 403.92 L592.13 379.93" stroke-width="1.3"/>
<path d="M676.76 388.43 L675.32 358.83" stroke-width="1.3"/>
<path d="M756.51 391.31 L762.98 356.59" stroke-width="1.3"/>
<path d="M834.02 412.67 L848.73 379.44" stroke-width="1.3"/>
<path d="M905.01 451.64 L927 422.69" stroke-width="1.3"/>
<path d="M965.54 506.34 L992.28 484.33" stroke-width="1.3"/>
<path d="M1012.13 574.01 L1043.16 558.8" stroke-width="1.3"/>
<path d="M1042.06 651.17 L1077.55 643.12" stroke-width="1.3"/>
<path d="M1053.46 733.73 L1089.84 734.08" stroke-width="1.3"/>
<path d="M1045.43 817.29 L1076.2 824.89" stroke-width="1.3"/>
<path d="M1018.14 897.29 L1046.94 912.09" stroke-width="1.3"/>
<path d="M972.81 969.33 L997.41 990.38" stroke-width="1.3"/>
<path d="M911.65 1029.38 L930.79 1055.59" stroke-width="1.3"/>
<path d="M837.78 1073.99 L851.56 1106.8" stroke-width="1.3"/>
<path d="M755.05 1100.53 L761.01 1136.35" stroke-width="1.3"/>
<path d="M667.83 1107.31 L665.38 1143.53" stroke-width="1.3"/>
<path d="M580.83 1093.68 L570.13 1128.21" stroke-width="1.3"/>
<path d="M498.77 1060.11 L480.08 1091.77" stroke-width="1.3"/>
<path d="M426.19 1008.17 L399.49 1035.93" stroke-width="1.3"/>
<path d="M367.18 940.43 L334.76 961.31" stroke-width="1.3"/>
<path d="M325.11 860.38 L287.93 873.52" stroke-width="1.3"/>
<path d="M302.51 772.21 L263.3 776.42" stroke-width="1.3"/>
<path d="M300.86 680.62 L262.27 675.74" stroke-width="1.3"/>
<path d="M320.52 590.54 L285.3 577.34" stroke-width="1.3"/>
<path d="M360.69 506.9 L330.8 486.83" stroke-width="1.3"/>
<path d="M419.45 434.33 L396.06 409.05" stroke-width="1.3"/>
<path d="M493.84 376.91 L478.54 349.81" stroke-width="1.3"/>
<path d="M580.01 337.97 L572.07 310.49" stroke-width="1.3"/>
<path d="M673.42 319.86 L672.06 291.9" stroke-width="1.3"/>
<path d="M769.08 323.82 L774.78 293.18" stroke-width="1.3"/>
<path d="M861.81 349.9 L874.81 320.54" stroke-width="1.3"/>
<path d="M946.53 396.97 L966.18 371.09" stroke-width="1.3"/>
<path d="M1018.54 462.71 L1045.81 440.27" stroke-width="1.3"/>
<path d="M1073.77 543.79 L1107.09 527.45" stroke-width="1.3"/>
<path d="M1109.01 635.97 L1150.26 626.61" stroke-width="1.3"/>
<path d="M1122.1 734.39 L1164.4 734.79" stroke-width="1.3"/>
<path d="M1112.07 833.75 L1151.58 843.52" stroke-width="1.3"/>
<path d="M1079.19 928.68 L1114.36 946.77" stroke-width="1.3"/>
<path d="M1024.98 1013.96 L1054.07 1038.85" stroke-width="1.3"/>
<path d="M952.12 1084.83 L972.4 1112.62" stroke-width="1.3"/>
<path d="M864.37 1137.28 L877.71 1169.03" stroke-width="1.3"/>
<path d="M766.32 1168.25 L771.98 1202.22" stroke-width="1.3"/>
<path d="M663.19 1175.8 L660.94 1208.98" stroke-width="1.3"/>
<path d="M560.51 1159.25 L550.1 1192.84" stroke-width="1.3"/>
<path d="M463.88 1119.23 L445.79 1149.88" stroke-width="1.3"/>
<path d="M378.61 1057.65 L352.91 1084.37" stroke-width="1.3"/>
<path d="M309.46 977.61 L276.44 998.88" stroke-width="1.3"/>
<path d="M260.38 883.25 L222.98 896.46" stroke-width="1.3"/>
<path d="M234.25 779.53 L194.82 783.76" stroke-width="1.3"/>
<path d="M232.75 672 L194.54 667.16" stroke-width="1.3"/>
<path d="M256.23 566.45 L224.06 554.39" stroke-width="1.3"/>
<path d="M303.69 468.63 L275.17 449.47" stroke-width="1.3"/>
<path d="M372.82 383.94 L349.53 358.78" stroke-width="1.3"/>
<path d="M460.08 317.14 L439.9 281.4" stroke-width="1.3"/>
<path d="M560.95 272.02 L548.38 228.53" stroke-width="1.3"/>
<path d="M670.08 251.29 L667.47 197.62" stroke-width="1.3"/>
<path d="M781.64 256.33 L791.48 203.5" stroke-width="1.3"/>
<path d="M889.6 287.13 L909.87 241.34" stroke-width="1.3"/>
<path d="M988.05 342.29 L1017.94 302.93" stroke-width="1.3"/>
<path d="M1071.55 419.09 L1103.44 392.84" stroke-width="1.3"/>
<path d="M1135.41 513.57 L1173.87 494.71" stroke-width="1.3"/>
<path d="M1175.96 620.78 L1217.95 611.25" stroke-width="1.3"/>
<path d="M1190.75 735.04 L1247.69 735.59" stroke-width="1.3"/>
<path d="M1178.72 850.22 L1234 863.88" stroke-width="1.3"/>
<path d="M1140.24 960.07 L1180.03 980.53" stroke-width="1.3"/>
<path d="M1077.14 1058.58 L1110.5 1087.12" stroke-width="1.3"/>
<path d="M992.59 1140.28 L1016.49 1173.03" stroke-width="1.3"/>
<path d="M890.96 1200.58 L906.54 1237.67" stroke-width="1.3"/>
<path d="M777.6 1235.97 L784.11 1275.09" stroke-width="1.3"/>
<path d="M658.54 1244.29 L655.98 1282.08" stroke-width="1.3"/>
<path d="M540.2 1224.83 L529.01 1260.93" stroke-width="1.3"/>
<path d="M428.99 1178.36 L409.87 1210.74" stroke-width="1.3"/>
<path d="M331.02 1107.13 L304.64 1134.57" stroke-width="1.3"/>
<path d="M251.75 1014.78 L216.16 1037.71" stroke-width="1.3"/>
<path d="M195.65 906.11 L155.73 920.21" stroke-width="1.3"/>
<path d="M166 786.85 L124.36 791.32" stroke-width="1.3"/>
<path d="M164.65 663.38 L123.14 658.13" stroke-width="1.3"/>
<path d="M191.95 542.35 L153.77 528.05" stroke-width="1.3"/>
<path d="M246.7 430.36 L213.96 408.38" stroke-width="1.3"/>
<path d="M326.18 333.56 L300.56 305.88" stroke-width="1.3"/>
<path d="M426.33 257.36 L407.05 223.22" stroke-width="1.3"/>
<path d="M541.89 206.07 L531 168.41" stroke-width="1.3"/>
<path d="M666.74 182.72 L664.87 144.32" stroke-width="1.3"/>
<path d="M794.21 188.84 L801.06 152.02" stroke-width="1.3"/>
<path d="M917.39 224.35 L930.76 194.15" stroke-width="1.3"/>
<path d="M1029.57 287.62 L1048.76 262.35" stroke-width="1.3"/>
<path d="M1124.56 375.46 L1149.06 355.3" stroke-width="1.3"/>
<path d="M1197.05 483.34 L1225.51 469.39" stroke-width="1.3"/>
<path d="M1242.91 605.59 L1273 598.76" stroke-width="1.3"/>
<path d="M1259.4 735.7 L1292.27 736.01" stroke-width="1.3"/>
<path d="M1245.37 866.69 L1277.28 874.58" stroke-width="1.3"/>
<path d="M1201.3 991.47 L1232.33 1007.43" stroke-width="1.3"/>
<path d="M1129.31 1103.21 L1155.82 1125.89" stroke-width="1.3"/>
<path d="M1033.06 1195.74 L1051.61 1221.16" stroke-width="1.3"/>
<path d="M917.55 1263.87 L929.71 1292.81" stroke-width="1.3"/>
<path d="M788.88 1303.69 L794.03 1334.65" stroke-width="1.3"/>
<path d="M653.9 1312.78 L651.83 1343.23" stroke-width="1.3"/>
<path d="M519.88 1290.4 L510.74 1319.91" stroke-width="1.3"/>
<path d="M394.1 1237.48 L378.4 1264.08" stroke-width="1.3"/>
<path d="M283.44 1156.62 L262.9 1177.98" stroke-width="1.3"/>
<path d="M194.04 1051.96 L169.67 1067.65" stroke-width="1.3"/>
<path d="M130.92 928.97 L104.92 938.16" stroke-width="1.3"/>
<path d="M97.74 794.17 L69.71 797.18" stroke-width="1.3"/>
<path d="M96.54 654.76 L68.31 651.19" stroke-width="1.3"/>
<path d="M127.67 518.26 L101.03 508.27" stroke-width="1.3"/>
<path d="M189.71 392.09 L166.85 376.74" stroke-width="1.3"/>
<path d="M279.55 283.18 L261.65 263.84" stroke-width="1.3"/>
<path d="M392.57 197.58 L379.86 175.06" stroke-width="1.3"/>
<path d="M522.83 140.12 L515.9 116.16" stroke-width="1.3"/>
<path d="M663.41 114.15 L662.25 90.34" stroke-width="1.3"/>
</g>
<g font-family="'Liberation Sans', sans-serif" font-size="17.3" fill="#000" text-anchor="middle" stroke="#fff" stroke-width="0.2">
<text transform="translate(726.49 478) rotate(5.94)" textLength="64.29" lengthAdjust="spacingAndGlyphs">22-Apr</text>
<text transform="translate(885.77 552.41) rotate(45.94)" textLength="64.29" lengthAdjust="spacingAndGlyphs">25-Apr</text>
<text transform="translate(962.61 716.28) rotate(85.94)" textLength="64.29" lengthAdjust="spacingAndGlyphs">28-Apr</text>
<text transform="translate(922.82 907.61) rotate(-54.06)" textLength="67.43" lengthAdjust="spacingAndGlyphs">01-May</text>
<text transform="translate(757.86 1020.74) rotate(-14.06)" textLength="67.43" lengthAdjust="spacingAndGlyphs">04-May</text>
<text transform="translate(553.55 1001.41) rotate(25.94)" textLength="67.43" lengthAdjust="spacingAndGlyphs">07-May</text>
<text transform="translate(405.43 851.97) rotate(65.94)" textLength="67.43" lengthAdjust="spacingAndGlyphs">10-May</text>
<text transform="translate(398.61 640.45) rotate(-74.06)" textLength="67.43" lengthAdjust="spacingAndGlyphs">13-May</text>
<text transform="translate(520.37 466.19) rotate(-34.06)" textLength="67.43" lengthAdjust="spacingAndGlyphs">16-May</text>
<text transform="translate(730.55 409.13) rotate(5.94)" textLength="67.43" lengthAdjust="spacingAndGlyphs">19-May</text>
<text transform="translate(933.15 502.26) rotate(45.94)" textLength="67.43" lengthAdjust="spacingAndGlyphs">22-May</text>
<text transform="translate(1031.14 708.32) rotate(85.94)" textLength="67.43" lengthAdjust="spacingAndGlyphs">25-May</text>
<text transform="translate(982.61 941.34) rotate(-54.06)" textLength="67.43" lengthAdjust="spacingAndGlyphs">28-May</text>
<text transform="translate(781.97 1085.01) rotate(-14.06)" textLength="67.43" lengthAdjust="spacingAndGlyphs">31-May</text>
<text transform="translate(528.29 1065.13) rotate(25.94)" textLength="64.57" lengthAdjust="spacingAndGlyphs">03-Jun</text>
<text transform="translate(345.13 884.54) rotate(65.94)" textLength="64.57" lengthAdjust="spacingAndGlyphs">06-Jun</text>
<text transform="translate(331.48 626.64) rotate(-74.06)" textLength="64.57" lengthAdjust="spacingAndGlyphs">09-Jun</text>
<text transform="translate(477.83 412.46) rotate(-34.06)" textLength="64.57" lengthAdjust="spacingAndGlyphs">12-Jun</text>
<text transform="translate(732.49 340.62) rotate(5.94)" textLength="64.57" lengthAdjust="spacingAndGlyphs">15-Jun</text>
<text transform="translate(978.67 451.03) rotate(45.94)" textLength="64.57" lengthAdjust="spacingAndGlyphs">18-Jun</text>
<text transform="translate(1098.94 698.33) rotate(85.94)" textLength="64.57" lengthAdjust="spacingAndGlyphs">21-Jun</text>
<text transform="translate(1040.97 977.28) rotate(-54.06)" textLength="64.57" lengthAdjust="spacingAndGlyphs">24-Jun</text>
<text transform="translate(803.58 1150.06) rotate(-14.06)" textLength="64.57" lengthAdjust="spacingAndGlyphs">27-Jun</text>
<text transform="translate(505.45 1129.87) rotate(25.94)" textLength="64.57" lengthAdjust="spacingAndGlyphs">30-Jun</text>
<text transform="translate(285.35 917.61) rotate(65.94)" textLength="58.29" lengthAdjust="spacingAndGlyphs">03-Jul</text>
<text transform="translate(264.42 613.54) rotate(-74.06)" textLength="58.29" lengthAdjust="spacingAndGlyphs">06-Jul</text>
<text transform="translate(434.87 359.32) rotate(-34.06)" textLength="58.29" lengthAdjust="spacingAndGlyphs">09-Jul</text>
<text transform="translate(733.74 272.31) rotate(5.94)" textLength="58.29" lengthAdjust="spacingAndGlyphs">12-Jul</text>
<text transform="translate(1023.54 399.5) rotate(45.94)" textLength="58.29" lengthAdjust="spacingAndGlyphs">15-Jul</text>
<text transform="translate(1166.43 687.7) rotate(85.94)" textLength="58.29" lengthAdjust="spacingAndGlyphs">18-Jul</text>
<text transform="translate(1099.5 1012.52) rotate(-54.06)" textLength="58.29" lengthAdjust="spacingAndGlyphs">21-Jul</text>
<text transform="translate(825.77 1214.67) rotate(-14.06)" textLength="58.29" lengthAdjust="spacingAndGlyphs">24-Jul</text>
<text transform="translate(480.91 1193.63) rotate(25.94)" textLength="58.29" lengthAdjust="spacingAndGlyphs">27-Jul</text>
<text transform="translate(226.23 952.52) rotate(65.94)" textLength="58.29" lengthAdjust="spacingAndGlyphs">30-Jul</text>
<text transform="translate(196.04 603.69) rotate(-74.06)" textLength="65.71" lengthAdjust="spacingAndGlyphs">02-Aug</text>
<text transform="translate(388.82 307.82) rotate(-34.06)" textLength="65.71" lengthAdjust="spacingAndGlyphs">05-Aug</text>
<text transform="translate(731.57 203.26) rotate(5.94)" textLength="65.71" lengthAdjust="spacingAndGlyphs">08-Aug</text>
<text transform="translate(1066.26 345.21) rotate(45.94)" textLength="65.71" lengthAdjust="spacingAndGlyphs">11-Aug</text>
<text transform="translate(1234.06 673.57) rotate(85.94)" textLength="65.71" lengthAdjust="spacingAndGlyphs">14-Aug</text>
<text transform="translate(1160.39 1045.17) rotate(-54.06)" textLength="65.71" lengthAdjust="spacingAndGlyphs">17-Aug</text>
<text transform="translate(851.42 1278.82) rotate(-14.06)" textLength="65.71" lengthAdjust="spacingAndGlyphs">20-Aug</text>
<text transform="translate(459.33 1259.26) rotate(25.94)" textLength="65.71" lengthAdjust="spacingAndGlyphs">23-Aug</text>
<text transform="translate(167.52 988.93) rotate(65.94)" textLength="65.71" lengthAdjust="spacingAndGlyphs">26-Aug</text>
<text transform="translate(128.32 592.44) rotate(-74.06)" textLength="65.71" lengthAdjust="spacingAndGlyphs">29-Aug</text>
</g>
<circle cx="41.9" cy="28.3" r="15" fill="#a9a9a9"/>
<circle cx="41.9" cy="84.3" r="14.3" fill="none" stroke="#a9a9a9" stroke-width="1.5"/>
<text y="28" font-family="'Liberation Sans', sans-serif" font-size="16.8" fill="#000" stroke="#fff" stroke-width="0.35"><tspan x="70.4" textLength="31.1" lengthAdjust="spacingAndGlyphs">New</tspan> <tspan x="109.7" textLength="41.4" lengthAdjust="spacingAndGlyphs">Moon</tspan></text>
<text y="84" font-family="'Liberation Sans', sans-serif" font-size="16.8" fill="#000" stroke="#fff" stroke-width="0.35"><tspan x="70.4" textLength="26.5" lengthAdjust="spacingAndGlyphs">Full</tspan> <tspan x="105" textLength="41.1" lengthAdjust="spacingAndGlyphs">Moon</tspan></text>
<text y="38" font-family="'Liberation Sans', sans-serif" font-size="16.8" fill="#000" stroke="#fff" stroke-width="0.35"><tspan x="1266.6" textLength="55.3" lengthAdjust="spacingAndGlyphs">Period:</tspan> <tspan x="1329" textLength="21.8" lengthAdjust="spacingAndGlyphs">27</tspan> <tspan x="1358" textLength="37.1" lengthAdjust="spacingAndGlyphs">days</tspan></text>
<text y="1395" font-family="'Liberation Sans', sans-serif" font-size="16.8" fill="#000" stroke="#fff" stroke-width="0.35"><tspan x="4.7" textLength="58.9" lengthAdjust="spacingAndGlyphs">GI-UAF</tspan> <tspan x="70" textLength="41.8" lengthAdjust="spacingAndGlyphs">2023</tspan></text>
<text y="1395" font-family="'Liberation Sans', sans-serif" font-size="16.8" fill="#000" stroke="#fff" stroke-width="0.35"><tspan x="1072" textLength="89.5" lengthAdjust="spacingAndGlyphs">Condegram</tspan> <tspan x="1170.3" textLength="53.7" lengthAdjust="spacingAndGlyphs">plotted</tspan> <tspan x="1231.5" textLength="29.5" lengthAdjust="spacingAndGlyphs">Sep</tspan> <tspan x="1269" textLength="21.3" lengthAdjust="spacingAndGlyphs">04</tspan> <tspan x="1297.3" textLength="16.7" lengthAdjust="spacingAndGlyphs">at</tspan> <tspan x="1320.3" textLength="45" lengthAdjust="spacingAndGlyphs">01:01</tspan> <tspan x="1375.3" textLength="20.7" lengthAdjust="spacingAndGlyphs">UT</tspan></text>
<text x="700" y="49.7" font-family="'Liberation Sans', sans-serif" font-size="15" fill="#000" text-anchor="start" textLength="27" lengthAdjust="spacingAndGlyphs" font-weight="bold">250</text>
<text x="700" y="71.6" font-family="'Liberation Sans', sans-serif" font-size="15" fill="#000" text-anchor="start" textLength="27" lengthAdjust="spacingAndGlyphs" font-weight="bold">190</text>
<text x="700" y="94.6" font-family="'Liberation Sans', sans-serif" font-size="15" fill="#000" text-anchor="start" textLength="27" lengthAdjust="spacingAndGlyphs" font-weight="bold">130</text>
<path d="M688 573.3 V642.4" stroke="#000" stroke-width="2" fill="none"/>
<path d="M671 573.5 H707 M671 642.5 H707" stroke="#000" stroke-width="1" fill="none" shape-rendering="crispEdges"/>
<text y="580" font-family="'Liberation Sans', sans-serif" font-size="19.6" fill="#000" stroke="#fff" stroke-width="0.5"><tspan x="718" textLength="38.1" lengthAdjust="spacingAndGlyphs">250</tspan> <tspan x="765.9" textLength="30.2" lengthAdjust="spacingAndGlyphs">sfu</tspan></text>
<text y="648" font-family="'Liberation Sans', sans-serif" font-size="19.6" fill="#000" stroke="#fff" stroke-width="0.5"><tspan x="718" textLength="25.9" lengthAdjust="spacingAndGlyphs">70</tspan> <tspan x="753.7" textLength="29.2" lengthAdjust="spacingAndGlyphs">sfu</tspan></text>
<text y="728" font-family="'Liberation Serif', serif" font-size="36" fill="#ff3030" font-style="italic" stroke="#fff" stroke-width="0.7"><tspan x="558.1" textLength="77.6" lengthAdjust="spacingAndGlyphs">10.7</tspan> <tspan x="653" textLength="59.3" lengthAdjust="spacingAndGlyphs">cm</tspan> <tspan x="727.7" textLength="106.9" lengthAdjust="spacingAndGlyphs">Solar</tspan></text>
<text y="759" font-family="'Liberation Serif', serif" font-size="36" fill="#ff3030" font-style="italic" stroke="#fff" stroke-width="0.7"><tspan x="582.6" textLength="112.1" lengthAdjust="spacingAndGlyphs">Radio</tspan> <tspan x="711.7" textLength="90.9" lengthAdjust="spacingAndGlyphs">Flux</tspan></text>
<text y="804.5" font-family="'Liberation Sans', sans-serif" font-size="33.5" fill="#ff3030" stroke="#fff" stroke-width="1.1"><tspan x="635.3" textLength="44.5" lengthAdjust="spacingAndGlyphs">70</tspan> <tspan x="695.9" textLength="53" lengthAdjust="spacingAndGlyphs">sfu</tspan></text>
<text y="885.7" font-family="'Liberation Sans', sans-serif" font-size="30" fill="#ff3030" stroke="#fff" stroke-width="1.1"><tspan x="569.7" textLength="97.6" lengthAdjust="spacingAndGlyphs">Latest:</tspan> <tspan x="681.1" textLength="83.8" lengthAdjust="spacingAndGlyphs">20:00</tspan> <tspan x="780.5" textLength="36.9" lengthAdjust="spacingAndGlyphs">UT</tspan></text>
<text y="912" font-family="'Liberation Sans', sans-serif" font-size="29" fill="#ff3030" stroke="#fff" stroke-width="1.1"><tspan x="586.2" textLength="212.9" lengthAdjust="spacingAndGlyphs">2023-Sep-03</tspan></text>
</svg>
</body></html>
